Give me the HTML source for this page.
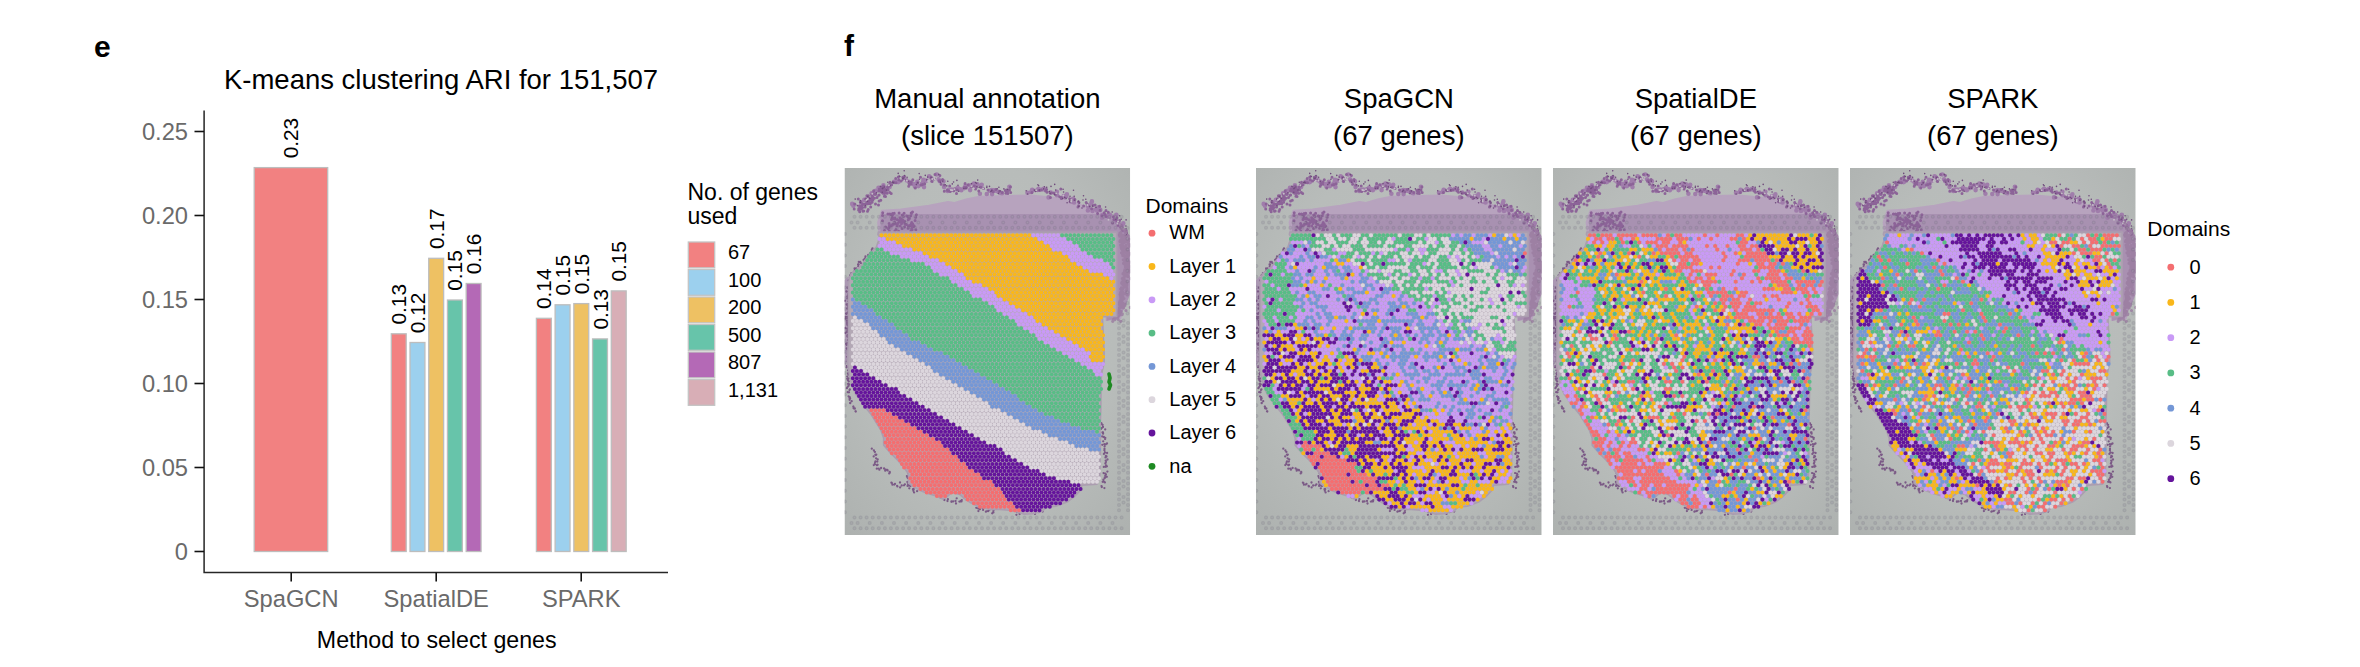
<!DOCTYPE html><html><head><meta charset="utf-8"><title>figure</title><style>html,body{margin:0;padding:0;background:#fff}body{width:2360px;height:667px;overflow:hidden}svg{display:block}</style></head><body><svg width="2360" height="667" viewBox="0 0 2360 667" font-family="Liberation Sans, Arial, Helvetica, sans-serif"><defs><radialGradient id="bgg" cx="0.5" cy="0.45" r="0.75"><stop offset="0" stop-color="#bcc0be"/><stop offset="0.6" stop-color="#b8bcba"/><stop offset="1" stop-color="#adb1af"/></radialGradient><clipPath id="pc"><rect width="285.7" height="367"/></clipPath><g id="tb" clip-path="url(#pc)"><rect width="285.7" height="367" fill="url(#bgg)"/><path d="M34.9 66L33.6 54.2L37.4 42.8L56.5 41.5L84.5 37.7L103.5 33.9L110 35L122.6 31.3L135.3 28.8L160.7 28.1L186.2 27.5L211.6 30L230.7 35.1L249.7 41.5L268.8 50.4L276 57L276 150L262 152L262 66Z" fill="#b7a3be" stroke="#b7a3be" stroke-width="2" stroke-linejoin="round"/><path d="M36 46H274V66H36Z" fill="#8d739c" opacity="0.36"/><path d="M270 58L279 60L285.7 68V126L281 138L275 149L262 153V147H270Z" fill="#a990b1"/><path d="M0 112L4 108V190L0 200Z" fill="#a990b1" opacity="0.8"/><g fill="none" stroke-linecap="round"><path d="M7.7 35.9h0M8.9 37.7h0M16.6 34.2h0M19.8 31.9h0M27.1 25.4h0M29.8 24.3h0M30.4 25.7h0M34 19.7h0M31.3 22.9h0M38.9 17.4h0M37.6 23.6h0M42.8 19.7h0M45.1 18.9h0M49.5 13.9h0M51.2 13.6h0M53.7 14.1h0M54.1 13.7h0M61.6 12.1h0M64.3 13.8h0M69 16.3h0M70.4 18.5h0M68.7 15.7h0M72.8 13.9h0M73.9 18.1h0M78.7 13.6h0M79.5 19.1h0M77.3 16.1h0M79 11.9h0M81.9 12.6h0M84.6 8.2h0M92.2 6.5h0M94.1 11.2h0M95.3 13.2h0M99 13.3h0M95.7 12.8h0M99.6 19.1h0M103.9 21.8h0M103.2 23h0M107.1 21.6h0M109 21.9h0M113.2 19.8h0M115.9 21.3h0M116.8 22.2h0M120.9 18.1h0M119.9 20.1h0M121.2 19.7h0M125.6 22.1h0M125.4 17.5h0M129.4 15.6h0M131 19.2h0M132.9 16.3h0M136.8 18.2h0M137.2 16.8h0M135.4 25.8h0M142.3 26h0M145.4 22.8h0M147.4 22.1h0M147.6 26.1h0M151.3 22.6h0M149.3 22.4h0M153.8 23.8h0M156.3 24.9h0M157.5 25.3h0M164.9 18.8h0M187.7 21.8h0M183 24.8h0M186.7 24h0M187.4 22.6h0M187.9 22.6h0M188.4 22.3h0M193.5 21.6h0M198.3 21.3h0M192.9 22h0M194.1 20.9h0M199.2 20.9h0M200.8 21.5h0M204.1 29.4h0M206.3 24.6h0M212.4 23.9h0M212.5 26.5h0M212.5 27.2h0M219.2 28.1h0M222.4 26.2h0M220.9 29.4h0M221.9 28.2h0M227.7 33.8h0M229.6 34.4h0M228.6 30.7h0M243.4 38h0M244 39.2h0M244.4 37.7h0M243.4 42.5h0M247.4 33.4h0M247 34.7h0M248 42.9h0M248.1 41.9h0M251.8 41.1h0M252.5 42.4h0M255.8 41.9h0M254.2 39.2h0M257.8 47.1h0M257.5 49.8h0M262.6 48h0M264.2 46.6h0M264.5 49.4h0M264 48.4h0M265.4 46.7h0M271.8 46.7h0M272.3 54h0M274.9 57.2h0M276.5 58h0M278.8 55.3h0M278.1 56.9h0M280.9 63.6h0" stroke="#a07dab" stroke-width="4.6"/><path d="M9.7 40.9h0M10.2 35.9h0M15.3 38h0M13.8 30.9h0M16.9 41.1h0M16.1 34.1h0M22.4 27.7h0M24.7 33.9h0M25.3 31.7h0M27.3 26.8h0M23.8 27.8h0M29.1 26.1h0M28.3 25.9h0M28.3 25.7h0M29.2 22.8h0M31.1 26.3h0M34.4 23.1h0M35.9 22.7h0M36.9 21.3h0M44.5 16.8h0M43.1 19.2h0M47.1 16.7h0M49.3 14.2h0M51.5 14.7h0M51.2 10.4h0M53.8 9h0M54.3 11.7h0M56.6 12.9h0M58.3 9.2h0M60 8.6h0M58.7 11.6h0M65 15.2h0M65.1 16.1h0M64.2 18.2h0M64.7 16.9h0M66.7 16.1h0M66.8 13.9h0M68.3 11.8h0M70.8 20h0M73.1 14.7h0M76 9.3h0M76.5 17.1h0M77.9 16.5h0M80.2 15.8h0M88.1 10.6h0M87.2 13.3h0M86.4 10.2h0M87.6 13.4h0M86.7 8.9h0M90.5 6.4h0M89.6 10.9h0M95.3 12.7h0M95.4 7.6h0M94.6 12.7h0M98.1 11.5h0M96.6 16.3h0M99.7 17h0M99.8 23.2h0M103.3 22.4h0M105.2 18.1h0M103.8 22.8h0M102.7 22.3h0M105.7 23.5h0M109.1 22.8h0M110.5 20.7h0M112.8 22h0M112 25.6h0M119.7 19.5h0M121.8 19.3h0M120.6 15.4h0M123.7 16.7h0M127 18.7h0M129.9 17.9h0M131 20.9h0M134.3 22.9h0M136.3 19.2h0M139 20.5h0M143.5 22h0M147.5 22.7h0M151.3 21.4h0M148.8 23.8h0M157.7 24.6h0M154.6 23.6h0M160.8 22.4h0M161.9 22h0M161.4 25.2h0M162.9 23.8h0M163.3 25.6h0M165.9 19h0M166.2 24.5h0M165 21.9h0M187.4 24.6h0M191.6 22.5h0M196.9 21.9h0M195.1 22.5h0M202 21.5h0M201.1 23h0M202.5 24.3h0M206.5 25h0M205.9 29.4h0M209.2 24.9h0M211 26.6h0M216.3 21.1h0M216.9 30.6h0M217 29.6h0M215.2 28.7h0M225.2 30.7h0M225.6 33.7h0M226.1 32.7h0M230.3 31.6h0M230.4 31.6h0M233.5 39.1h0M234.4 34.6h0M234.1 37.7h0M233.9 33.7h0M242.6 35.9h0M239.1 37.9h0M241.7 34.6h0M247.1 40.8h0M248.6 37.6h0M250.6 37.1h0M255.1 38.2h0M255.6 42.2h0M257.5 47.7h0M253.1 45.5h0M259.7 44.7h0M261.5 42.4h0M260.4 46.3h0M261.6 48.4h0M263.8 44.2h0M269.6 51.7h0M269.4 51.5h0M268.1 55h0M268.8 48.7h0M272.4 49.7h0M274.3 54.3h0M275.1 52.4h0M272.1 52.6h0M273.5 57.2h0M276.3 59.1h0M276.8 57.6h0M278.5 60.4h0M281.6 62.7h0M278.1 62.2h0M16 39.6h0M18.5 43.2h0M14.1 42.1h0M17 38.3h0M17.2 37.6h0M14.8 41.1h0M13.6 37.3h0M14.3 40.5h0M15.2 43.8h0M21.8 35.5h0M18.4 36.5h0M18 39.5h0M23 43.2h0M23.9 32.9h0M18.2 36.1h0M19.9 36.3h0M22.3 34.5h0M19.2 42.9h0M23.7 41.5h0M20.6 39.1h0M26.2 39h0M21.5 35.8h0M21.4 30.8h0M23.3 35.7h0M24.2 33h0M26.3 31.3h0M25.7 35.7h0M27.6 34.2h0M23.5 31.7h0M25 34.6h0M23 32.1h0M23.4 33.6h0M26.1 31.8h0M31 35.9h0M26.2 31.2h0M23.9 30.3h0M28.3 32h0M29.8 30.3h0M27.3 29h0M28.5 29.2h0M27.4 29.9h0M34 36.9h0M36.3 32.2h0M34.6 32.9h0M32.5 29.4h0M29.2 25.8h0M36.7 22.2h0M34.6 27.1h0M34.2 27.3h0M35.2 23.1h0M34.9 21h0M40.1 25.4h0M38.6 22.8h0M41 28.5h0M38.5 25.2h0M38.6 22.4h0M37.3 23.9h0M39.9 28.3h0M41.8 24.5h0M40.5 22.8h0M39 18h0M37.1 19.2h0M40 22.2h0M42.6 25.3h0M43.2 21.4h0M40.3 21h0M44.3 18.2h0M39 20.3h0M45.4 24.6h0M45.5 14.3h0M43.6 22.1h0M46.7 25.5h0M52.9 51.8h0M55.7 58h0M48.8 50.7h0M64.1 59.5h0M48.1 45.5h0M69.6 58.6h0M58.2 52.1h0M70.6 52.6h0M45.4 46h0M49.9 56h0M50.4 62.9h0M60.1 53.2h0M60.5 56h0M59 53.9h0M55.8 53.8h0M66.3 47.8h0M64.7 50h0M66.9 45.5h0M54.5 52.9h0M62.2 48h0M46.9 46.7h0M57.1 55.5h0M38 47.6h0M44.8 63.1h0M53.5 55.3h0M47.8 57.2h0M65.6 57.4h0M38 52.8h0M54.6 44.9h0M64.9 50.4h0M48 56.5h0M57.9 53.9h0M67.2 54.4h0M49.7 45.3h0M56.8 51.3h0M56.2 50.9h0M38.2 44.8h0M43.4 45.9h0M66.9 55.6h0M46.1 58.2h0M59.6 45.2h0M63.5 48.6h0M71.9 46.8h0M47.7 49h0M67.3 60.4h0M57.7 47h0M52.6 58h0M40 62.4h0M66.6 62.6h0M61.8 56.4h0M71.2 49.3h0M48.4 46.5h0M44.1 60h0M41.2 58.9h0M51.5 61.6h0M63.8 57.7h0M66.7 44.9h0M47 51.4h0M52.6 57.4h0M67.9 58.8h0M69.6 57.9h0M50.1 54.2h0M63.5 60.3h0M50.6 51.1h0M58.9 48.6h0M68 44h0M60.1 53.7h0M44.6 55.4h0M54.1 63.2h0M68.1 55.7h0M67.6 61.7h0M43.6 60.5h0M66.3 63.8h0M63.8 51.8h0M45 57.1h0M45.2 59.1h0M57.5 60.5h0M50.1 50.1h0M68.8 57.3h0M50.9 55.2h0M52.8 56.9h0M55.6 49.7h0M71.3 61.7h0M63.8 49.6h0M44.6 58.6h0M66 57.1h0M45.3 58.4h0M55.8 51.5h0M58 53h0M60.1 59h0" stroke="#8c6398" stroke-width="3"/><path d="M10.7 31.1h0M12.9 37.1h0M15.8 34.6h0M15.9 32.6h0M21 37.6h0M20.8 31.2h0M23 33.3h0M23.2 28.4h0M25.4 30.2h0M25 30h0M31.9 24.8h0M36 18.5h0M37.8 24.2h0M35.8 18.2h0M38.5 20h0M40 19h0M37.9 20.6h0M42 22.1h0M47.7 14.6h0M43.3 14.2h0M45.6 17.8h0M48.2 14h0M49.1 14.8h0M58.1 10.3h0M54.8 8h0M55.4 8.5h0M53.7 5.4h0M59.4 10.1h0M59.7 2.8h0M62.6 9.3h0M61.3 12.1h0M64.3 13.3h0M60 7.6h0M74.9 11.3h0M73.3 14.8h0M71.8 16.6h0M80.8 7.4h0M74.7 5.6h0M82.3 11.9h0M83.2 9.1h0M86.6 9.7h0M90.4 10.4h0M94.3 6.4h0M95.8 14.2h0M98.3 13.3h0M100.7 16.8h0M103.3 13.3h0M102.3 17.9h0M109.1 14h0M107.8 15.9h0M110.3 21.7h0M113.5 17.2h0M114.2 23.3h0M112.4 12.4h0M119.4 20.5h0M121.5 20.3h0M127 15.6h0M131 14.6h0M132.5 19h0M132.4 18.5h0M133.2 12.1h0M132.1 15.3h0M134.6 19.2h0M142.4 18.2h0M142.3 19.5h0M145 18.4h0M147.3 22.2h0M146.4 23.6h0M152.7 20.7h0M155.6 22.9h0M153.9 25.6h0M154.4 19.2h0M159.4 20.9h0M163.1 21.4h0M181.7 22.7h0M183.1 26h0M189.8 22.1h0M193.4 16.8h0M190.9 22.7h0M191 23.5h0M194.1 17.6h0M194.7 22.1h0M199.2 20.9h0M206.5 18.4h0M202.2 19.2h0M199.9 18.8h0M204.8 23.6h0M205.6 25.5h0M210.2 16.4h0M211.2 22h0M210 26.4h0M211.9 24.7h0M218.6 21.3h0M220.2 29.4h0M218.2 30.5h0M219.1 24h0M221.6 30.2h0M222.6 34.7h0M225.5 33.4h0M229 22.2h0M225.9 32.4h0M225.5 28.2h0M229.9 32.2h0M234.9 35h0M234.4 38.4h0M229.7 28.2h0M234.9 35h0M241.3 31.2h0M237.5 40h0M234 33.4h0M239 27.7h0M238.5 32h0M245 38.3h0M245.2 38.6h0M247.8 38.1h0M251.5 39.4h0M261.1 39h0M267.7 44h0M271.3 51.3h0M275.1 47.7h0M276.7 51.3h0M276 56.5h0M281.5 60.8h0M281.4 58h0M281.6 51.9h0M280.8 67.6h0M282.1 66.9h0M282.8 65h0" stroke="#6f4a7b" stroke-width="1.6"/><path d="M13.5 36.1h0M22 32h0M23.3 30.9h0M27.8 25.7h0M44.4 17.2h0M59.8 12.8h0M62.3 12.4h0M83.6 13.1h0M87.8 11.1h0M90.3 11.3h0M89.7 9.9h0M106.4 22.1h0M107.9 22.2h0M110 21.3h0M126.9 18.3h0M129.3 20.6h0M138.6 20.5h0M191.7 22.3h0M211.8 25.3h0M215.1 25.4h0M216.1 26.4h0M218.8 27.6h0M226.8 31.9h0M226.7 33.4h0M242.9 37h0M264 51.8h0M273.6 53.6h0M273 55.5h0M275.3 56.4h0M278.6 60.8h0" stroke="#c3bcc6" stroke-width="2"/><path d="M275.7 65.9h0M281.6 64.4h0M276.5 64.4h0M274.7 66.9h0M275.5 65.2h0M276.8 66.5h0M275.7 67.8h0M277 68.2h0M280.1 67.2h0M280.3 70h0M277.8 70.8h0M278.2 72.1h0M275.3 68.2h0M280.4 72.1h0M279.3 70.9h0M276.2 72h0M281.4 73.4h0M277.1 71h0M276.4 71.8h0M278 72.2h0M283.4 75h0M277.7 74.8h0M275.5 73.6h0M282 73.5h0M278.2 74.8h0M275.8 72.7h0M279.8 74.5h0M277.3 78.1h0M285 76.5h0M278 76.7h0M276.8 80.5h0M276.5 78.7h0M276.1 77h0M279.9 78.8h0M281.3 77.4h0M277.7 81.6h0M278.4 80.8h0M281.5 80.9h0M279 79.8h0M277.6 80.6h0M277.8 81.7h0M280.7 84h0M278.6 82.6h0M277 84.8h0M277.9 85.7h0M283.4 84.9h0M281.5 81.9h0M277.6 84.3h0M279.3 86.9h0M278.7 85.1h0M278.4 82h0M281.4 84h0M284 85.2h0M278.7 84.4h0M278.2 87.6h0M279.7 88.1h0M279.2 87.7h0M282.3 88.4h0M278.2 85.6h0M278.8 91.8h0M280.7 89.7h0M282.4 91.9h0M282.8 88.3h0M282.2 92.4h0M280.2 92h0M283.3 92.5h0M285.3 94.3h0M287.6 93.2h0M279 95.3h0M282.4 90.4h0M284.1 94.2h0M280.5 96.5h0M284.6 97h0M280 94.7h0M281.8 94.5h0M281.7 96.7h0M282.1 96.5h0M281.9 91.9h0M284.2 95.3h0M281.9 95.4h0M281.5 98.3h0M282.2 100.3h0M281.4 101.1h0M281.7 100.5h0M284.7 99.4h0M281.5 101h0M280.9 99h0M284 97.8h0M286.6 103.7h0M286.1 98.9h0M285.3 102.1h0M280.4 101.6h0M284.1 102.3h0M284.3 104.2h0M284.5 102.3h0M280 103h0M280.4 103h0M279.2 105h0M283.5 108.6h0M282.6 107.9h0M281.7 105.4h0M282.9 107h0M282.8 107.3h0M279.2 106.3h0M279.6 105.5h0M278.5 105.7h0M286.3 110.6h0M280.3 108h0M279.5 110.2h0M278.8 112.8h0M279.7 107.1h0M278.6 111.9h0M280.7 112.5h0M278.5 110h0M277.9 110.5h0M279 115.1h0M281.7 113.4h0M277.6 114.2h0M281.5 114h0M279.8 112.8h0M282.5 113.9h0M277.2 115.1h0M280.5 114.6h0M278.5 116.8h0M277.4 115.4h0M280.4 117.9h0M279.6 119.2h0M282.4 116.7h0M279.9 116h0M278.1 120.7h0M279 117.1h0M282.1 118.9h0M277.6 122.3h0M276.9 119.9h0M276.1 124.4h0M281.5 122.6h0M277 121h0M276.2 121.1h0M277.5 121.5h0M282.4 121h0M278.1 123.7h0M279 125.8h0M276.8 124.1h0M280.8 125.7h0M275.6 126.3h0M279.7 125.6h0M282.8 126.9h0M277.5 127.7h0M277.1 125.4h0M278.4 128.8h0M278.2 130.4h0M276.7 126.2h0M276.1 128.1h0M277.8 127.6h0M276.3 129.5h0M276.2 131.8h0M278 131.4h0M278 128.7h0M278.5 130h0M277.2 133.8h0M278.5 130.1h0M275 134.6h0M275.4 133.4h0M279.4 130.5h0M276.3 132.2h0M276.6 133.6h0M280.4 137.5h0M276.2 131.3h0M280.6 136.3h0M274.9 135.1h0M276.5 131.6h0M278.1 136.7h0M276.9 135.5h0M276.4 138.7h0M285.8 139.4h0M278.5 135.2h0M274.9 136.5h0M275.9 136.9h0M278.6 139h0M274.9 139.7h0M276.8 139.2h0M281.5 142.5h0M279.2 139.8h0M274.5 141.8h0M276.7 143.6h0M274.6 144.4h0M275.4 145.2h0M274.5 143.6h0M274.3 142.8h0M275.7 143.1h0M274.7 143h0M273.5 144.5h0M273 144h0M277.8 145.8h0M274.2 143.9h0M272.9 145.4h0M271.7 145.7h0M277.7 146.6h0M271.3 147.8h0M271.1 146h0M275.9 146.8h0M273.8 148.6h0M273.1 149.2h0M272.5 146.3h0M270.4 150.8h0M270 148.2h0M269.9 150.2h0M271.9 149.8h0M270.6 148.9h0M271.8 149h0M268.8 151.5h0M270.3 151.7h0M271.2 149.9h0M276.3 153.3h0M273.8 151.5h0M268.2 153.3h0M274.8 55h0M276 57.2h0M277.4 60.2h0M276.6 58.1h0M276.5 60.8h0M279.1 61.5h0M280.7 61.8h0M278.4 67.7h0M281.1 64.5h0M283.3 67.5h0M281 69.2h0M284.6 71.1h0M283 74.1h0M281.9 72.9h0M284 73.2h0M284.4 76.8h0M284.9 78.2h0M286.5 77.3h0M283 80.1h0M283.7 83.3h0M282.2 85.4h0M285.5 85.6h0M281.9 87.9h0M284.6 87.1h0M283 89.3h0" stroke="#9a7ca0" stroke-opacity="0.8" stroke-width="3.2"/><path d="M28 80.4h0M27.4 81.5h0M27.3 82.1h0M27.4 85.1h0M26 84.8h0M25.3 86.5h0M23.7 87h0M23.5 88.1h0M21 88.5h0M20.5 90.3h0M19.9 93.3h0M19.7 91.5h0M19.1 91.9h0M16.4 95.2h0M15.7 94h0M14.3 93.9h0M14.1 96.5h0M13.6 96.4h0M13.7 98.3h0M13.2 101.2h0M11.6 100.5h0M10.1 100.5h0M10.4 101.9h0M10 103.4h0M9.2 104.5h0M6.9 105.2h0M7.7 107.6h0M5.6 107.3h0M6.6 108.9h0M5.5 109.8h0M4.2 112.5h0M5 112.5h0M5.7 115.6h0M4.8 115.9h0M5.4 116.6h0M3.1 119.4h0M4.1 120.5h0M3.2 120.1h0M4 123.8h0M2 123.5h0M3.9 126.1h0M3.7 127.7h0M2.9 128.4h0M3 130.4h0M3.8 129.3h0M3.9 128.9h0M3.9 133.3h0M0.5 132.8h0M2.2 136.5h0M2.9 136.2h0M3.8 137h0M3.6 138h0M3.2 140.5h0M2.7 140.5h0M3.9 143.3h0M3 144.8h0M1.5 145.6h0M2 145.9h0M3 149h0M1.2 149h0M1.2 150.8h0M3.4 150.5h0M2.6 152.9h0M2.7 155h0M2.8 156.2h0M3 157h0M4 159.1h0M2.9 160.9h0M1 160h0M3 162.9h0M0.9 165h0M2.5 164.1h0M4 166.5h0M2.9 167.3h0M2.9 168.4h0M4 169.6h0M3.8 172.5h0M3.7 172h0M3.2 175.1h0M2.7 175.3h0M1.6 175.9h0M2.3 176.9h0M3 181.5h0M2.3 180.4h0M3.4 182.2h0M3.9 181.5h0M3.7 183.6h0M3.3 186h0M-1.5 184.8h0M3.4 190h0M2.7 188.8h0M3.4 191.9h0M3.8 190.4h0M3.1 193.3h0M4.2 193.5h0M2.5 197.9h0M3.6 198.4h0M2.1 199.3h0M4.5 200.4h0M3.4 202.3h0M4 204.9h0M4 205.9h0M3.5 205.7h0M3.9 206.5h0M2.7 208.6h0M4.2 210.4h0M2.7 210.8h0M3.4 212.3h0M4.3 213.4h0M3.6 215.9h0M4.8 216.4h0M4 217.9h0M2.9 219.3h0M5.4 221.4h0M2.4 220.2h0M5 222.1h0M3.2 224.2h0M4.5 224.3h0M5.2 229.2h0M4.1 228.3h0M5 230h0M5.6 230.4h0M5.1 231.8h0M7.2 233.2h0M5.7 234.8h0M5.7 235.2h0M8.8 238.7h0M8.9 238.7h0M9.1 240.3h0M10.3 240.4h0M10.3 240.7h0M11.3 243.5h0M11 243.3h0M27.3 280.7h0M29.4 282.5h0M30.4 283.9h0M30.9 286.6h0M31.8 286.6h0M29.2 288.4h0M31.4 287.1h0M31.6 290.3h0M33.2 291.5h0M32.8 293.6h0M31 293.4h0M30.6 294.3h0M30.3 296h0M29.3 297.1h0M32.2 297.1h0M32.8 297h0M32.3 300.7h0M34.2 300.6h0M33.1 296.8h0M36.6 300h0M34.9 301.7h0M39.6 300.5h0M40.7 302.7h0M41.2 301.7h0M43.1 302.4h0M42.8 301.8h0M44.7 305.4h0M45.2 303.8h0M45.3 304.7h0M46.9 314.7h0M47.9 316.7h0M47.4 315.1h0M50.5 315.9h0M49.8 316.6h0M52.9 318.4h0M52.6 317.9h0M55.5 314.5h0M57.2 317.5h0M55.6 319.4h0M59.5 317.3h0M63.1 317.9h0M60.4 316.3h0M65 317.4h0M63.8 304.9h0M63.7 305.4h0M62.4 308.1h0M62.9 309.2h0M63.2 310h0M66.3 311.6h0M65.5 310.3h0M63.8 314.3h0M62.9 313.9h0M64.8 317h0M63.4 316.1h0M65.9 318.1h0M64.8 320.3h0M68.5 321.2h0M69.2 321.3h0M69 321h0M68.8 322.7h0M69.6 324.4h0M72.6 323.2h0M96.1 328h0M96 329.4h0M96.8 329.7h0M99.5 329.9h0M100 329.6h0M99.9 332h0M103 333h0M103.4 331.2h0M106.9 333.8h0M108.6 333.4h0M107 333.3h0M112.2 330.3h0M111.5 335.5h0M111 333h0M115.9 333.3h0M114.9 333.6h0M115.7 333.3h0M117 333.4h0M117.3 332.1h0M119.7 329.4h0M121.9 331.6h0M121.2 330.2h0M131.8 339.8h0M133.9 343.1h0M133.8 340.5h0M135.4 341.2h0M137.3 339.3h0M138.6 341.9h0M138.4 340.2h0M141.4 343.7h0M141.9 343.4h0M143.8 343h0M144.9 341.7h0M146.1 340.2h0M147.7 345.3h0M149 342.5h0M148.4 344.4h0M148.9 344.4h0M171.9 346.8h0M172.6 344.2h0M175.1 346h0M175.2 342.9h0M175.3 342.5h0M178.1 343.1h0M179.3 342.4h0M180.1 344.7h0M180.4 345.3h0M183 342.8h0M183.7 343.6h0M184.3 342.8h0M186.9 341.1h0M190.8 344.3h0M190.5 345.9h0M191.1 343h0M191.3 343.6h0M194.4 341.7h0M196 342.2h0M193.8 344.1h0M195.7 343.2h0M195.9 343.1h0M198.2 343.5h0M198.1 341.1h0M256.8 255.2h0M256.9 255.8h0M258.1 256.9h0M258.5 259h0M256.4 261.1h0M257.2 260.1h0M260.7 261.4h0M258.5 264.3h0M258 264.5h0M258.6 265.7h0M257.6 268.4h0M259.2 269.1h0M259.3 268.8h0M260.8 269.9h0M260.6 271.1h0M258.7 273.3h0M262.5 275.5h0M259.9 276.2h0M261.3 276.3h0M257.7 276.8h0M260.1 278.4h0M259.9 282.3h0M260 281h0M260.5 284.4h0M262.6 285h0M260.3 284.8h0M259.4 285.9h0M262 288.5h0M261.4 287.8h0M261 289.4h0M263 291.5h0M261.2 292.6h0M261.4 294h0M260.9 295.4h0M261.7 297.4h0M262.4 298.3h0M261.2 298.8h0M259.3 298.9h0M261.2 298.3h0M262.9 303.6h0M261.4 306.6h0M259.1 305.1h0M260.9 305.6h0M262.3 308.8h0M260.8 307.6h0M260.3 310h0M260.3 309.5h0M258.2 313.8h0M259.3 313.6h0M258.9 311.7h0M260.4 314.4h0M257 318.1h0M259.9 320.1h0M257.3 319h0" stroke="#7b5a86" stroke-width="2.3"/></g><path d="M33.8 64.1L272.2 64.1L272.2 148.5L257.9 148.8L259.6 185L259.6 194.4L256.8 207.5L256.3 241.2L255.5 263.7L255.9 265.1L255.9 282.9L255.3 309.2L252.5 316.3L237.5 317.2L235.6 322.8L230 328.5L222.5 334.1L211.3 338.2L201.9 339.1L198.2 342.9L187.9 345.7L179.2 346.1L173.6 344.2L164.2 342.3L154.9 341.4L145.5 341.4L141.3 340.5L133.8 338.6L126.3 334.8L120.7 331.1L115.1 326.4L107.6 324.5L102 329.2L98.2 331.1L92.6 328.3L83.2 325.5L73.8 321.7L64.1 315.3L64.1 306.3L59.8 299.8L53.2 292.3L45.7 284.8L39.2 277.3L39.2 270.3L36.4 262.2L31.7 254.7L26.1 245.7L21.4 240.1L16.7 233.5L11.1 226L7.4 217.2L5.1 207.9L3.2 196.2L3.2 185L4 172.4L4 144.3L4 116.2L4.9 109.7L7 105.5L11.7 101.8L17.3 97.1L20.1 92.8L23.9 88.1L27.6 83.4L30.6 80.2L32.1 78.7L32.9 75.9L35.5 69.4L33.4 66.6Z" fill="#b3a8b5" stroke="#ab9db0" stroke-width="1.6" stroke-linejoin="round"/><path d="M10 48.8h0M16.1 48.8h0M22.1 48.8h0M28.2 48.8h0M34.3 48.8h0M40.4 48.8h0M46.4 48.8h0M52.5 48.8h0M58.6 48.8h0M64.6 48.8h0M70.7 48.8h0M76.8 48.8h0M82.8 48.8h0M88.9 48.8h0M95 48.8h0M101 48.8h0M107.1 48.8h0M113.2 48.8h0M119.3 48.8h0M125.3 48.8h0M131.4 48.8h0M137.5 48.8h0M143.5 48.8h0M149.6 48.8h0M155.7 48.8h0M161.7 48.8h0M167.8 48.8h0M173.9 48.8h0M180 48.8h0M186 48.8h0M192.1 48.8h0M198.2 48.8h0M204.2 48.8h0M210.3 48.8h0M216.4 48.8h0M222.4 48.8h0M228.5 48.8h0M234.6 48.8h0M240.7 48.8h0M246.7 48.8h0M252.8 48.8h0M258.9 48.8h0M264.9 48.8h0M271 48.8h0M277.1 48.8h0M7 54.4h0M13.1 54.4h0M25.2 54.4h0M37.4 54.4h0M49.5 54.4h0M61.6 54.4h0M73.8 54.4h0M85.9 54.4h0M98 54.4h0M110.2 54.4h0M122.3 54.4h0M134.5 54.4h0M146.6 54.4h0M158.7 54.4h0M170.9 54.4h0M183 54.4h0M195.2 54.4h0M207.3 54.4h0M219.4 54.4h0M231.6 54.4h0M243.7 54.4h0M255.9 54.4h0M268 54.4h0M10 59.8h0M16.1 59.8h0M22.1 59.8h0M28.2 59.8h0M34.3 59.8h0M40.4 59.8h0M46.4 59.8h0M52.5 59.8h0M58.6 59.8h0M64.6 59.8h0M70.7 59.8h0M76.8 59.8h0M82.8 59.8h0M88.9 59.8h0M95 59.8h0M101 59.8h0M107.1 59.8h0M113.2 59.8h0M119.3 59.8h0M125.3 59.8h0M131.4 59.8h0M137.5 59.8h0M143.5 59.8h0M149.6 59.8h0M155.7 59.8h0M161.7 59.8h0M167.8 59.8h0M173.9 59.8h0M180 59.8h0M186 59.8h0M192.1 59.8h0M198.2 59.8h0M204.2 59.8h0M210.3 59.8h0M216.4 59.8h0M222.4 59.8h0M228.5 59.8h0M234.6 59.8h0M240.7 59.8h0M246.7 59.8h0M252.8 59.8h0M258.9 59.8h0M264.9 59.8h0M271 59.8h0M277.1 59.8h0M10 349.5h0M16.1 349.5h0M22.1 349.5h0M28.2 349.5h0M34.3 349.5h0M40.4 349.5h0M46.4 349.5h0M52.5 349.5h0M58.6 349.5h0M64.6 349.5h0M70.7 349.5h0M76.8 349.5h0M82.8 349.5h0M88.9 349.5h0M95 349.5h0M101 349.5h0M107.1 349.5h0M113.2 349.5h0M119.3 349.5h0M125.3 349.5h0M131.4 349.5h0M137.5 349.5h0M143.5 349.5h0M149.6 349.5h0M155.7 349.5h0M161.7 349.5h0M167.8 349.5h0M173.9 349.5h0M180 349.5h0M186 349.5h0M192.1 349.5h0M198.2 349.5h0M204.2 349.5h0M210.3 349.5h0M216.4 349.5h0M222.4 349.5h0M228.5 349.5h0M234.6 349.5h0M240.7 349.5h0M246.7 349.5h0M252.8 349.5h0M258.9 349.5h0M264.9 349.5h0M271 349.5h0M277.1 349.5h0M7 355h0M13.1 355h0M25.2 355h0M37.4 355h0M49.5 355h0M61.6 355h0M73.8 355h0M85.9 355h0M98 355h0M110.2 355h0M122.3 355h0M134.5 355h0M146.6 355h0M158.7 355h0M170.9 355h0M183 355h0M195.2 355h0M207.3 355h0M219.4 355h0M231.6 355h0M243.7 355h0M255.9 355h0M268 355h0M10 360.3h0M16.1 360.3h0M22.1 360.3h0M28.2 360.3h0M34.3 360.3h0M40.4 360.3h0M46.4 360.3h0M52.5 360.3h0M58.6 360.3h0M64.6 360.3h0M70.7 360.3h0M76.8 360.3h0M82.8 360.3h0M88.9 360.3h0M95 360.3h0M101 360.3h0M107.1 360.3h0M113.2 360.3h0M119.3 360.3h0M125.3 360.3h0M131.4 360.3h0M137.5 360.3h0M143.5 360.3h0M149.6 360.3h0M155.7 360.3h0M161.7 360.3h0M167.8 360.3h0M173.9 360.3h0M180 360.3h0M186 360.3h0M192.1 360.3h0M198.2 360.3h0M204.2 360.3h0M210.3 360.3h0M216.4 360.3h0M222.4 360.3h0M228.5 360.3h0M234.6 360.3h0M240.7 360.3h0M246.7 360.3h0M252.8 360.3h0M258.9 360.3h0M264.9 360.3h0M271 360.3h0M277.1 360.3h0M0.4 66h0M0.4 76.7h0M0.4 87.4h0M0.4 98.1h0M0.4 108.8h0M0.4 119.5h0M0.4 130.2h0M0.4 140.9h0M0.4 151.6h0M0.4 162.3h0M0.4 173h0M0.4 183.7h0M0.4 194.4h0M0.4 205.1h0M0.4 215.8h0M0.4 226.5h0M0.4 237.2h0M0.4 247.9h0M0.4 258.6h0M0.4 269.3h0M0.4 280h0M0.4 290.7h0M0.4 301.4h0M0.4 312.1h0M0.4 322.8h0M0.4 333.5h0M0.4 344.2h0M274.5 155h0M274.5 160.3h0M274.5 165.7h0M274.5 171h0M274.5 176.4h0M274.5 181.7h0M274.5 187.1h0M274.5 192.4h0M274.5 197.8h0M274.5 203.1h0M274.5 208.5h0M274.5 213.8h0M274.5 219.2h0M274.5 224.5h0M274.5 229.9h0M274.5 235.2h0M274.5 240.6h0M274.5 245.9h0M274.5 251.3h0M274.5 256.6h0M274.5 262h0M274.5 267.3h0M274.5 272.7h0M274.5 278.1h0M274.5 283.4h0M274.5 288.8h0M274.5 294.1h0M274.5 299.5h0M274.5 304.8h0M274.5 310.2h0M274.5 315.5h0M274.5 320.9h0M274.5 326.2h0M274.5 331.6h0M274.5 336.9h0M274.5 342.3h0M279 152.5h0M279 157.8h0M279 168.5h0M279 173.9h0M279 184.6h0M279 189.9h0M279 200.6h0M279 206h0M279 216.7h0M279 222h0M279 232.7h0M279 238.1h0M279 248.8h0M279 254.1h0M279 264.8h0M279 270.2h0M279 280.9h0M279 286.2h0M279 297h0M279 302.3h0M279 313h0M279 318.4h0M279 329.1h0M279 334.4h0M283.5 155h0M283.5 160.3h0M283.5 165.7h0M283.5 171h0M283.5 176.4h0M283.5 181.7h0M283.5 187.1h0M283.5 192.4h0M283.5 197.8h0M283.5 203.1h0M283.5 208.5h0M283.5 213.8h0M283.5 219.2h0M283.5 224.5h0M283.5 229.9h0M283.5 235.2h0M283.5 240.6h0M283.5 245.9h0M283.5 251.3h0M283.5 256.6h0M283.5 262h0M283.5 267.3h0M283.5 272.7h0M283.5 278.1h0M283.5 283.4h0M283.5 288.8h0M283.5 294.1h0M283.5 299.5h0M283.5 304.8h0M283.5 310.2h0M283.5 315.5h0M283.5 320.9h0M283.5 326.2h0M283.5 331.6h0M283.5 336.9h0M283.5 342.3h0M283 60h0M283 70.7h0M283 81.4h0M283 92.1h0M283 102.8h0M283 113.5h0M283 124.2h0M283 134.9h0M283 145.6h0" fill="none" stroke="#6a6275" stroke-opacity="0.21" stroke-width="4" stroke-linecap="round"/><path d="M10 48.8h0M16.1 48.8h0M22.1 48.8h0M28.2 48.8h0M34.3 48.8h0M40.4 48.8h0M46.4 48.8h0M52.5 48.8h0M58.6 48.8h0M64.6 48.8h0M70.7 48.8h0M76.8 48.8h0M82.8 48.8h0M88.9 48.8h0M95 48.8h0M101 48.8h0M107.1 48.8h0M113.2 48.8h0M119.3 48.8h0M125.3 48.8h0M131.4 48.8h0M137.5 48.8h0M143.5 48.8h0M149.6 48.8h0M155.7 48.8h0M161.7 48.8h0M167.8 48.8h0M173.9 48.8h0M180 48.8h0M186 48.8h0M192.1 48.8h0M198.2 48.8h0M204.2 48.8h0M210.3 48.8h0M216.4 48.8h0M222.4 48.8h0M228.5 48.8h0M234.6 48.8h0M240.7 48.8h0M246.7 48.8h0M252.8 48.8h0M258.9 48.8h0M264.9 48.8h0M271 48.8h0M277.1 48.8h0M7 54.4h0M13.1 54.4h0M25.2 54.4h0M37.4 54.4h0M49.5 54.4h0M61.6 54.4h0M73.8 54.4h0M85.9 54.4h0M98 54.4h0M110.2 54.4h0M122.3 54.4h0M134.5 54.4h0M146.6 54.4h0M158.7 54.4h0M170.9 54.4h0M183 54.4h0M195.2 54.4h0M207.3 54.4h0M219.4 54.4h0M231.6 54.4h0M243.7 54.4h0M255.9 54.4h0M268 54.4h0M10 59.8h0M16.1 59.8h0M22.1 59.8h0M28.2 59.8h0M34.3 59.8h0M40.4 59.8h0M46.4 59.8h0M52.5 59.8h0M58.6 59.8h0M64.6 59.8h0M70.7 59.8h0M76.8 59.8h0M82.8 59.8h0M88.9 59.8h0M95 59.8h0M101 59.8h0M107.1 59.8h0M113.2 59.8h0M119.3 59.8h0M125.3 59.8h0M131.4 59.8h0M137.5 59.8h0M143.5 59.8h0M149.6 59.8h0M155.7 59.8h0M161.7 59.8h0M167.8 59.8h0M173.9 59.8h0M180 59.8h0M186 59.8h0M192.1 59.8h0M198.2 59.8h0M204.2 59.8h0M210.3 59.8h0M216.4 59.8h0M222.4 59.8h0M228.5 59.8h0M234.6 59.8h0M240.7 59.8h0M246.7 59.8h0M252.8 59.8h0M258.9 59.8h0M264.9 59.8h0M271 59.8h0M277.1 59.8h0M10 349.5h0M16.1 349.5h0M22.1 349.5h0M28.2 349.5h0M34.3 349.5h0M40.4 349.5h0M46.4 349.5h0M52.5 349.5h0M58.6 349.5h0M64.6 349.5h0M70.7 349.5h0M76.8 349.5h0M82.8 349.5h0M88.9 349.5h0M95 349.5h0M101 349.5h0M107.1 349.5h0M113.2 349.5h0M119.3 349.5h0M125.3 349.5h0M131.4 349.5h0M137.5 349.5h0M143.5 349.5h0M149.6 349.5h0M155.7 349.5h0M161.7 349.5h0M167.8 349.5h0M173.9 349.5h0M180 349.5h0M186 349.5h0M192.1 349.5h0M198.2 349.5h0M204.2 349.5h0M210.3 349.5h0M216.4 349.5h0M222.4 349.5h0M228.5 349.5h0M234.6 349.5h0M240.7 349.5h0M246.7 349.5h0M252.8 349.5h0M258.9 349.5h0M264.9 349.5h0M271 349.5h0M277.1 349.5h0M7 355h0M13.1 355h0M25.2 355h0M37.4 355h0M49.5 355h0M61.6 355h0M73.8 355h0M85.9 355h0M98 355h0M110.2 355h0M122.3 355h0M134.5 355h0M146.6 355h0M158.7 355h0M170.9 355h0M183 355h0M195.2 355h0M207.3 355h0M219.4 355h0M231.6 355h0M243.7 355h0M255.9 355h0M268 355h0M10 360.3h0M16.1 360.3h0M22.1 360.3h0M28.2 360.3h0M34.3 360.3h0M40.4 360.3h0M46.4 360.3h0M52.5 360.3h0M58.6 360.3h0M64.6 360.3h0M70.7 360.3h0M76.8 360.3h0M82.8 360.3h0M88.9 360.3h0M95 360.3h0M101 360.3h0M107.1 360.3h0M113.2 360.3h0M119.3 360.3h0M125.3 360.3h0M131.4 360.3h0M137.5 360.3h0M143.5 360.3h0M149.6 360.3h0M155.7 360.3h0M161.7 360.3h0M167.8 360.3h0M173.9 360.3h0M180 360.3h0M186 360.3h0M192.1 360.3h0M198.2 360.3h0M204.2 360.3h0M210.3 360.3h0M216.4 360.3h0M222.4 360.3h0M228.5 360.3h0M234.6 360.3h0M240.7 360.3h0M246.7 360.3h0M252.8 360.3h0M258.9 360.3h0M264.9 360.3h0M271 360.3h0M277.1 360.3h0M0.4 66h0M0.4 76.7h0M0.4 87.4h0M0.4 98.1h0M0.4 108.8h0M0.4 119.5h0M0.4 130.2h0M0.4 140.9h0M0.4 151.6h0M0.4 162.3h0M0.4 173h0M0.4 183.7h0M0.4 194.4h0M0.4 205.1h0M0.4 215.8h0M0.4 226.5h0M0.4 237.2h0M0.4 247.9h0M0.4 258.6h0M0.4 269.3h0M0.4 280h0M0.4 290.7h0M0.4 301.4h0M0.4 312.1h0M0.4 322.8h0M0.4 333.5h0M0.4 344.2h0M274.5 155h0M274.5 160.3h0M274.5 165.7h0M274.5 171h0M274.5 176.4h0M274.5 181.7h0M274.5 187.1h0M274.5 192.4h0M274.5 197.8h0M274.5 203.1h0M274.5 208.5h0M274.5 213.8h0M274.5 219.2h0M274.5 224.5h0M274.5 229.9h0M274.5 235.2h0M274.5 240.6h0M274.5 245.9h0M274.5 251.3h0M274.5 256.6h0M274.5 262h0M274.5 267.3h0M274.5 272.7h0M274.5 278.1h0M274.5 283.4h0M274.5 288.8h0M274.5 294.1h0M274.5 299.5h0M274.5 304.8h0M274.5 310.2h0M274.5 315.5h0M274.5 320.9h0M274.5 326.2h0M274.5 331.6h0M274.5 336.9h0M274.5 342.3h0M279 152.5h0M279 157.8h0M279 168.5h0M279 173.9h0M279 184.6h0M279 189.9h0M279 200.6h0M279 206h0M279 216.7h0M279 222h0M279 232.7h0M279 238.1h0M279 248.8h0M279 254.1h0M279 264.8h0M279 270.2h0M279 280.9h0M279 286.2h0M279 297h0M279 302.3h0M279 313h0M279 318.4h0M279 329.1h0M279 334.4h0M283.5 155h0M283.5 160.3h0M283.5 165.7h0M283.5 171h0M283.5 176.4h0M283.5 181.7h0M283.5 187.1h0M283.5 192.4h0M283.5 197.8h0M283.5 203.1h0M283.5 208.5h0M283.5 213.8h0M283.5 219.2h0M283.5 224.5h0M283.5 229.9h0M283.5 235.2h0M283.5 240.6h0M283.5 245.9h0M283.5 251.3h0M283.5 256.6h0M283.5 262h0M283.5 267.3h0M283.5 272.7h0M283.5 278.1h0M283.5 283.4h0M283.5 288.8h0M283.5 294.1h0M283.5 299.5h0M283.5 304.8h0M283.5 310.2h0M283.5 315.5h0M283.5 320.9h0M283.5 326.2h0M283.5 331.6h0M283.5 336.9h0M283.5 342.3h0M283 60h0M283 70.7h0M283 81.4h0M283 92.1h0M283 102.8h0M283 113.5h0M283 124.2h0M283 134.9h0M283 145.6h0" fill="none" stroke="#c9c9cc" stroke-opacity="0.2" stroke-width="1.5" stroke-linecap="round"/></g></defs><rect width="2360" height="667" fill="#fff"/><text x="94" y="56.5" font-size="30" text-anchor="start" fill="#000" font-weight="bold" >e</text><text x="441" y="89.3" font-size="27.5" text-anchor="middle" fill="#000" font-weight="normal" >K-means clustering ARI for 151,507</text><path d="M204.1 110.5V572.4H668" fill="none" stroke="#262626" stroke-width="1.5"/><path d="M194.5 551.5H204" stroke="#111" stroke-width="1.6"/><text x="188" y="560.3" font-size="23.7" text-anchor="end" fill="#6a6a6a" font-weight="normal" >0</text><path d="M194.5 467.5H204" stroke="#111" stroke-width="1.6"/><text x="188" y="476.3" font-size="23.7" text-anchor="end" fill="#6a6a6a" font-weight="normal" >0.05</text><path d="M194.5 383.5H204" stroke="#111" stroke-width="1.6"/><text x="188" y="392.3" font-size="23.7" text-anchor="end" fill="#6a6a6a" font-weight="normal" >0.10</text><path d="M194.5 299.5H204" stroke="#111" stroke-width="1.6"/><text x="188" y="308.3" font-size="23.7" text-anchor="end" fill="#6a6a6a" font-weight="normal" >0.15</text><path d="M194.5 215.5H204" stroke="#111" stroke-width="1.6"/><text x="188" y="224.3" font-size="23.7" text-anchor="end" fill="#6a6a6a" font-weight="normal" >0.20</text><path d="M194.5 131.5H204" stroke="#111" stroke-width="1.6"/><text x="188" y="140.3" font-size="23.7" text-anchor="end" fill="#6a6a6a" font-weight="normal" >0.25</text><path d="M291.2 572.4V581.6" stroke="#111" stroke-width="1.6"/><text x="291.2" y="607" font-size="23.7" text-anchor="middle" fill="#6a6a6a" font-weight="normal" >SpaGCN</text><path d="M436.2 572.4V581.6" stroke="#111" stroke-width="1.6"/><text x="436.2" y="607" font-size="23.7" text-anchor="middle" fill="#6a6a6a" font-weight="normal" >SpatialDE</text><path d="M581.2 572.4V581.6" stroke="#111" stroke-width="1.6"/><text x="581.2" y="607" font-size="23.7" text-anchor="middle" fill="#6a6a6a" font-weight="normal" >SPARK</text><text x="436.7" y="648" font-size="23.2" text-anchor="middle" fill="#000" font-weight="normal" >Method to select genes</text><rect x="254.2" y="167.6" width="73.5" height="383.9" fill="#F28181" stroke="#bdbdbd" stroke-width="1.3"/><text transform="translate(298.45,158.3) rotate(-90)" font-size="20.8" fill="#000">0.23</text><rect x="391.3" y="333.8" width="14.9" height="217.7" fill="#F28181" stroke="#bdbdbd" stroke-width="1.3"/><text transform="translate(406.25,324.5) rotate(-90)" font-size="20.8" fill="#000">0.13</text><rect x="410.02" y="342.5" width="14.9" height="209" fill="#9CD0EE" stroke="#bdbdbd" stroke-width="1.3"/><text transform="translate(424.97,333.2) rotate(-90)" font-size="20.8" fill="#000">0.12</text><rect x="428.74" y="258.3" width="14.9" height="293.2" fill="#EEC163" stroke="#bdbdbd" stroke-width="1.3"/><text transform="translate(443.69,249) rotate(-90)" font-size="20.8" fill="#000">0.17</text><rect x="447.46" y="300" width="14.9" height="251.5" fill="#67C4AA" stroke="#bdbdbd" stroke-width="1.3"/><text transform="translate(462.41,290.7) rotate(-90)" font-size="20.8" fill="#000">0.15</text><rect x="466.18" y="283.5" width="14.9" height="268" fill="#B469B6" stroke="#bdbdbd" stroke-width="1.3"/><text transform="translate(481.13,274.2) rotate(-90)" font-size="20.8" fill="#000">0.16</text><rect x="536.4" y="318.3" width="14.9" height="233.2" fill="#F28181" stroke="#bdbdbd" stroke-width="1.3"/><text transform="translate(551.35,309) rotate(-90)" font-size="20.8" fill="#000">0.14</text><rect x="555.12" y="304.8" width="14.9" height="246.7" fill="#9CD0EE" stroke="#bdbdbd" stroke-width="1.3"/><text transform="translate(570.07,295.5) rotate(-90)" font-size="20.8" fill="#000">0.15</text><rect x="573.84" y="303.6" width="14.9" height="247.9" fill="#EEC163" stroke="#bdbdbd" stroke-width="1.3"/><text transform="translate(588.79,294.3) rotate(-90)" font-size="20.8" fill="#000">0.15</text><rect x="592.56" y="338.9" width="14.9" height="212.6" fill="#67C4AA" stroke="#bdbdbd" stroke-width="1.3"/><text transform="translate(607.51,329.6) rotate(-90)" font-size="20.8" fill="#000">0.13</text><rect x="611.28" y="290.9" width="14.9" height="260.6" fill="#D8AEB6" stroke="#bdbdbd" stroke-width="1.3"/><text transform="translate(626.23,281.6) rotate(-90)" font-size="20.8" fill="#000">0.15</text><text x="687.5" y="200.2" font-size="23" text-anchor="start" fill="#000" font-weight="normal" >No. of genes</text><text x="687.5" y="224.2" font-size="23" text-anchor="start" fill="#000" font-weight="normal" >used</text><rect x="688.3" y="242" width="26.4" height="25.8" fill="#F28181" stroke="#c4c4c4" stroke-width="1.3"/><text x="728" y="259.4" font-size="20" text-anchor="start" fill="#000" font-weight="normal" >67</text><rect x="688.3" y="269.5" width="26.4" height="25.8" fill="#9CD0EE" stroke="#c4c4c4" stroke-width="1.3"/><text x="728" y="286.9" font-size="20" text-anchor="start" fill="#000" font-weight="normal" >100</text><rect x="688.3" y="297" width="26.4" height="25.8" fill="#EEC163" stroke="#c4c4c4" stroke-width="1.3"/><text x="728" y="314.4" font-size="20" text-anchor="start" fill="#000" font-weight="normal" >200</text><rect x="688.3" y="324.5" width="26.4" height="25.8" fill="#67C4AA" stroke="#c4c4c4" stroke-width="1.3"/><text x="728" y="341.9" font-size="20" text-anchor="start" fill="#000" font-weight="normal" >500</text><rect x="688.3" y="352" width="26.4" height="25.8" fill="#B469B6" stroke="#c4c4c4" stroke-width="1.3"/><text x="728" y="369.4" font-size="20" text-anchor="start" fill="#000" font-weight="normal" >807</text><rect x="688.3" y="379.5" width="26.4" height="25.8" fill="#D8AEB6" stroke="#c4c4c4" stroke-width="1.3"/><text x="728" y="396.9" font-size="20" text-anchor="start" fill="#000" font-weight="normal" >1,131</text><g transform="translate(844.5,168)"><use href="#tb"/><g fill="none" stroke-linecap="round"><path d="M26.8 242.3h0m4.1 0h0m4.1 0h0m4.1 0h0m-10.3 3.6h0m4.1 0h0m4.1 0h0m4.1 0h0m4.1 0h0m-14.3 3.6h0m4.1 0h0m4.1 0h0m4.1 0h0m4.1 0h0m4.1 0h0m-18.5 3.5h0m4.1 0h0m4.1 0h0m4.1 0h0m4.1 0h0m4.1 0h0m4.1 0h0m-22.5 3.6h0m4.1 0h0m4.1 0h0m4.1 0h0m4.1 0h0m4.1 0h0m4.1 0h0m4.1 0h0m-26.7 3.6h0m4.1 0h0m4.1 0h0m4.1 0h0m4.1 0h0m4.1 0h0m4.2 0h0m4.1 0h0m4.1 0h0m-30.8 3.6h0m4.1 0h0m4.1 0h0m4.1 0h0m4.1 0h0m4.1 0h0m4.1 0h0m4.1 0h0m4.1 0h0m4.1 0h0m-34.9 3.5h0m4.1 0h0m4.1 0h0m4.1 0h0m4.1 0h0m4.2 0h0m4.1 0h0m4.1 0h0m4.1 0h0m4.1 0h0m4.1 0h0m-39 3.6h0m4.1 0h0m4.1 0h0m4.1 0h0m4.1 0h0m4.1 0h0m4.1 0h0m4.1 0h0m4.1 0h0m4.1 0h0m4.1 0h0m4.1 0h0m-47.2 3.6h0m4.1 0h0m4.1 0h0m4.1 0h0m4.1 0h0m4.2 0h0m4.1 0h0m4.1 0h0m4.1 0h0m4.1 0h0m4.1 0h0m4.1 0h0m4.1 0h0m4.1 0h0m-51.3 3.5h0m4.1 0h0m4.1 0h0m4.1 0h0m4.1 0h0m4.1 0h0m4.1 0h0m4.1 0h0m4.1 0h0m4.1 0h0m4.1 0h0m4.1 0h0m4.1 0h0m4.1 0h0m-51.3 3.6h0m4.1 0h0m4.1 0h0m4.1 0h0m4.2 0h0m4.1 0h0m4.1 0h0m4.1 0h0m4.1 0h0m4.1 0h0m4.1 0h0m4.1 0h0m4.1 0h0m4.1 0h0m4.1 0h0m-55.4 3.6h0m4.1 0h0m4.1 0h0m4.1 0h0m4.1 0h0m4.1 0h0m4.1 0h0m4.1 0h0m4.1 0h0m4.1 0h0m4.1 0h0m4.1 0h0m4.1 0h0m4.1 0h0m4.1 0h0m-51.3 3.6h0m4.1 0h0m4.2 0h0m4.1 0h0m4.1 0h0m4.1 0h0m4.1 0h0m4.1 0h0m4.1 0h0m4.1 0h0m4.1 0h0m4.1 0h0m4.1 0h0m4.1 0h0m4.1 0h0m-55.4 3.5h0m4.1 0h0m4.1 0h0m4.1 0h0m4.1 0h0m4.1 0h0m4.1 0h0m4.1 0h0m4.1 0h0m4.1 0h0m4.1 0h0m4.1 0h0m4.1 0h0m4.1 0h0m4.2 0h0m-55.5 3.6h0m4.2 0h0m4.1 0h0m4.1 0h0m4.1 0h0m4.1 0h0m4.1 0h0m4.1 0h0m4.1 0h0m4.1 0h0m4.1 0h0m4.1 0h0m4.1 0h0m4.1 0h0m4.1 0h0m4.1 0h0m-59.5 3.6h0m4.1 0h0m4.1 0h0m4.1 0h0m4.1 0h0m4.1 0h0m4.1 0h0m4.1 0h0m4.1 0h0m4.1 0h0m4.1 0h0m4.1 0h0m4.1 0h0m4.2 0h0m4.1 0h0m4.1 0h0m-55.4 3.6h0m4.1 0h0m4.1 0h0m4.1 0h0m4.1 0h0m4.1 0h0m4.1 0h0m4.1 0h0m4.1 0h0m4.1 0h0m4.1 0h0m4.1 0h0m4.1 0h0m4.1 0h0m4.1 0h0m4.1 0h0m-59.5 3.5h0m4.1 0h0m4.1 0h0m4.1 0h0m4.1 0h0m4.1 0h0m4.1 0h0m4.1 0h0m4.1 0h0m4.1 0h0m4.1 0h0m4.2 0h0m4.1 0h0m4.1 0h0m4.1 0h0m4.1 0h0m4.1 0h0m-67.7 3.6h0m4.1 0h0m4.1 0h0m4.1 0h0m4.1 0h0m4.1 0h0m4.1 0h0m4.1 0h0m4.1 0h0m4.1 0h0m4.1 0h0m4.1 0h0m4.1 0h0m4.1 0h0m4.1 0h0m4.1 0h0m4.1 0h0m4.1 0h0m-67.7 3.6h0m4.1 0h0m4.1 0h0m4.1 0h0m4.1 0h0m4.1 0h0m4.1 0h0m4.1 0h0m4.1 0h0m4.1 0h0m4.1 0h0m4.2 0h0m4.1 0h0m4.1 0h0m4.1 0h0m4.1 0h0m4.1 0h0m4.1 0h0m4.1 0h0m4.1 0h0m-75.9 3.5h0m4.1 0h0m4.1 0h0m4.1 0h0m4.1 0h0m4.1 0h0m4.1 0h0m4.1 0h0m4.1 0h0m4.1 0h0m4.1 0h0m4.1 0h0m4.1 0h0m4.1 0h0m4.1 0h0m4.1 0h0m4.1 0h0m4.1 0h0m4.1 0h0m4.1 0h0m-71.8 3.6h0m4.1 0h0m4.1 0h0m4.1 0h0m4.1 0h0m4.1 0h0m4.1 0h0m4.1 0h0m4.1 0h0m4.2 0h0m4.1 0h0m4.1 0h0m4.1 0h0m4.1 0h0m4.1 0h0m4.1 0h0m4.1 0h0m4.1 0h0m4.1 0h0m4.1 0h0m-71.8 3.6h0m4.1 0h0m4.1 0h0m4.1 0h0m4.1 0h0m4.1 0h0m4.1 0h0m4.1 0h0m4.1 0h0m4.1 0h0m4.1 0h0m4.1 0h0m4.1 0h0m4.1 0h0m4.1 0h0m4.1 0h0m4.1 0h0m4.1 0h0m4.1 0h0m-63.6 3.6h0m4.1 0h0m4.1 0h0m20.6 0h0m4.1 0h0m4.1 0h0m4.1 0h0m4.1 0h0m4.1 0h0m4.1 0h0m4.1 0h0m4.1 0h0m4.1 0h0m-34.9 3.5h0m4.1 0h0m4.1 0h0m4.1 0h0m4.1 0h0m4.1 0h0m4.1 0h0m4.1 0h0m4.1 0h0m4.1 0h0m-30.7 3.6h0m4.1 0h0m4.1 0h0m4.1 0h0m4.1 0h0m4.1 0h0m4.1 0h0m4.1 0h0m4.1 0h0m4.1 0h0m-30.8 3.6h0m4.1 0h0m4.1 0h0m4.1 0h0m4.1 0h0m4.1 0h0m4.1 0h0m4.2 0h0m4.1 0h0m-2.1 3.5h0m4.1 0h0m4.1 0h0" stroke="#F46E70" stroke-width="4"/><path d="M37 67.3h0m4.1 0h0m4.1 0h0m4.1 0h0m4.1 0h0m4.1 0h0m4.2 0h0m4.1 0h0m4.1 0h0m4.1 0h0m4.1 0h0m4.1 0h0m4.1 0h0m4.1 0h0m4.1 0h0m4.1 0h0m4.1 0h0m4.1 0h0m4.1 0h0m4.1 0h0m4.1 0h0m4.1 0h0m4.1 0h0m4.1 0h0m4.1 0h0m4.1 0h0m4.1 0h0m4.1 0h0m4.1 0h0m4.1 0h0m4.1 0h0m4.2 0h0m4.1 0h0m4.1 0h0m4.1 0h0m4.1 0h0m4.1 0h0m-141.6 3.6h0m4.1 0h0m4.1 0h0m4.1 0h0m4.1 0h0m4.1 0h0m4.1 0h0m4.1 0h0m4.1 0h0m4.1 0h0m4.1 0h0m4.1 0h0m4.1 0h0m4.1 0h0m4.1 0h0m4.1 0h0m4.1 0h0m4.2 0h0m4.1 0h0m4.1 0h0m4.1 0h0m4.1 0h0m4.1 0h0m4.1 0h0m4.1 0h0m4.1 0h0m4.1 0h0m4.1 0h0m4.1 0h0m4.1 0h0m4.1 0h0m4.1 0h0m4.1 0h0m4.1 0h0m4.1 0h0m4.1 0h0m4.1 0h0m-137.5 3.5h0m4.1 0h0m4.2 0h0m4.1 0h0m4.1 0h0m4.1 0h0m4.1 0h0m4.1 0h0m4.1 0h0m4.1 0h0m4.1 0h0m4.1 0h0m4.1 0h0m4.1 0h0m4.1 0h0m4.1 0h0m4.1 0h0m4.1 0h0m4.1 0h0m4.1 0h0m4.1 0h0m4.1 0h0m4.1 0h0m4.1 0h0m4.1 0h0m4.1 0h0m4.1 0h0m4.2 0h0m4.1 0h0m4.1 0h0m4.1 0h0m4.1 0h0m4.1 0h0m4.1 0h0m4.1 0h0m4.1 0h0m-137.5 3.6h0m4.1 0h0m4.1 0h0m4.1 0h0m4.1 0h0m4.1 0h0m4.1 0h0m4.1 0h0m4.1 0h0m4.1 0h0m4.1 0h0m4.1 0h0m4.1 0h0m4.2 0h0m4.1 0h0m4.1 0h0m4.1 0h0m4.1 0h0m4.1 0h0m4.1 0h0m4.1 0h0m4.1 0h0m4.1 0h0m4.1 0h0m4.1 0h0m4.1 0h0m4.1 0h0m4.1 0h0m4.1 0h0m4.1 0h0m4.1 0h0m4.1 0h0m4.1 0h0m4.1 0h0m4.1 0h0m4.1 0h0m-133.3 3.6h0m4.1 0h0m4.1 0h0m4.1 0h0m4.1 0h0m4.1 0h0m4.1 0h0m4.1 0h0m4.1 0h0m4.1 0h0m4.1 0h0m4.1 0h0m4.1 0h0m4.1 0h0m4.1 0h0m4.1 0h0m4.1 0h0m4.1 0h0m4.1 0h0m4.1 0h0m4.1 0h0m4.1 0h0m4.1 0h0m4.2 0h0m4.1 0h0m4.1 0h0m4.1 0h0m4.1 0h0m4.1 0h0m4.1 0h0m4.1 0h0m4.1 0h0m4.1 0h0m4.1 0h0m-125.2 3.6h0m4.1 0h0m4.1 0h0m4.1 0h0m4.1 0h0m4.1 0h0m4.1 0h0m4.1 0h0m4.2 0h0m4.1 0h0m4.1 0h0m4.1 0h0m4.1 0h0m4.1 0h0m4.1 0h0m4.1 0h0m4.1 0h0m4.1 0h0m4.1 0h0m4.1 0h0m4.1 0h0m4.1 0h0m4.1 0h0m4.1 0h0m4.1 0h0m4.1 0h0m4.1 0h0m4.1 0h0m4.1 0h0m4.1 0h0m4.1 0h0m4.1 0h0m4.1 0h0m4.2 0h0m-129.3 3.5h0m4.1 0h0m4.1 0h0m4.1 0h0m4.1 0h0m4.1 0h0m4.1 0h0m4.1 0h0m4.1 0h0m4.1 0h0m4.1 0h0m4.1 0h0m4.1 0h0m4.1 0h0m4.1 0h0m4.1 0h0m4.1 0h0m4.1 0h0m4.1 0h0m4.2 0h0m4.1 0h0m4.1 0h0m4.1 0h0m4.1 0h0m4.1 0h0m4.1 0h0m4.1 0h0m4.1 0h0m4.1 0h0m4.1 0h0m4.1 0h0m4.1 0h0m4.1 0h0m4.1 0h0m-125.2 3.6h0m4.1 0h0m4.1 0h0m4.1 0h0m4.2 0h0m4.1 0h0m4.1 0h0m4.1 0h0m4.1 0h0m4.1 0h0m4.1 0h0m4.1 0h0m4.1 0h0m4.1 0h0m4.1 0h0m4.1 0h0m4.1 0h0m4.1 0h0m4.1 0h0m4.1 0h0m4.1 0h0m4.1 0h0m4.1 0h0m4.1 0h0m4.1 0h0m4.1 0h0m4.1 0h0m4.1 0h0m4.1 0h0m4.2 0h0m4.1 0h0m4.1 0h0m-121.1 3.6h0m4.1 0h0m4.1 0h0m4.1 0h0m4.1 0h0m4.1 0h0m4.1 0h0m4.1 0h0m4.1 0h0m4.1 0h0m4.1 0h0m4.1 0h0m4.1 0h0m4.1 0h0m4.1 0h0m4.2 0h0m4.1 0h0m4.1 0h0m4.1 0h0m4.1 0h0m4.1 0h0m4.1 0h0m4.1 0h0m4.1 0h0m4.1 0h0m4.1 0h0m4.1 0h0m4.1 0h0m4.1 0h0m4.1 0h0m4.1 0h0m4.1 0h0m-121.1 3.5h0m4.2 0h0m4.1 0h0m4.1 0h0m4.1 0h0m4.1 0h0m4.1 0h0m4.1 0h0m4.1 0h0m4.1 0h0m4.1 0h0m4.1 0h0m4.1 0h0m4.1 0h0m4.1 0h0m4.1 0h0m4.1 0h0m4.1 0h0m4.1 0h0m4.1 0h0m4.1 0h0m4.1 0h0m4.1 0h0m4.1 0h0m4.1 0h0m4.1 0h0m4.2 0h0m4.1 0h0m4.1 0h0m4.1 0h0m4.1 0h0m4.1 0h0m-121.1 3.6h0m4.1 0h0m4.1 0h0m4.1 0h0m4.1 0h0m4.1 0h0m4.1 0h0m4.1 0h0m4.1 0h0m4.1 0h0m4.1 0h0m4.1 0h0m4.2 0h0m4.1 0h0m4.1 0h0m4.1 0h0m4.1 0h0m4.1 0h0m4.1 0h0m4.1 0h0m4.1 0h0m4.1 0h0m4.1 0h0m4.1 0h0m4.1 0h0m4.1 0h0m4.1 0h0m4.1 0h0m4.1 0h0m4.1 0h0m4.1 0h0m4.1 0h0m-121 3.6h0m4.1 0h0m4.1 0h0m4.1 0h0m4.1 0h0m4.1 0h0m4.1 0h0m4.1 0h0m4.1 0h0m4.1 0h0m4.1 0h0m4.1 0h0m4.1 0h0m4.1 0h0m4.1 0h0m4.1 0h0m4.1 0h0m4.1 0h0m4.1 0h0m4.1 0h0m4.1 0h0m4.1 0h0m4.1 0h0m4.2 0h0m4.1 0h0m4.1 0h0m4.1 0h0m4.1 0h0m4.1 0h0m4.1 0h0m4.1 0h0m4.1 0h0m4.1 0h0m4.1 0h0m-133.4 3.6h0m4.1 0h0m4.1 0h0m4.1 0h0m4.1 0h0m4.1 0h0m4.1 0h0m4.1 0h0m4.1 0h0m4.1 0h0m4.2 0h0m4.1 0h0m4.1 0h0m4.1 0h0m4.1 0h0m4.1 0h0m4.1 0h0m4.1 0h0m4.1 0h0m4.1 0h0m4.1 0h0m4.1 0h0m4.1 0h0m4.1 0h0m4.1 0h0m4.1 0h0m4.1 0h0m4.1 0h0m4.1 0h0m4.1 0h0m4.1 0h0m4.1 0h0m4.1 0h0m4.1 0h0m4.1 0h0m-133.3 3.5h0m4.1 0h0m4.1 0h0m4.1 0h0m4.1 0h0m4.1 0h0m4.1 0h0m4.1 0h0m4.1 0h0m4.1 0h0m4.1 0h0m4.1 0h0m4.1 0h0m4.1 0h0m4.1 0h0m4.1 0h0m4.1 0h0m4.1 0h0m4.1 0h0m4.1 0h0m4.1 0h0m4.2 0h0m4.1 0h0m4.1 0h0m4.1 0h0m4.1 0h0m4.1 0h0m4.1 0h0m4.1 0h0m4.1 0h0m4.1 0h0m4.1 0h0m4.1 0h0m4.1 0h0m4.1 0h0m-129.3 3.6h0m4.1 0h0m4.1 0h0m4.1 0h0m4.1 0h0m4.1 0h0m4.2 0h0m4.1 0h0m4.1 0h0m4.1 0h0m4.1 0h0m4.1 0h0m4.1 0h0m4.1 0h0m4.1 0h0m4.1 0h0m4.1 0h0m4.1 0h0m4.1 0h0m4.1 0h0m4.1 0h0m4.1 0h0m4.1 0h0m4.1 0h0m4.1 0h0m4.1 0h0m4.1 0h0m4.1 0h0m4.1 0h0m4.1 0h0m4.1 0h0m4.2 0h0m-121.1 3.6h0m4.1 0h0m4.1 0h0m4.1 0h0m4.1 0h0m4.1 0h0m4.1 0h0m4.1 0h0m4.1 0h0m4.1 0h0m4.1 0h0m4.1 0h0m4.1 0h0m4.1 0h0m4.1 0h0m4.1 0h0m4.1 0h0m4.2 0h0m4.1 0h0m4.1 0h0m4.1 0h0m4.1 0h0m4.1 0h0m4.1 0h0m4.1 0h0m4.1 0h0m4.1 0h0m4.1 0h0m4.1 0h0m4.1 0h0m4.1 0h0m-117 3.6h0m4.1 0h0m4.1 0h0m4.2 0h0m4.1 0h0m4.1 0h0m4.1 0h0m4.1 0h0m4.1 0h0m4.1 0h0m4.1 0h0m4.1 0h0m4.1 0h0m4.1 0h0m4.1 0h0m4.1 0h0m4.1 0h0m4.1 0h0m4.1 0h0m4.1 0h0m4.1 0h0m4.1 0h0m4.1 0h0m4.1 0h0m4.1 0h0m4.1 0h0m4.1 0h0m4.1 0h0m4.2 0h0m-112.9 3.5h0m4.1 0h0m4.1 0h0m4.1 0h0m4.1 0h0m4.1 0h0m4.1 0h0m4.1 0h0m4.1 0h0m4.1 0h0m4.1 0h0m4.1 0h0m4.1 0h0m4.1 0h0m4.1 0h0m4.2 0h0m4.1 0h0m4.1 0h0m4.1 0h0m4.1 0h0m4.1 0h0m4.1 0h0m4.1 0h0m4.1 0h0m4.1 0h0m4.1 0h0m4.1 0h0m4.1 0h0m4.1 0h0m-108.8 3.6h0m4.2 0h0m4.1 0h0m4.1 0h0m4.1 0h0m4.1 0h0m4.1 0h0m4.1 0h0m4.1 0h0m4.1 0h0m4.1 0h0m4.1 0h0m4.1 0h0m4.1 0h0m4.1 0h0m4.1 0h0m4.1 0h0m4.1 0h0m4.1 0h0m4.1 0h0m4.1 0h0m4.1 0h0m4.1 0h0m4.1 0h0m4.1 0h0m4.1 0h0m4.2 0h0m-100.6 3.6h0m4.1 0h0m4.1 0h0m4.1 0h0m4.1 0h0m4.1 0h0m4.1 0h0m4.1 0h0m4.1 0h0m4.1 0h0m4.1 0h0m4.1 0h0m4.2 0h0m4.1 0h0m4.1 0h0m4.1 0h0m4.1 0h0m4.1 0h0m4.1 0h0m4.1 0h0m4.1 0h0m4.1 0h0m4.1 0h0m4.1 0h0m4.1 0h0m4.1 0h0m-96.4 3.5h0m4.1 0h0m4.1 0h0m4.1 0h0m4.1 0h0m4.1 0h0m4.1 0h0m4.1 0h0m4.1 0h0m4.1 0h0m4.1 0h0m4.1 0h0m4.1 0h0m4.1 0h0m4.1 0h0m4.1 0h0m4.1 0h0m4.1 0h0m4.1 0h0m4.1 0h0m4.1 0h0m4.1 0h0m4.1 0h0m4.2 0h0m-88.3 3.6h0m4.1 0h0m4.1 0h0m4.1 0h0m4.1 0h0m4.1 0h0m4.1 0h0m4.1 0h0m4.1 0h0m4.2 0h0m4.1 0h0m4.1 0h0m4.1 0h0m4.1 0h0m4.1 0h0m4.1 0h0m4.1 0h0m4.1 0h0m4.1 0h0m4.1 0h0m4.1 0h0m4.1 0h0m4.1 0h0m-84.1 3.6h0m4.1 0h0m4.1 0h0m4.1 0h0m4.1 0h0m4.1 0h0m4.1 0h0m4.1 0h0m4.1 0h0m4.1 0h0m4.1 0h0m4.1 0h0m4.1 0h0m4.1 0h0m4.1 0h0m4.1 0h0m4.1 0h0m4.1 0h0m4.1 0h0m4.1 0h0m4.2 0h0m-76 3.6h0m4.1 0h0m4.1 0h0m4.1 0h0m4.1 0h0m4.1 0h0m4.2 0h0m4.1 0h0m4.1 0h0m4.1 0h0m4.1 0h0m4.1 0h0m4.1 0h0m4.1 0h0m4.1 0h0m4.1 0h0m4.1 0h0m-63.6 3.5h0m4.1 0h0m4.1 0h0m4.1 0h0m4.1 0h0m4.1 0h0m4.1 0h0m4.1 0h0m4.1 0h0m4.1 0h0m4.1 0h0m4.1 0h0m4.1 0h0m4.1 0h0m4.1 0h0m4.1 0h0m-55.4 3.6h0m4.1 0h0m4.1 0h0m4.1 0h0m4.2 0h0m4.1 0h0m4.1 0h0m4.1 0h0m4.1 0h0m4.1 0h0m4.1 0h0m4.1 0h0m4.1 0h0m4.1 0h0m4.1 0h0m-51.3 3.6h0m4.1 0h0m4.1 0h0m4.1 0h0m4.1 0h0m4.1 0h0m4.1 0h0m4.1 0h0m4.1 0h0m4.1 0h0m4.1 0h0m4.1 0h0m4.1 0h0m-43.1 3.5h0m4.2 0h0m4.1 0h0m4.1 0h0m4.1 0h0m4.1 0h0m4.1 0h0m4.1 0h0m4.1 0h0m4.1 0h0m4.1 0h0m4.1 0h0m-39 3.6h0m4.1 0h0m4.1 0h0m4.1 0h0m4.1 0h0m4.1 0h0m4.1 0h0m4.1 0h0m4.1 0h0m4.1 0h0m4.1 0h0m-34.8 3.6h0m4.1 0h0m4.1 0h0m4.1 0h0m4.1 0h0m4.1 0h0m4.1 0h0m4.1 0h0m4.1 0h0m-26.7 3.6h0m4.1 0h0m4.1 0h0m4.1 0h0m4.1 0h0m4.1 0h0m4.1 0h0m4.1 0h0m-22.5 3.5h0m4.1 0h0m4.1 0h0m4.1 0h0m4.1 0h0m4.1 0h0m-14.4 3.6h0m4.1 0h0m4.1 0h0m4.1 0h0m4.1 0h0m-10.2 3.6h0m4.1 0h0m4.1 0h0m-10.3 3.5h0m4.1 0h0m4.1 0h0m4.1 0h0m-10.2 3.6h0m4.1 0h0m4.1 0h0" stroke="#F9B71A" stroke-width="4"/><path d="M188.9 67.3h0m4.1 0h0m4.1 0h0m4.1 0h0m4.1 0h0m4.1 0h0m4.1 0h0m-178.5 3.6h0m4.1 0h0m155.9 0h0m4.1 0h0m4.1 0h0m4.1 0h0m4.1 0h0m4.2 0h0m4.1 0h0m-182.7 3.5h0m4.1 0h0m4.1 0h0m4.1 0h0m151.9 0h0m4.1 0h0m4.1 0h0m4.1 0h0m4.1 0h0m4.1 0h0m4.1 0h0m-190.8 3.6h0m4.1 0h0m4.1 0h0m4.1 0h0m4.1 0h0m4.1 0h0m151.8 0h0m4.1 0h0m4.2 0h0m4.1 0h0m4.1 0h0m4.1 0h0m4.1 0h0m-190.9 3.6h0m4.1 0h0m4.1 0h0m4.1 0h0m4.1 0h0m4.2 0h0m4.1 0h0m143.6 0h0m4.1 0h0m4.1 0h0m4.1 0h0m4.1 0h0m4.1 0h0m4.1 0h0m-186.7 3.6h0m4.1 0h0m4.1 0h0m4.1 0h0m4.1 0h0m4.1 0h0m4.1 0h0m4.1 0h0m143.7 0h0m4.1 0h0m4.1 0h0m4.1 0h0m4.1 0h0m4.1 0h0m-182.7 3.5h0m4.2 0h0m4.1 0h0m4.1 0h0m4.1 0h0m4.1 0h0m4.1 0h0m143.6 0h0m4.1 0h0m4.1 0h0m4.1 0h0m4.1 0h0m4.1 0h0m-178.5 3.6h0m4.1 0h0m4.1 0h0m4.1 0h0m4.1 0h0m4.1 0h0m4.1 0h0m135.5 0h0m4.1 0h0m4.1 0h0m4.1 0h0m4.1 0h0m4.1 0h0m4.1 0h0m4.1 0h0m-174.4 3.6h0m4.1 0h0m4.1 0h0m4.1 0h0m4.1 0h0m135.4 0h0m4.1 0h0m4.1 0h0m4.1 0h0m4.1 0h0m4.1 0h0m4.1 0h0m4.1 0h0m-174.4 3.5h0m4.1 0h0m4.1 0h0m4.1 0h0m4.1 0h0m135.5 0h0m4.1 0h0m4.1 0h0m4.1 0h0m4.1 0h0m4.1 0h0m4.1 0h0m-174.4 3.6h0m4.1 0h0m4.1 0h0m4.1 0h0m4.1 0h0m4.1 0h0m135.4 0h0m4.1 0h0m4.1 0h0m4.1 0h0m4.1 0h0m4.2 0h0m-170.4 3.6h0m4.1 0h0m4.1 0h0m4.1 0h0m4.2 0h0m4.1 0h0m143.6 0h0m4.1 0h0m4.1 0h0m-162.1 3.6h0m4.1 0h0m4.1 0h0m4.1 0h0m147.8 0h0m-158.1 3.5h0m4.2 0h0m4.1 0h0m4.1 0h0m4.1 0h0m-10.3 3.6h0m4.1 0h0m4.1 0h0m4.1 0h0m4.1 0h0m4.1 0h0m-14.3 3.6h0m4.1 0h0m4.1 0h0m4.1 0h0m4.1 0h0m4.1 0h0m-14.4 3.6h0m4.1 0h0m4.1 0h0m4.1 0h0m4.1 0h0m4.1 0h0m-18.4 3.5h0m4.1 0h0m4.1 0h0m4.1 0h0m4.1 0h0m4.1 0h0m-10.3 3.6h0m4.1 0h0m4.1 0h0m4.1 0h0m4.1 0h0m-10.2 3.6h0m4.1 0h0m4.1 0h0m4.1 0h0m4.1 0h0m-10.3 3.5h0m4.1 0h0m4.1 0h0m4.2 0h0m4.1 0h0m-14.4 3.6h0m4.1 0h0m4.1 0h0m4.1 0h0m4.1 0h0m4.1 0h0m-14.4 3.6h0m4.2 0h0m4.1 0h0m4.1 0h0m4.1 0h0m4.1 0h0m-14.4 3.6h0m4.1 0h0m4.1 0h0m4.1 0h0m4.1 0h0m4.1 0h0m-14.3 3.5h0m4.1 0h0m4.1 0h0m4.1 0h0m4.1 0h0m-14.4 3.6h0m4.1 0h0m4.1 0h0m4.1 0h0m4.1 0h0m4.1 0h0m-14.3 3.6h0m4.1 0h0m4.1 0h0m4.1 0h0m4.1 0h0m4.1 0h0m-14.4 3.5h0m4.1 0h0m4.1 0h0m4.1 0h0m4.1 0h0m4.1 0h0m-14.3 3.6h0m4.1 0h0m4.1 0h0m4.1 0h0m4.1 0h0m4.1 0h0m-18.5 3.6h0m4.1 0h0m4.1 0h0m4.1 0h0m4.1 0h0m4.2 0h0m4.1 0h0m-18.5 3.6h0m4.1 0h0m4.1 0h0m4.1 0h0m4.1 0h0m4.1 0h0m4.1 0h0m-18.5 3.5h0m4.1 0h0m4.2 0h0m4.1 0h0m4.1 0h0m4.1 0h0m4.1 0h0m-18.5 3.6h0m4.1 0h0m4.1 0h0m4.1 0h0m4.1 0h0m4.1 0h0m4.1 0h0m-18.4 3.6h0m4.1 0h0m4.1 0h0m4.1 0h0m4.1 0h0m4.1 0h0m4.1 0h0m-18.5 3.5h0m4.1 0h0m4.1 0h0m4.1 0h0m4.1 0h0m-10.2 3.6h0m4.1 0h0m4.1 0h0m4.1 0h0m-6.2 3.6h0m4.1 0h0m4.1 0h0m4.1 0h0m4.1 0h0m4.1 0h0m-14.3 3.6h0m4.1 0h0m4.1 0h0m4.1 0h0m-6.2 3.5h0m4.1 0h0m-2 3.6h0m4.1 0h0" stroke="#C99AF6" stroke-width="4"/><path d="M217.6 67.3h0m4.1 0h0m4.1 0h0m4.1 0h0m4.1 0h0m4.1 0h0m4.1 0h0m4.1 0h0m4.1 0h0m4.1 0h0m4.1 0h0m4.1 0h0m4.2 0h0m-43.1 3.6h0m4.1 0h0m4.1 0h0m4.1 0h0m4.1 0h0m4.1 0h0m4.1 0h0m4.1 0h0m4.1 0h0m4.1 0h0m4.1 0h0m4.1 0h0m-39 3.5h0m4.1 0h0m4.1 0h0m4.1 0h0m4.1 0h0m4.1 0h0m4.1 0h0m4.1 0h0m4.1 0h0m4.2 0h0m-30.8 3.6h0m4.1 0h0m4.1 0h0m4.1 0h0m4.1 0h0m4.1 0h0m4.1 0h0m4.1 0h0m4.1 0h0m-236 3.6h0m4.1 0h0m201.1 0h0m4.1 0h0m4.1 0h0m4.1 0h0m4.1 0h0m4.1 0h0m4.1 0h0m4.2 0h0m-240.1 3.6h0m4.1 0h0m4.1 0h0m4.1 0h0m4.1 0h0m201.1 0h0m4.1 0h0m4.1 0h0m4.1 0h0m4.1 0h0m4.1 0h0m4.1 0h0m-244.2 3.5h0m4.1 0h0m4.1 0h0m4.1 0h0m4.1 0h0m4.1 0h0m4.1 0h0m4.1 0h0m197 0h0m4.1 0h0m4.1 0h0m4.1 0h0m4.2 0h0m-244.2 3.6h0m4.1 0h0m4.1 0h0m4.1 0h0m4.1 0h0m4.1 0h0m4.1 0h0m4.1 0h0m4.1 0h0m4.1 0h0m4.1 0h0m197 0h0m4.1 0h0m4.1 0h0m-248.3 3.6h0m4.1 0h0m4.1 0h0m4.1 0h0m4.1 0h0m4.1 0h0m4.1 0h0m4.1 0h0m4.1 0h0m4.1 0h0m4.2 0h0m4.1 0h0m4.1 0h0m4.1 0h0m4.1 0h0m188.8 0h0m-248.3 3.5h0m4.1 0h0m4.1 0h0m4.1 0h0m4.1 0h0m4.1 0h0m4.1 0h0m4.1 0h0m4.1 0h0m4.1 0h0m4.1 0h0m4.1 0h0m4.1 0h0m4.1 0h0m4.1 0h0m4.1 0h0m4.1 0h0m184.7 0h0m-256.5 3.6h0m4.1 0h0m4.1 0h0m4.1 0h0m4.1 0h0m4.1 0h0m4.1 0h0m4.1 0h0m4.1 0h0m4.1 0h0m4.1 0h0m4.1 0h0m4.2 0h0m4.1 0h0m4.1 0h0m4.1 0h0m4.1 0h0m4.1 0h0m4.1 0h0m-75.9 3.6h0m4.1 0h0m4.1 0h0m4.1 0h0m4.1 0h0m4.1 0h0m4.1 0h0m4.1 0h0m4.1 0h0m4.1 0h0m4.1 0h0m4.1 0h0m4.1 0h0m4.1 0h0m4.1 0h0m4.1 0h0m4.1 0h0m4.1 0h0m4.1 0h0m4.1 0h0m4.1 0h0m-84.1 3.6h0m4.1 0h0m4.1 0h0m4.1 0h0m4.1 0h0m4.1 0h0m4.1 0h0m4.1 0h0m4.1 0h0m4.1 0h0m4.1 0h0m4.1 0h0m4.1 0h0m4.2 0h0m4.1 0h0m4.1 0h0m4.1 0h0m4.1 0h0m4.1 0h0m4.1 0h0m4.1 0h0m4.1 0h0m4.1 0h0m4.1 0h0m-92.3 3.5h0m4.1 0h0m4.1 0h0m4.1 0h0m4.1 0h0m4.1 0h0m4.1 0h0m4.1 0h0m4.1 0h0m4.1 0h0m4.1 0h0m4.1 0h0m4.1 0h0m4.1 0h0m4.1 0h0m4.1 0h0m4.1 0h0m4.1 0h0m4.1 0h0m4.1 0h0m4.1 0h0m4.1 0h0m4.1 0h0m4.1 0h0m-96.4 3.6h0m4.1 0h0m4.1 0h0m4.1 0h0m4.1 0h0m4.1 0h0m4.1 0h0m4.1 0h0m4.1 0h0m4.1 0h0m4.1 0h0m4.1 0h0m4.1 0h0m4.2 0h0m4.1 0h0m4.1 0h0m4.1 0h0m4.1 0h0m4.1 0h0m4.1 0h0m4.1 0h0m4.1 0h0m4.1 0h0m4.1 0h0m4.1 0h0m4.1 0h0m-100.5 3.6h0m4.1 0h0m4.1 0h0m4.1 0h0m4.1 0h0m4.1 0h0m4.1 0h0m4.1 0h0m4.1 0h0m4.1 0h0m4.1 0h0m4.1 0h0m4.1 0h0m4.1 0h0m4.1 0h0m4.1 0h0m4.1 0h0m4.1 0h0m4.1 0h0m4.1 0h0m4.1 0h0m4.1 0h0m4.1 0h0m4.1 0h0m4.1 0h0m4.2 0h0m4.1 0h0m-108.8 3.6h0m4.1 0h0m4.1 0h0m4.1 0h0m4.1 0h0m4.1 0h0m4.1 0h0m4.1 0h0m4.1 0h0m4.1 0h0m4.1 0h0m4.1 0h0m4.1 0h0m4.2 0h0m4.1 0h0m4.1 0h0m4.1 0h0m4.1 0h0m4.1 0h0m4.1 0h0m4.1 0h0m4.1 0h0m4.1 0h0m4.1 0h0m4.1 0h0m4.1 0h0m4.1 0h0m4.1 0h0m4.1 0h0m-112.8 3.5h0m4.1 0h0m4.1 0h0m4.1 0h0m4.1 0h0m4.1 0h0m4.1 0h0m4.1 0h0m4.1 0h0m4.1 0h0m4.1 0h0m4.1 0h0m4.1 0h0m4.1 0h0m4.1 0h0m4.1 0h0m4.1 0h0m4.1 0h0m4.1 0h0m4.1 0h0m4.1 0h0m4.1 0h0m4.1 0h0m4.1 0h0m4.1 0h0m4.2 0h0m4.1 0h0m4.1 0h0m4.1 0h0m-112.9 3.6h0m4.1 0h0m4.1 0h0m4.1 0h0m4.1 0h0m4.1 0h0m4.1 0h0m4.1 0h0m4.1 0h0m4.1 0h0m4.1 0h0m4.1 0h0m4.2 0h0m4.1 0h0m4.1 0h0m4.1 0h0m4.1 0h0m4.1 0h0m4.1 0h0m4.1 0h0m4.1 0h0m4.1 0h0m4.1 0h0m4.1 0h0m4.1 0h0m4.1 0h0m4.1 0h0m4.1 0h0m4.1 0h0m4.1 0h0m4.1 0h0m-116.9 3.6h0m4.1 0h0m4.1 0h0m4.1 0h0m4.1 0h0m4.1 0h0m4.1 0h0m4.1 0h0m4.1 0h0m4.1 0h0m4.1 0h0m4.1 0h0m4.1 0h0m4.1 0h0m4.1 0h0m4.1 0h0m4.1 0h0m4.1 0h0m4.1 0h0m4.1 0h0m4.1 0h0m4.1 0h0m4.1 0h0m4.2 0h0m4.1 0h0m4.1 0h0m4.1 0h0m4.1 0h0m4.1 0h0m4.1 0h0m4.1 0h0m-117 3.5h0m4.1 0h0m4.1 0h0m4.1 0h0m4.1 0h0m4.1 0h0m4.1 0h0m4.1 0h0m4.1 0h0m4.2 0h0m4.1 0h0m4.1 0h0m4.1 0h0m4.1 0h0m4.1 0h0m4.1 0h0m4.1 0h0m4.1 0h0m4.1 0h0m4.1 0h0m4.1 0h0m4.1 0h0m4.1 0h0m4.1 0h0m4.1 0h0m4.1 0h0m4.1 0h0m4.1 0h0m4.1 0h0m4.1 0h0m4.1 0h0m-116.9 3.6h0m4.1 0h0m4.1 0h0m4.1 0h0m4.1 0h0m4.1 0h0m4.1 0h0m4.1 0h0m4.1 0h0m4.1 0h0m4.1 0h0m4.1 0h0m4.1 0h0m4.1 0h0m4.1 0h0m4.1 0h0m4.1 0h0m4.1 0h0m4.1 0h0m4.1 0h0m4.2 0h0m4.1 0h0m4.1 0h0m4.1 0h0m4.1 0h0m4.1 0h0m4.1 0h0m4.1 0h0m4.1 0h0m4.1 0h0m-117 3.6h0m4.1 0h0m4.1 0h0m4.1 0h0m4.1 0h0m4.1 0h0m4.1 0h0m4.2 0h0m4.1 0h0m4.1 0h0m4.1 0h0m4.1 0h0m4.1 0h0m4.1 0h0m4.1 0h0m4.1 0h0m4.1 0h0m4.1 0h0m4.1 0h0m4.1 0h0m4.1 0h0m4.1 0h0m4.1 0h0m4.1 0h0m4.1 0h0m4.1 0h0m4.1 0h0m4.1 0h0m4.1 0h0m4.1 0h0m4.1 0h0m-116.9 3.6h0m4.1 0h0m4.1 0h0m4.1 0h0m4.1 0h0m4.1 0h0m4.1 0h0m4.1 0h0m4.1 0h0m4.1 0h0m4.1 0h0m4.1 0h0m4.1 0h0m4.1 0h0m4.1 0h0m4.1 0h0m4.1 0h0m4.1 0h0m4.2 0h0m4.1 0h0m4.1 0h0m4.1 0h0m4.1 0h0m4.1 0h0m4.1 0h0m4.1 0h0m4.1 0h0m4.1 0h0m4.1 0h0m4.1 0h0m4.1 0h0m-117 3.5h0m4.1 0h0m4.1 0h0m4.1 0h0m4.2 0h0m4.1 0h0m4.1 0h0m4.1 0h0m4.1 0h0m4.1 0h0m4.1 0h0m4.1 0h0m4.1 0h0m4.1 0h0m4.1 0h0m4.1 0h0m4.1 0h0m4.1 0h0m4.1 0h0m4.1 0h0m4.1 0h0m4.1 0h0m4.1 0h0m4.1 0h0m4.1 0h0m4.1 0h0m4.1 0h0m4.1 0h0m4.1 0h0m4.2 0h0m4.1 0h0m-117 3.6h0m4.1 0h0m4.1 0h0m4.1 0h0m4.1 0h0m4.1 0h0m4.1 0h0m4.1 0h0m4.1 0h0m4.1 0h0m4.1 0h0m4.1 0h0m4.1 0h0m4.1 0h0m4.1 0h0m4.2 0h0m4.1 0h0m4.1 0h0m4.1 0h0m4.1 0h0m4.1 0h0m4.1 0h0m4.1 0h0m4.1 0h0m4.1 0h0m4.1 0h0m4.1 0h0m4.1 0h0m4.1 0h0m4.1 0h0m-117 3.6h0m4.1 0h0m4.2 0h0m4.1 0h0m4.1 0h0m4.1 0h0m4.1 0h0m4.1 0h0m4.1 0h0m4.1 0h0m4.1 0h0m4.1 0h0m4.1 0h0m4.1 0h0m4.1 0h0m4.1 0h0m4.1 0h0m4.1 0h0m4.1 0h0m4.1 0h0m4.1 0h0m4.1 0h0m4.1 0h0m4.1 0h0m4.1 0h0m4.1 0h0m4.1 0h0m4.2 0h0m4.1 0h0m4.1 0h0m4.1 0h0m-117 3.5h0m4.1 0h0m4.1 0h0m4.1 0h0m4.1 0h0m4.1 0h0m4.1 0h0m4.1 0h0m4.1 0h0m4.1 0h0m4.1 0h0m4.1 0h0m4.1 0h0m4.2 0h0m4.1 0h0m4.1 0h0m4.1 0h0m4.1 0h0m4.1 0h0m4.1 0h0m4.1 0h0m4.1 0h0m4.1 0h0m4.1 0h0m4.1 0h0m4.1 0h0m4.1 0h0m4.1 0h0m4.1 0h0m4.1 0h0m4.1 0h0m-116.9 3.6h0m4.1 0h0m4.1 0h0m4.1 0h0m4.1 0h0m4.1 0h0m4.1 0h0m4.1 0h0m4.1 0h0m4.1 0h0m4.1 0h0m4.1 0h0m4.1 0h0m4.1 0h0m4.1 0h0m4.1 0h0m4.1 0h0m4.1 0h0m4.1 0h0m4.1 0h0m4.1 0h0m4.1 0h0m4.1 0h0m4.1 0h0m4.2 0h0m4.1 0h0m4.1 0h0m4.1 0h0m4.1 0h0m4.1 0h0m4.1 0h0m-121.1 3.6h0m4.1 0h0m4.1 0h0m4.1 0h0m4.1 0h0m4.1 0h0m4.1 0h0m4.1 0h0m4.1 0h0m4.1 0h0m4.1 0h0m4.2 0h0m4.1 0h0m4.1 0h0m4.1 0h0m4.1 0h0m4.1 0h0m4.1 0h0m4.1 0h0m4.1 0h0m4.1 0h0m4.1 0h0m4.1 0h0m4.1 0h0m4.1 0h0m4.1 0h0m4.1 0h0m4.1 0h0m4.1 0h0m4.1 0h0m4.1 0h0m-112.8 3.6h0m4.1 0h0m4.1 0h0m4.1 0h0m4.1 0h0m4.1 0h0m4.1 0h0m4.1 0h0m4.1 0h0m4.1 0h0m4.1 0h0m4.1 0h0m4.1 0h0m4.1 0h0m4.1 0h0m4.1 0h0m4.1 0h0m4.1 0h0m4.1 0h0m4.1 0h0m4.1 0h0m4.2 0h0m4.1 0h0m4.1 0h0m4.1 0h0m4.1 0h0m4.1 0h0m4.1 0h0m4.1 0h0m4.1 0h0m-112.9 3.5h0m4.1 0h0m4.1 0h0m4.1 0h0m4.1 0h0m4.1 0h0m4.1 0h0m4.2 0h0m4.1 0h0m4.1 0h0m4.1 0h0m4.1 0h0m4.1 0h0m4.1 0h0m4.1 0h0m4.1 0h0m4.1 0h0m4.1 0h0m4.1 0h0m4.1 0h0m4.1 0h0m4.1 0h0m4.1 0h0m4.1 0h0m4.1 0h0m4.1 0h0m4.1 0h0m4.1 0h0m4.1 0h0m4.1 0h0m-112.8 3.6h0m4.1 0h0m4.1 0h0m4.1 0h0m4.1 0h0m4.1 0h0m4.1 0h0m4.1 0h0m4.1 0h0m4.1 0h0m4.1 0h0m4.1 0h0m4.1 0h0m4.1 0h0m4.1 0h0m4.1 0h0m4.1 0h0m4.1 0h0m4.2 0h0m4.1 0h0m4.1 0h0m4.1 0h0m4.1 0h0m4.1 0h0m4.1 0h0m4.1 0h0m4.1 0h0m4.1 0h0m4.1 0h0m4.1 0h0m-108.8 3.6h0m4.1 0h0m4.1 0h0m4.2 0h0m4.1 0h0m4.1 0h0m4.1 0h0m4.1 0h0m4.1 0h0m4.1 0h0m4.1 0h0m4.1 0h0m4.1 0h0m4.1 0h0m4.1 0h0m4.1 0h0m4.1 0h0m4.1 0h0m4.1 0h0m4.1 0h0m4.1 0h0m4.1 0h0m4.1 0h0m4.1 0h0m4.1 0h0m4.1 0h0m4.1 0h0m4.1 0h0m4.2 0h0m-108.8 3.5h0m4.1 0h0m4.1 0h0m4.1 0h0m4.1 0h0m4.1 0h0m4.1 0h0m4.1 0h0m4.1 0h0m4.1 0h0m4.1 0h0m4.1 0h0m4.1 0h0m4.1 0h0m4.2 0h0m4.1 0h0m4.1 0h0m4.1 0h0m4.1 0h0m4.1 0h0m4.1 0h0m4.1 0h0m4.1 0h0m4.1 0h0m4.1 0h0m4.1 0h0m4.1 0h0m4.1 0h0m4.1 0h0m-108.7 3.6h0m4.1 0h0m4.1 0h0m4.1 0h0m4.1 0h0m4.1 0h0m4.1 0h0m4.1 0h0m4.1 0h0m4.1 0h0m4.1 0h0m4.1 0h0m4.1 0h0m4.1 0h0m4.1 0h0m4.1 0h0m4.1 0h0m4.1 0h0m4.1 0h0m4.1 0h0m4.1 0h0m4.1 0h0m4.1 0h0m4.1 0h0m4.1 0h0m4.2 0h0m4.1 0h0m4.1 0h0m4.1 0h0m-108.8 3.6h0m4.1 0h0m4.1 0h0m4.1 0h0m4.1 0h0m4.1 0h0m4.1 0h0m4.1 0h0m4.1 0h0m4.1 0h0m4.1 0h0m4.2 0h0m4.1 0h0m4.1 0h0m4.1 0h0m4.1 0h0m4.1 0h0m4.1 0h0m4.1 0h0m4.1 0h0m4.1 0h0m4.1 0h0m4.1 0h0m4.1 0h0m4.1 0h0m4.1 0h0m4.1 0h0m4.1 0h0m4.1 0h0m-108.7 3.6h0m4.1 0h0m4.1 0h0m4.1 0h0m4.1 0h0m4.1 0h0m4.1 0h0m4.1 0h0m4.1 0h0m4.1 0h0m4.1 0h0m4.1 0h0m4.1 0h0m4.1 0h0m4.1 0h0m4.1 0h0m4.1 0h0m4.1 0h0m4.1 0h0m4.1 0h0m4.1 0h0m4.1 0h0m4.2 0h0m4.1 0h0m4.1 0h0m4.1 0h0m4.1 0h0m4.1 0h0m4.1 0h0m-108.8 3.5h0m4.1 0h0m4.1 0h0m4.1 0h0m4.1 0h0m4.1 0h0m4.1 0h0m4.1 0h0m4.2 0h0m4.1 0h0m4.1 0h0m4.1 0h0m4.1 0h0m4.1 0h0m4.1 0h0m4.1 0h0m4.1 0h0m4.1 0h0m4.1 0h0m4.1 0h0m4.1 0h0m4.1 0h0m4.1 0h0m4.1 0h0m4.1 0h0m4.1 0h0m4.1 0h0m4.1 0h0m4.1 0h0m-108.7 3.6h0m4.1 0h0m4.1 0h0m4.1 0h0m4.1 0h0m4.1 0h0m4.1 0h0m4.1 0h0m4.1 0h0m4.1 0h0m4.1 0h0m4.1 0h0m4.1 0h0m4.1 0h0m4.1 0h0m4.1 0h0m4.1 0h0m4.1 0h0m4.1 0h0m4.2 0h0m4.1 0h0m4.1 0h0m4.1 0h0m4.1 0h0m4.1 0h0m4.1 0h0m4.1 0h0m4.1 0h0m-104.7 3.6h0m4.1 0h0m4.1 0h0m4.1 0h0m4.1 0h0m4.2 0h0m4.1 0h0m4.1 0h0m4.1 0h0m4.1 0h0m4.1 0h0m4.1 0h0m4.1 0h0m4.1 0h0m4.1 0h0m4.1 0h0m4.1 0h0m4.1 0h0m4.1 0h0m4.1 0h0m4.1 0h0m4.1 0h0m4.1 0h0m4.1 0h0m4.1 0h0m4.1 0h0m4.1 0h0m4.1 0h0m-104.6 3.6h0m4.1 0h0m4.1 0h0m4.1 0h0m4.1 0h0m4.1 0h0m4.1 0h0m4.1 0h0m4.1 0h0m4.1 0h0m4.1 0h0m4.1 0h0m4.1 0h0m4.1 0h0m4.1 0h0m4.1 0h0m4.2 0h0m4.1 0h0m4.1 0h0m4.1 0h0m4.1 0h0m4.1 0h0m4.1 0h0m4.1 0h0m4.1 0h0m4.1 0h0m4.1 0h0m-100.6 3.5h0m4.1 0h0m4.2 0h0m4.1 0h0m4.1 0h0m4.1 0h0m4.1 0h0m4.1 0h0m4.1 0h0m4.1 0h0m4.1 0h0m4.1 0h0m4.1 0h0m4.1 0h0m4.1 0h0m4.1 0h0m4.1 0h0m4.1 0h0m4.1 0h0m4.1 0h0m4.1 0h0m4.1 0h0m4.1 0h0m4.1 0h0m4.1 0h0m-92.3 3.6h0m4.1 0h0m4.1 0h0m4.1 0h0m4.1 0h0m4.1 0h0m4.1 0h0m4.1 0h0m4.1 0h0m4.1 0h0m4.1 0h0m4.1 0h0m4.1 0h0m4.2 0h0m4.1 0h0m4.1 0h0m4.1 0h0m4.1 0h0m4.1 0h0m4.1 0h0m4.1 0h0m4.1 0h0m4.1 0h0m4.1 0h0m-88.2 3.6h0m4.1 0h0m4.1 0h0m4.1 0h0m4.1 0h0m4.1 0h0m4.1 0h0m4.1 0h0m4.1 0h0m4.1 0h0m4.1 0h0m4.1 0h0m4.1 0h0m4.1 0h0m4.1 0h0m4.1 0h0m4.1 0h0m4.1 0h0m4.1 0h0m4.1 0h0m4.1 0h0m4.1 0h0m-80 3.5h0m4.1 0h0m4.1 0h0m4.1 0h0m4.1 0h0m4.1 0h0m4.1 0h0m4.1 0h0m4.1 0h0m4.1 0h0m4.2 0h0m4.1 0h0m4.1 0h0m4.1 0h0m4.1 0h0m4.1 0h0m4.1 0h0m4.1 0h0m4.1 0h0m4.1 0h0m-75.9 3.6h0m4.1 0h0m4.1 0h0m4.1 0h0m4.1 0h0m4.1 0h0m4.1 0h0m4.1 0h0m4.1 0h0m4.1 0h0m4.1 0h0m4.1 0h0m4.1 0h0m4.1 0h0m4.1 0h0m4.1 0h0m4.1 0h0m4.1 0h0m4.1 0h0m4.1 0h0m-71.8 3.6h0m4.1 0h0m4.1 0h0m4.1 0h0m4.1 0h0m4.1 0h0m4.1 0h0m4.1 0h0m4.2 0h0m4.1 0h0m4.1 0h0m4.1 0h0m4.1 0h0m4.1 0h0m4.1 0h0m4.1 0h0m4.1 0h0m4.1 0h0m-63.6 3.6h0m4.1 0h0m4.1 0h0m4.1 0h0m4.1 0h0m4.1 0h0m4.1 0h0m4.1 0h0m4.1 0h0m4.1 0h0m4.1 0h0m4.1 0h0m4.1 0h0m4.1 0h0m4.1 0h0m4.1 0h0m4.1 0h0m-59.5 3.5h0m4.1 0h0m4.1 0h0m4.1 0h0m4.1 0h0m4.2 0h0m4.1 0h0m4.1 0h0m4.1 0h0m4.1 0h0m4.1 0h0m4.1 0h0m4.1 0h0m4.1 0h0m4.1 0h0m-51.3 3.6h0m4.1 0h0m4.1 0h0m4.1 0h0m4.1 0h0m4.1 0h0m4.1 0h0m4.1 0h0m4.1 0h0m4.1 0h0m4.1 0h0m4.1 0h0m4.1 0h0m4.1 0h0m-43.1 3.6h0m4.2 0h0m4.1 0h0m4.1 0h0m4.1 0h0m4.1 0h0m4.1 0h0m4.1 0h0m4.1 0h0m4.1 0h0m4.1 0h0m-34.9 3.5h0m4.1 0h0m4.1 0h0m4.1 0h0m4.1 0h0m4.1 0h0m4.1 0h0m4.1 0h0m4.1 0h0m4.1 0h0m-26.6 3.6h0m4.1 0h0m4.1 0h0m4.1 0h0m4.1 0h0m4.1 0h0m4.1 0h0m-14.4 3.6h0m4.1 0h0m4.1 0h0m4.1 0h0m4.1 0h0m-2 3.6h0" stroke="#58BD86" stroke-width="4"/><path d="M8.3 131.6h0m2.1 3.6h0m4.1 0h0m-6.2 3.5h0m4.1 0h0m4.1 0h0m4.1 0h0m-10.2 3.6h0m4.1 0h0m4.1 0h0m4.1 0h0m4.1 0h0m-18.5 3.6h0m4.1 0h0m4.1 0h0m4.1 0h0m4.1 0h0m4.1 0h0m-14.3 3.6h0m4.1 0h0m4.1 0h0m4.1 0h0m4.1 0h0m4.1 0h0m-14.4 3.5h0m4.1 0h0m4.1 0h0m4.1 0h0m4.1 0h0m4.1 0h0m-14.3 3.6h0m4.1 0h0m4.1 0h0m4.1 0h0m4.1 0h0m4.1 0h0m-18.5 3.6h0m4.1 0h0m4.1 0h0m4.1 0h0m4.1 0h0m4.1 0h0m-14.3 3.5h0m4.1 0h0m4.1 0h0m4.1 0h0m4.1 0h0m4.1 0h0m-18.5 3.6h0m4.1 0h0m4.1 0h0m4.1 0h0m4.1 0h0m4.1 0h0m4.2 0h0m-18.5 3.6h0m4.1 0h0m4.1 0h0m4.1 0h0m4.1 0h0m4.1 0h0m-18.5 3.6h0m4.1 0h0m4.1 0h0m4.1 0h0m4.2 0h0m4.1 0h0m4.1 0h0m4.1 0h0m-22.6 3.5h0m4.1 0h0m4.1 0h0m4.1 0h0m4.1 0h0m4.1 0h0m4.1 0h0m4.1 0h0m-22.6 3.6h0m4.2 0h0m4.1 0h0m4.1 0h0m4.1 0h0m4.1 0h0m4.1 0h0m4.1 0h0m-22.6 3.6h0m4.1 0h0m4.1 0h0m4.1 0h0m4.1 0h0m4.1 0h0m4.1 0h0m4.1 0h0m4.1 0h0m-26.6 3.5h0m4.1 0h0m4.1 0h0m4.1 0h0m4.1 0h0m4.1 0h0m4.1 0h0m4.1 0h0m4.1 0h0m-26.7 3.6h0m4.1 0h0m4.1 0h0m4.1 0h0m4.1 0h0m4.1 0h0m4.1 0h0m4.1 0h0m4.1 0h0m-26.6 3.6h0m4.1 0h0m4.1 0h0m4.1 0h0m4.1 0h0m4.1 0h0m4.1 0h0m4.1 0h0m4.1 0h0m-26.7 3.6h0m4.1 0h0m4.1 0h0m4.1 0h0m4.1 0h0m4.1 0h0m4.2 0h0m4.1 0h0m4.1 0h0m-30.8 3.5h0m4.1 0h0m4.1 0h0m4.1 0h0m4.1 0h0m4.1 0h0m4.1 0h0m4.1 0h0m4.1 0h0m4.1 0h0m-30.8 3.6h0m4.1 0h0m4.1 0h0m4.1 0h0m4.2 0h0m4.1 0h0m4.1 0h0m4.1 0h0m4.1 0h0m4.1 0h0m-30.8 3.6h0m4.1 0h0m4.1 0h0m4.1 0h0m4.1 0h0m4.1 0h0m4.1 0h0m4.1 0h0m4.1 0h0m4.1 0h0m-30.8 3.6h0m4.2 0h0m4.1 0h0m4.1 0h0m4.1 0h0m4.1 0h0m4.1 0h0m4.1 0h0m4.1 0h0m4.1 0h0m-30.8 3.5h0m4.1 0h0m4.1 0h0m4.1 0h0m4.1 0h0m4.1 0h0m4.1 0h0m4.1 0h0m4.1 0h0m4.1 0h0m-30.7 3.6h0m4.1 0h0m4.1 0h0m4.1 0h0m4.1 0h0m4.1 0h0m4.1 0h0m4.1 0h0m4.1 0h0m4.1 0h0m-30.8 3.6h0m4.1 0h0m4.1 0h0m4.1 0h0m4.1 0h0m4.1 0h0m4.1 0h0m4.1 0h0m4.1 0h0m4.2 0h0m-30.8 3.5h0m4.1 0h0m4.1 0h0m4.1 0h0m4.1 0h0m4.1 0h0m4.1 0h0m4.1 0h0m4.1 0h0m4.1 0h0m-30.8 3.6h0m4.1 0h0m4.1 0h0m4.1 0h0m4.1 0h0m4.1 0h0m4.2 0h0m4.1 0h0m4.1 0h0m-26.7 3.6h0m4.1 0h0m4.1 0h0m4.1 0h0m4.1 0h0m4.1 0h0m4.1 0h0m4.1 0h0m4.1 0h0m-30.8 3.6h0m4.1 0h0m4.1 0h0m4.1 0h0m4.2 0h0m4.1 0h0m4.1 0h0m4.1 0h0m4.1 0h0m4.1 0h0m-26.7 3.5h0m4.1 0h0m4.1 0h0m4.1 0h0m4.1 0h0m4.1 0h0m4.1 0h0m4.1 0h0m4.1 0h0m-26.6 3.6h0m4.1 0h0m4.1 0h0m4.1 0h0m4.1 0h0m4.1 0h0m4.1 0h0m4.1 0h0m4.1 0h0m-26.7 3.6h0m4.1 0h0m4.1 0h0m4.1 0h0m4.1 0h0m4.1 0h0m4.1 0h0m4.1 0h0m4.1 0h0m4.1 0h0m-30.7 3.5h0m4.1 0h0m4.1 0h0m4.1 0h0m4.1 0h0m4.1 0h0m4.1 0h0m4.1 0h0m4.1 0h0m4.1 0h0m-30.8 3.6h0m4.1 0h0m4.1 0h0m4.1 0h0m4.1 0h0m4.1 0h0m4.1 0h0m4.1 0h0m4.2 0h0m4.1 0h0m4.1 0h0m-34.9 3.6h0m4.1 0h0m4.1 0h0m4.1 0h0m4.1 0h0m4.1 0h0m4.1 0h0m4.1 0h0m4.1 0h0m4.1 0h0m4.1 0h0m4.1 0h0m-34.9 3.6h0m4.1 0h0m4.1 0h0m4.1 0h0m4.2 0h0m4.1 0h0m4.1 0h0m4.1 0h0m4.1 0h0m4.1 0h0m4.1 0h0m4.1 0h0m4.1 0h0m-43.1 3.5h0m4.1 0h0m4.1 0h0m4.1 0h0m4.1 0h0m4.1 0h0m4.1 0h0m4.1 0h0m4.1 0h0m4.1 0h0m4.1 0h0m4.1 0h0m4.1 0h0m-38.9 3.6h0m4.1 0h0m4.1 0h0m4.1 0h0m4.1 0h0m4.1 0h0m4.1 0h0m4.1 0h0m4.1 0h0m4.1 0h0m-26.7 3.6h0m4.1 0h0m4.1 0h0m4.1 0h0m4.1 0h0m4.1 0h0m4.1 0h0m4.1 0h0m-22.5 3.5h0m4.1 0h0m4.1 0h0m4.1 0h0m4.1 0h0m4.1 0h0m-6.2 3.6h0m4.1 0h0m4.1 0h0" stroke="#7497D6" stroke-width="4"/><path d="M10.4 149.5h0m-2.1 3.5h0m4.1 0h0m4.1 0h0m-6.1 3.6h0m4.1 0h0m4.1 0h0m4.1 0h0m-14.4 3.6h0m4.1 0h0m4.1 0h0m4.1 0h0m4.1 0h0m-14.3 3.5h0m4.1 0h0m4.1 0h0m4.1 0h0m4.1 0h0m4.1 0h0m-22.6 3.6h0m4.1 0h0m4.1 0h0m4.1 0h0m4.1 0h0m4.1 0h0m4.1 0h0m-22.5 3.6h0m4.1 0h0m4.1 0h0m4.1 0h0m4.1 0h0m4.1 0h0m4.1 0h0m4.1 0h0m-30.8 3.6h0m4.1 0h0m4.1 0h0m4.1 0h0m4.1 0h0m4.1 0h0m4.1 0h0m4.1 0h0m4.1 0h0m-30.7 3.5h0m4.1 0h0m4.1 0h0m4.1 0h0m4.1 0h0m4.1 0h0m4.1 0h0m4.1 0h0m4.1 0h0m4.1 0h0m-39 3.6h0m4.1 0h0m4.1 0h0m4.1 0h0m4.1 0h0m4.1 0h0m4.1 0h0m4.1 0h0m4.1 0h0m4.1 0h0m4.1 0h0m4.1 0h0m-43 3.6h0m4.1 0h0m4.1 0h0m4.1 0h0m4.1 0h0m4.1 0h0m4.1 0h0m4.1 0h0m4.1 0h0m4.1 0h0m4.1 0h0m4.1 0h0m4.1 0h0m-51.3 3.5h0m4.1 0h0m4.1 0h0m4.1 0h0m4.1 0h0m4.1 0h0m4.1 0h0m4.1 0h0m4.1 0h0m4.1 0h0m4.1 0h0m4.1 0h0m4.1 0h0m4.2 0h0m4.1 0h0m-55.4 3.6h0m4.1 0h0m4.1 0h0m4.1 0h0m4.1 0h0m4.1 0h0m4.1 0h0m4.1 0h0m4.1 0h0m4.1 0h0m4.1 0h0m4.1 0h0m4.1 0h0m4.1 0h0m4.1 0h0m4.1 0h0m-63.6 3.6h0m4.1 0h0m4.1 0h0m4.1 0h0m4.1 0h0m4.1 0h0m4.1 0h0m4.1 0h0m4.1 0h0m4.1 0h0m4.1 0h0m4.1 0h0m4.1 0h0m4.2 0h0m4.1 0h0m4.1 0h0m4.1 0h0m4.1 0h0m-63.6 3.6h0m4.1 0h0m4.1 0h0m4.1 0h0m4.1 0h0m4.1 0h0m4.1 0h0m4.1 0h0m4.1 0h0m4.1 0h0m4.1 0h0m4.1 0h0m4.1 0h0m4.1 0h0m4.1 0h0m4.1 0h0m4.1 0h0m4.1 0h0m-63.6 3.5h0m4.1 0h0m4.1 0h0m4.1 0h0m4.1 0h0m4.1 0h0m4.1 0h0m4.1 0h0m4.1 0h0m4.1 0h0m4.2 0h0m4.1 0h0m4.1 0h0m4.1 0h0m4.1 0h0m4.1 0h0m4.1 0h0m-59.5 3.6h0m4.1 0h0m4.1 0h0m4.1 0h0m4.1 0h0m4.1 0h0m4.1 0h0m4.1 0h0m4.1 0h0m4.1 0h0m4.1 0h0m4.1 0h0m4.1 0h0m4.1 0h0m4.1 0h0m4.1 0h0m4.1 0h0m-59.5 3.6h0m4.1 0h0m4.1 0h0m4.1 0h0m4.1 0h0m4.1 0h0m4.1 0h0m4.2 0h0m4.1 0h0m4.1 0h0m4.1 0h0m4.1 0h0m4.1 0h0m4.1 0h0m4.1 0h0m4.1 0h0m4.1 0h0m-59.5 3.6h0m4.1 0h0m4.1 0h0m4.1 0h0m4.1 0h0m4.1 0h0m4.1 0h0m4.1 0h0m4.1 0h0m4.1 0h0m4.1 0h0m4.1 0h0m4.1 0h0m4.1 0h0m4.1 0h0m4.1 0h0m4.1 0h0m-59.5 3.5h0m4.1 0h0m4.1 0h0m4.1 0h0m4.2 0h0m4.1 0h0m4.1 0h0m4.1 0h0m4.1 0h0m4.1 0h0m4.1 0h0m4.1 0h0m4.1 0h0m4.1 0h0m4.1 0h0m4.1 0h0m4.1 0h0m-55.4 3.6h0m4.1 0h0m4.1 0h0m4.1 0h0m4.1 0h0m4.1 0h0m4.1 0h0m4.1 0h0m4.1 0h0m4.1 0h0m4.1 0h0m4.1 0h0m4.1 0h0m4.1 0h0m4.2 0h0m4.1 0h0m-59.6 3.6h0m4.2 0h0m4.1 0h0m4.1 0h0m4.1 0h0m4.1 0h0m4.1 0h0m4.1 0h0m4.1 0h0m4.1 0h0m4.1 0h0m4.1 0h0m4.1 0h0m4.1 0h0m4.1 0h0m4.1 0h0m4.1 0h0m-59.5 3.5h0m4.1 0h0m4.1 0h0m4.1 0h0m4.1 0h0m4.1 0h0m4.1 0h0m4.1 0h0m4.1 0h0m4.1 0h0m4.1 0h0m4.1 0h0m4.2 0h0m4.1 0h0m4.1 0h0m4.1 0h0m4.1 0h0m-59.5 3.6h0m4.1 0h0m4.1 0h0m4.1 0h0m4.1 0h0m4.1 0h0m4.1 0h0m4.1 0h0m4.1 0h0m4.1 0h0m4.1 0h0m4.1 0h0m4.1 0h0m4.1 0h0m4.1 0h0m4.1 0h0m4.1 0h0m-59.5 3.6h0m4.1 0h0m4.1 0h0m4.1 0h0m4.1 0h0m4.1 0h0m4.1 0h0m4.1 0h0m4.1 0h0m4.2 0h0m4.1 0h0m4.1 0h0m4.1 0h0m4.1 0h0m4.1 0h0m4.1 0h0m4.1 0h0m-59.5 3.6h0m4.1 0h0m4.1 0h0m4.1 0h0m4.1 0h0m4.1 0h0m4.1 0h0m4.1 0h0m4.1 0h0m4.1 0h0m4.1 0h0m4.1 0h0m4.1 0h0m4.1 0h0m4.1 0h0m4.1 0h0m-55.4 3.5h0m4.1 0h0m4.1 0h0m4.1 0h0m4.1 0h0m4.1 0h0m4.2 0h0m4.1 0h0m4.1 0h0m4.1 0h0m4.1 0h0m4.1 0h0m4.1 0h0m4.1 0h0m4.1 0h0m4.1 0h0m4.1 0h0m-59.5 3.6h0m4.1 0h0m4.1 0h0m4.1 0h0m4.1 0h0m4.1 0h0m4.1 0h0m4.1 0h0m4.1 0h0m4.1 0h0m4.1 0h0m4.1 0h0m4.1 0h0m4.1 0h0m4.1 0h0m4.1 0h0m4.1 0h0m-59.5 3.6h0m4.1 0h0m4.1 0h0m4.2 0h0m4.1 0h0m4.1 0h0m4.1 0h0m4.1 0h0m4.1 0h0m4.1 0h0m4.1 0h0m4.1 0h0m4.1 0h0m4.1 0h0m4.1 0h0m4.1 0h0m4.1 0h0m-59.5 3.5h0m4.1 0h0m4.1 0h0m4.1 0h0m4.1 0h0m4.1 0h0m4.1 0h0m4.1 0h0m4.1 0h0m4.1 0h0m4.1 0h0m4.1 0h0m4.1 0h0m4.1 0h0m4.2 0h0m4.1 0h0m4.1 0h0m-59.5 3.6h0m4.1 0h0m4.1 0h0m4.1 0h0m4.1 0h0m4.1 0h0m4.1 0h0m4.1 0h0m4.1 0h0m4.1 0h0m4.1 0h0m4.1 0h0m4.1 0h0m4.1 0h0m4.1 0h0m4.1 0h0m4.1 0h0m-59.5 3.6h0m4.1 0h0m4.1 0h0m4.1 0h0m4.1 0h0m4.1 0h0m4.1 0h0m4.1 0h0m4.1 0h0m4.1 0h0m4.1 0h0m4.2 0h0m4.1 0h0m4.1 0h0m4.1 0h0m4.1 0h0m4.1 0h0m-59.5 3.6h0m4.1 0h0m4.1 0h0m4.1 0h0m4.1 0h0m4.1 0h0m4.1 0h0m4.1 0h0m4.1 0h0m4.1 0h0m4.1 0h0m4.1 0h0m4.1 0h0m4.1 0h0m4.1 0h0m4.1 0h0m4.1 0h0m4.1 0h0m-63.6 3.5h0m4.1 0h0m4.1 0h0m4.1 0h0m4.1 0h0m4.1 0h0m4.1 0h0m4.1 0h0m4.2 0h0m4.1 0h0m4.1 0h0m4.1 0h0m4.1 0h0m4.1 0h0m4.1 0h0m4.1 0h0m4.1 0h0m4.1 0h0m-63.6 3.6h0m4.1 0h0m4.1 0h0m4.1 0h0m4.1 0h0m4.1 0h0m4.1 0h0m4.1 0h0m4.1 0h0m4.1 0h0m4.1 0h0m4.1 0h0m4.1 0h0m4.1 0h0m4.1 0h0m4.1 0h0m4.1 0h0m4.1 0h0m4.1 0h0m-67.7 3.6h0m4.1 0h0m4.1 0h0m4.1 0h0m4.1 0h0m4.2 0h0m4.1 0h0m4.1 0h0m4.1 0h0m4.1 0h0m4.1 0h0m4.1 0h0m4.1 0h0m4.1 0h0m4.1 0h0m4.1 0h0m4.1 0h0m4.1 0h0m4.1 0h0m4.1 0h0m-67.7 3.5h0m4.1 0h0m4.1 0h0m4.1 0h0m4.1 0h0m4.1 0h0m4.1 0h0m4.1 0h0m4.1 0h0m4.1 0h0m4.1 0h0m4.1 0h0m4.1 0h0m4.1 0h0m4.1 0h0m4.2 0h0m4.1 0h0m4.1 0h0m4.1 0h0m-67.8 3.6h0m4.2 0h0m4.1 0h0m4.1 0h0m4.1 0h0m4.1 0h0m4.1 0h0m4.1 0h0m4.1 0h0m4.1 0h0m4.1 0h0m4.1 0h0m4.1 0h0m4.1 0h0m4.1 0h0m4.1 0h0m4.1 0h0m4.1 0h0m4.1 0h0m4.1 0h0m4.1 0h0m-80 3.6h0m4.1 0h0m4.1 0h0m4.1 0h0m4.1 0h0m4.1 0h0m4.1 0h0m4.1 0h0m4.1 0h0m4.1 0h0m4.1 0h0m4.1 0h0m4.1 0h0m4.2 0h0m4.1 0h0m4.1 0h0m4.1 0h0m4.1 0h0m4.1 0h0m4.1 0h0m4.1 0h0m4.1 0h0m4.1 0h0m-84.1 3.6h0m4.1 0h0m4.1 0h0m4.1 0h0m4.1 0h0m4.1 0h0m4.1 0h0m4.1 0h0m4.1 0h0m4.1 0h0m4.1 0h0m4.1 0h0m4.1 0h0m4.1 0h0m4.1 0h0m4.1 0h0m4.1 0h0m4.1 0h0m4.1 0h0m4.1 0h0m4.1 0h0m4.1 0h0m-80 3.5h0m4.1 0h0m4.1 0h0m4.1 0h0m4.1 0h0m4.1 0h0m4.1 0h0m4.1 0h0m4.1 0h0m4.1 0h0m4.2 0h0m4.1 0h0m4.1 0h0m4.1 0h0m4.1 0h0m4.1 0h0m4.1 0h0m4.1 0h0m4.1 0h0m4.1 0h0m-71.8 3.6h0m4.1 0h0m4.1 0h0m4.1 0h0m4.1 0h0m4.1 0h0m4.1 0h0m4.1 0h0m4.1 0h0m4.1 0h0m4.1 0h0m4.1 0h0m4.1 0h0m4.1 0h0m4.1 0h0m4.1 0h0m4.1 0h0m4.1 0h0m4.1 0h0m-67.7 3.6h0m4.1 0h0m4.1 0h0m4.1 0h0m4.1 0h0m4.1 0h0m4.1 0h0m4.2 0h0m4.1 0h0m4.1 0h0m4.1 0h0m4.1 0h0m4.1 0h0m4.1 0h0m4.1 0h0m4.1 0h0m4.1 0h0m-55.4 3.6h0m4.1 0h0m4.1 0h0m4.1 0h0m4.1 0h0m4.1 0h0m4.1 0h0m4.1 0h0m4.1 0h0m4.1 0h0m4.1 0h0m4.1 0h0m4.1 0h0m4.1 0h0m4.1 0h0m-51.3 3.5h0m4.1 0h0m4.1 0h0m4.2 0h0m4.1 0h0m4.1 0h0m4.1 0h0m4.1 0h0m4.1 0h0m4.1 0h0m4.1 0h0m4.1 0h0m4.1 0h0m-39 3.6h0m4.1 0h0m4.1 0h0m4.1 0h0m4.1 0h0m4.1 0h0m4.1 0h0m4.1 0h0m4.1 0h0m4.1 0h0m4.1 0h0m-26.6 3.6h0m4.1 0h0m4.1 0h0m4.1 0h0m4.1 0h0m4.1 0h0m4.1 0h0" stroke="#DCD6DD" stroke-width="4"/><path d="M10.4 199.5h0m-2.1 3.5h0m4.1 0h0m4.1 0h0m-6.1 3.6h0m4.1 0h0m4.1 0h0m4.1 0h0m-14.4 3.6h0m4.1 0h0m4.1 0h0m4.1 0h0m4.1 0h0m4.1 0h0m-18.4 3.6h0m4.1 0h0m4.1 0h0m4.1 0h0m4.1 0h0m4.1 0h0m4.1 0h0m-26.7 3.5h0m4.1 0h0m4.1 0h0m4.1 0h0m4.1 0h0m4.1 0h0m4.1 0h0m4.1 0h0m4.1 0h0m-30.7 3.6h0m4.1 0h0m4.1 0h0m4.1 0h0m4.1 0h0m4.1 0h0m4.1 0h0m4.1 0h0m4.1 0h0m4.1 0h0m4.1 0h0m-39 3.6h0m4.1 0h0m4.1 0h0m4.1 0h0m4.1 0h0m4.1 0h0m4.1 0h0m4.1 0h0m4.1 0h0m4.1 0h0m4.1 0h0m-38.9 3.5h0m4.1 0h0m4.1 0h0m4.1 0h0m4.1 0h0m4.1 0h0m4.1 0h0m4.1 0h0m4.1 0h0m4.1 0h0m4.1 0h0m4.1 0h0m-43.1 3.6h0m4.1 0h0m4.1 0h0m4.1 0h0m4.1 0h0m4.1 0h0m4.1 0h0m4.1 0h0m4.1 0h0m4.1 0h0m4.1 0h0m4.2 0h0m4.1 0h0m-47.2 3.6h0m4.1 0h0m4.1 0h0m4.1 0h0m4.1 0h0m4.1 0h0m4.1 0h0m4.1 0h0m4.1 0h0m4.1 0h0m4.1 0h0m4.1 0h0m4.1 0h0m4.1 0h0m-51.3 3.6h0m4.1 0h0m4.1 0h0m4.1 0h0m4.1 0h0m4.1 0h0m4.1 0h0m4.1 0h0m4.1 0h0m4.1 0h0m4.2 0h0m4.1 0h0m4.1 0h0m4.1 0h0m4.1 0h0m-34.9 3.5h0m4.1 0h0m4.1 0h0m4.1 0h0m4.1 0h0m4.1 0h0m4.1 0h0m4.1 0h0m4.1 0h0m4.1 0h0m4.1 0h0m-34.9 3.6h0m4.1 0h0m4.1 0h0m4.2 0h0m4.1 0h0m4.1 0h0m4.1 0h0m4.1 0h0m4.1 0h0m4.1 0h0m4.1 0h0m-34.9 3.6h0m4.1 0h0m4.1 0h0m4.1 0h0m4.1 0h0m4.1 0h0m4.1 0h0m4.1 0h0m4.1 0h0m4.1 0h0m4.1 0h0m-34.8 3.5h0m4.1 0h0m4.1 0h0m4.1 0h0m4.1 0h0m4.1 0h0m4.1 0h0m4.1 0h0m4.1 0h0m4.1 0h0m4.1 0h0m-34.9 3.6h0m4.1 0h0m4.1 0h0m4.1 0h0m4.1 0h0m4.1 0h0m4.1 0h0m4.1 0h0m4.1 0h0m4.1 0h0m4.1 0h0m-34.8 3.6h0m4.1 0h0m4.1 0h0m4.1 0h0m4.1 0h0m4.1 0h0m4.1 0h0m4.1 0h0m4.1 0h0m4.1 0h0m4.1 0h0m-34.9 3.6h0m4.1 0h0m4.1 0h0m4.1 0h0m4.1 0h0m4.1 0h0m4.1 0h0m4.1 0h0m4.2 0h0m4.1 0h0m4.1 0h0m-34.9 3.5h0m4.1 0h0m4.1 0h0m4.1 0h0m4.1 0h0m4.1 0h0m4.1 0h0m4.1 0h0m4.1 0h0m4.1 0h0m4.1 0h0m-34.9 3.6h0m4.1 0h0m4.1 0h0m4.1 0h0m4.1 0h0m4.2 0h0m4.1 0h0m4.1 0h0m4.1 0h0m4.1 0h0m4.1 0h0m-34.9 3.6h0m4.1 0h0m4.1 0h0m4.1 0h0m4.1 0h0m4.1 0h0m4.1 0h0m4.1 0h0m4.1 0h0m4.1 0h0m4.1 0h0m-39 3.5h0m4.1 0h0m4.1 0h0m4.2 0h0m4.1 0h0m4.1 0h0m4.1 0h0m4.1 0h0m4.1 0h0m4.1 0h0m4.1 0h0m4.1 0h0m4.1 0h0m-43.1 3.6h0m4.1 0h0m4.1 0h0m4.1 0h0m4.1 0h0m4.1 0h0m4.1 0h0m4.1 0h0m4.1 0h0m4.1 0h0m4.1 0h0m4.1 0h0m4.1 0h0m-47.2 3.6h0m4.2 0h0m4.1 0h0m4.1 0h0m4.1 0h0m4.1 0h0m4.1 0h0m4.1 0h0m4.1 0h0m4.1 0h0m4.1 0h0m4.1 0h0m4.1 0h0m-43.1 3.6h0m4.1 0h0m4.1 0h0m4.1 0h0m4.1 0h0m4.1 0h0m4.1 0h0m4.1 0h0m4.1 0h0m4.1 0h0m4.1 0h0m4.1 0h0m4.2 0h0m-47.2 3.5h0m4.1 0h0m4.1 0h0m4.1 0h0m4.1 0h0m4.1 0h0m4.1 0h0m4.1 0h0m4.1 0h0m4.1 0h0m4.1 0h0m4.1 0h0m4.1 0h0m4.1 0h0m-47.2 3.6h0m4.1 0h0m4.1 0h0m4.1 0h0m4.1 0h0m4.1 0h0m4.1 0h0m4.1 0h0m4.1 0h0m4.1 0h0m4.2 0h0m4.1 0h0m4.1 0h0m4.1 0h0m-51.3 3.6h0m4.1 0h0m4.1 0h0m4.1 0h0m4.1 0h0m4.1 0h0m4.1 0h0m4.1 0h0m4.1 0h0m4.1 0h0m4.1 0h0m4.1 0h0m4.1 0h0m4.1 0h0m4.1 0h0m-51.3 3.6h0m4.1 0h0m4.1 0h0m4.1 0h0m4.1 0h0m4.1 0h0m4.1 0h0m4.1 0h0m4.2 0h0m4.1 0h0m4.1 0h0m4.1 0h0m4.1 0h0m4.1 0h0m4.1 0h0m4.1 0h0m-55.4 3.5h0m4.1 0h0m4.1 0h0m4.1 0h0m4.1 0h0m4.1 0h0m4.1 0h0m4.1 0h0m4.1 0h0m4.1 0h0m4.1 0h0m4.1 0h0m4.1 0h0m4.1 0h0m4.1 0h0m4.1 0h0m-59.5 3.6h0m4.1 0h0m4.1 0h0m4.1 0h0m4.1 0h0m4.1 0h0m4.2 0h0m4.1 0h0m4.1 0h0m4.1 0h0m4.1 0h0m4.1 0h0m4.1 0h0m4.1 0h0m4.1 0h0m4.1 0h0m4.1 0h0m4.1 0h0m-59.5 3.6h0m4.1 0h0m4.1 0h0m4.1 0h0m4.1 0h0m4.1 0h0m4.1 0h0m4.1 0h0m4.1 0h0m4.1 0h0m4.1 0h0m4.1 0h0m4.1 0h0m4.1 0h0m4.1 0h0m4.1 0h0m4.2 0h0m4.1 0h0m4.1 0h0m-71.9 3.5h0m4.1 0h0m4.1 0h0m4.2 0h0m4.1 0h0m4.1 0h0m4.1 0h0m4.1 0h0m4.1 0h0m4.1 0h0m4.1 0h0m4.1 0h0m4.1 0h0m4.1 0h0m4.1 0h0m4.1 0h0m4.1 0h0m4.1 0h0m4.1 0h0m4.1 0h0m4.1 0h0m-75.9 3.6h0m4.1 0h0m4.1 0h0m4.1 0h0m4.1 0h0m4.1 0h0m4.1 0h0m4.1 0h0m4.1 0h0m4.1 0h0m4.1 0h0m4.1 0h0m4.1 0h0m4.1 0h0m4.2 0h0m4.1 0h0m4.1 0h0m4.1 0h0m4.1 0h0m4.1 0h0m-76 3.6h0m4.2 0h0m4.1 0h0m4.1 0h0m4.1 0h0m4.1 0h0m4.1 0h0m4.1 0h0m4.1 0h0m4.1 0h0m4.1 0h0m4.1 0h0m4.1 0h0m4.1 0h0m4.1 0h0m4.1 0h0m4.1 0h0m4.1 0h0m-67.7 3.6h0m4.1 0h0m4.1 0h0m4.1 0h0m4.1 0h0m4.1 0h0m4.1 0h0m4.1 0h0m4.1 0h0m4.1 0h0m4.1 0h0m4.1 0h0m4.1 0h0m4.2 0h0m4.1 0h0m4.1 0h0m4.1 0h0m-63.6 3.5h0m4.1 0h0m4.1 0h0m4.1 0h0m4.1 0h0m4.1 0h0m4.1 0h0m4.1 0h0m4.1 0h0m4.1 0h0m4.1 0h0m4.1 0h0m4.1 0h0m4.1 0h0m4.1 0h0m-51.3 3.6h0m4.1 0h0m4.1 0h0m4.1 0h0m4.1 0h0m4.1 0h0m4.1 0h0m4.1 0h0m4.1 0h0m4.1 0h0m4.1 0h0m4.2 0h0m-43.1 3.6h0m4.1 0h0m4.1 0h0m4.1 0h0m4.1 0h0m4.1 0h0m4.1 0h0m4.1 0h0m4.1 0h0m-26.7 3.5h0m4.1 0h0m4.1 0h0m4.1 0h0m4.1 0h0" stroke="#65149C" stroke-width="4"/></g><path d="M264.5 206l1 4l-1 4l1.5 3l-1.5 4" fill="none" stroke="#1E8A22" stroke-width="3.6" stroke-linecap="round" stroke-linejoin="round"/></g><g transform="translate(1256,168)"><use href="#tb"/><g fill="none" stroke-linecap="round"><path d="M268.9 85.2h0m-219.6 189.3h0m-2 3.5h0m4.1 0h0m4.1 0h0m4.1 0h0m4.1 0h0m-14.4 3.6h0m4.1 0h0m8.3 0h0m-2.1 3.6h0m4.1 0h0m4.1 0h0m4.1 0h0m-18.5 3.6h0m4.1 0h0m4.2 0h0m8.2 0h0m4.1 0h0m4.1 0h0m-22.6 3.5h0m4.1 0h0m4.1 0h0m4.1 0h0m4.1 0h0m4.1 0h0m4.1 0h0m4.1 0h0m4.1 0h0m-30.8 3.6h0m8.3 0h0m4.1 0h0m4.1 0h0m4.1 0h0m4.1 0h0m4.1 0h0m4.1 0h0m4.1 0h0m4.1 0h0m-34.9 3.6h0m4.1 0h0m4.1 0h0m4.1 0h0m4.1 0h0m4.1 0h0m4.1 0h0m4.1 0h0m4.1 0h0m-30.7 3.6h0m4.1 0h0m4.1 0h0m4.1 0h0m4.1 0h0m4.1 0h0m4.1 0h0m4.1 0h0m4.1 0h0m-30.8 3.5h0m4.1 0h0m4.1 0h0m4.1 0h0m4.1 0h0m4.1 0h0m8.2 0h0m4.1 0h0m4.1 0h0m4.1 0h0m-38.9 3.6h0m4.1 0h0m4.1 0h0m4.1 0h0m4.1 0h0m4.1 0h0m4.1 0h0m4.1 0h0m4.1 0h0m4.1 0h0m4.1 0h0m4.1 0h0m4.1 0h0m-47.2 3.6h0m4.1 0h0m4.1 0h0m4.1 0h0m4.1 0h0m4.1 0h0m8.2 0h0m8.2 0h0m4.2 0h0m4.1 0h0m-43.1 3.5h0m4.1 0h0m4.1 0h0m4.1 0h0m4.1 0h0m4.1 0h0m4.1 0h0m4.1 0h0m4.1 0h0m8.2 0h0m4.1 0h0m8.2 0h0m4.1 0h0m-55.4 3.6h0m4.1 0h0m4.1 0h0m4.1 0h0m4.1 0h0m4.1 0h0m4.1 0h0m4.1 0h0m4.1 0h0m4.2 0h0m4.1 0h0m4.1 0h0m4.1 0h0m-39 3.6h0m4.1 0h0m4.1 0h0m4.1 0h0m4.1 0h0m8.2 0h0" stroke="#F46E70" stroke-width="4.1"/><path d="M238.1 67.3h0m20.5 0h0m-43 3.6h0m32.8 0h0m12.3 0h0m-180.6 21.4h0m12.3 0h0m-10.2 3.6h0m4.1 0h0m-47.2 3.5h0m28.7 0h0m36.9 0h0m-8.2 7.2h0m-39 3.6h0m12.4 0h0m20.5 0h0m-34.9 3.5h0m-6.2 3.6h0m16.5 0h0m18.4 3.6h0m26.7 3.6h0m-59.5 3.5h0m86.2 0h0m10.2 10.7h0m-41 7.2h0m12.3 0h0m-39 3.6h0m86.2 0h0m-75.9 3.5h0m32.8 0h0m-84.1 3.6h0m2 3.6h0m4.1 0h0m20.6 0h0m12.3 0h0m16.4 0h0m57.4 0h0m-141.5 3.5h0m12.3 0h0m90.3 0h0m-92.4 3.6h0m4.1 0h0m16.4 0h0m4.1 0h0m24.7 0h0m69.7 0h0m53.4 0h0m-178.5 3.6h0m12.3 0h0m4.1 0h0m12.3 0h0m8.2 0h0m8.2 0h0m4.1 0h0m-55.4 3.6h0m32.8 0h0m4.1 0h0m4.1 0h0m16.5 0h0m69.7 0h0m12.3 0h0m37 0h0m-166.2 3.5h0m8.2 0h0m4.1 0h0m4.1 0h0m28.7 0h0m8.2 0h0m98.5 0h0m-145.7 3.6h0m8.2 0h0m4.1 0h0m12.3 0h0m49.3 0h0m102.6 0h0m28.7 0h0m-186.7 3.6h0m4.1 0h0m8.2 0h0m4.1 0h0m16.4 0h0m37 0h0m4.1 0h0m8.2 0h0m-117 3.5h0m16.4 0h0m32.8 0h0m12.4 0h0m20.5 0h0m41 0h0m28.7 0h0m24.7 0h0m12.3 0h0m-186.7 3.6h0m20.5 0h0m4.1 0h0m24.6 0h0m8.2 0h0m4.1 0h0m12.3 0h0m8.2 0h0m4.1 0h0m8.2 0h0m98.5 0h0m-178.5 3.6h0m16.4 0h0m12.3 0h0m8.3 0h0m4.1 0h0m8.2 0h0m8.2 0h0m8.2 0h0m4.1 0h0m24.6 0h0m90.3 0h0m32.8 0h0m-199 3.6h0m4.1 0h0m8.2 0h0m4.1 0h0m24.6 0h0m12.3 0h0m20.6 0h0m4.1 0h0m61.5 0h0m45.2 0h0m-190.9 3.5h0m4.1 0h0m4.1 0h0m16.5 0h0m12.3 0h0m12.3 0h0m20.5 0h0m4.1 0h0m16.4 0h0m-108.7 3.6h0m8.2 0h0m8.2 0h0m8.2 0h0m4.1 0h0m12.3 0h0m8.2 0h0m4.1 0h0m69.8 0h0m-125.2 3.6h0m12.3 0h0m12.3 0h0m12.3 0h0m20.6 0h0m49.2 0h0m-104.6 3.6h0m24.6 0h0m12.3 0h0m8.2 0h0m4.1 0h0m4.1 0h0m20.5 0h0m8.2 0h0m12.4 0h0m16.4 0h0m4.1 0h0m12.3 0h0m98.5 0h0m-215.5 3.5h0m8.2 0h0m24.7 0h0m20.5 0h0m4.1 0h0m20.5 0h0m36.9 0h0m12.3 0h0m65.7 0h0m-162.1 3.6h0m4.1 0h0m4.1 0h0m4.1 0h0m8.2 0h0m24.6 0h0m4.1 0h0m4.2 0h0m12.3 0h0m8.2 0h0m32.8 0h0m53.4 0h0m-174.5 3.6h0m28.8 0h0m16.4 0h0m4.1 0h0m4.1 0h0m8.2 0h0m36.9 0h0m45.2 0h0m-162.1 3.5h0m4.1 0h0m16.4 0h0m16.4 0h0m12.3 0h0m4.1 0h0m4.1 0h0m12.3 0h0m8.2 0h0m4.1 0h0m12.4 0h0m8.2 0h0m4.1 0h0m41 0h0m-141.6 3.6h0m4.1 0h0m4.1 0h0m4.1 0h0m8.2 0h0m8.3 0h0m8.2 0h0m8.2 0h0m16.4 0h0m8.2 0h0m12.3 0h0m4.1 0h0m32.8 0h0m57.5 0h0m16.4 0h0m-190.8 3.6h0m4.1 0h0m12.3 0h0m4.1 0h0m8.2 0h0m20.5 0h0m16.4 0h0m4.1 0h0m4.1 0h0m4.2 0h0m4.1 0h0m4.1 0h0m4.1 0h0m8.2 0h0m4.1 0h0m12.3 0h0m8.2 0h0m-121.1 3.6h0m8.2 0h0m20.6 0h0m24.6 0h0m20.5 0h0m16.4 0h0m8.2 0h0m4.1 0h0m12.3 0h0m-108.7 3.5h0m24.6 0h0m8.2 0h0m8.2 0h0m32.9 0h0m12.3 0h0m4.1 0h0m4.1 0h0m4.1 0h0m16.4 0h0m4.1 0h0m16.4 0h0m8.2 0h0m-145.7 3.6h0m12.3 0h0m24.7 0h0m4.1 0h0m16.4 0h0m4.1 0h0m8.2 0h0m8.2 0h0m12.3 0h0m16.4 0h0m4.1 0h0m4.1 0h0m24.7 0h0m-137.5 3.6h0m36.9 0h0m8.2 0h0m4.1 0h0m8.2 0h0m4.1 0h0m12.4 0h0m4.1 0h0m4.1 0h0m12.3 0h0m4.1 0h0m4.1 0h0m4.1 0h0m4.1 0h0m8.2 0h0m8.2 0h0m65.7 0h0m-195 3.5h0m8.2 0h0m12.4 0h0m4.1 0h0m8.2 0h0m4.1 0h0m4.1 0h0m20.5 0h0m4.1 0h0m20.5 0h0m8.2 0h0m8.2 0h0m16.4 0h0m4.2 0h0m4.1 0h0m8.2 0h0m4.1 0h0m53.3 0h0m-182.6 3.6h0m28.7 0h0m4.1 0h0m8.2 0h0m8.2 0h0m12.4 0h0m12.3 0h0m16.4 0h0m12.3 0h0m8.2 0h0m4.1 0h0m4.1 0h0m12.3 0h0m4.1 0h0m12.3 0h0m4.1 0h0m49.3 0h0m-178.5 3.6h0m20.5 0h0m8.2 0h0m20.5 0h0m8.2 0h0m16.4 0h0m4.1 0h0m4.1 0h0m4.1 0h0m4.2 0h0m8.2 0h0m4.1 0h0m4.1 0h0m24.6 0h0m4.1 0h0m4.1 0h0m12.3 0h0m20.5 0h0m8.2 0h0m-194.9 3.6h0m16.4 0h0m53.4 0h0m4.1 0h0m8.2 0h0m24.6 0h0m12.3 0h0m4.1 0h0m4.1 0h0m4.1 0h0m4.1 0h0m37 0h0m8.2 0h0m8.2 0h0m-178.5 3.5h0m4.1 0h0m4.1 0h0m12.3 0h0m16.4 0h0m8.2 0h0m16.4 0h0m4.1 0h0m20.5 0h0m4.1 0h0m8.3 0h0m4.1 0h0m4.1 0h0m4.1 0h0m4.1 0h0m12.3 0h0m4.1 0h0m20.5 0h0m4.1 0h0m4.1 0h0m16.4 0h0m-182.6 3.6h0m12.3 0h0m8.2 0h0m8.2 0h0m8.2 0h0m41.1 0h0m8.2 0h0m4.1 0h0m4.1 0h0m4.1 0h0m4.1 0h0m12.3 0h0m4.1 0h0m4.1 0h0m4.1 0h0m8.2 0h0m4.1 0h0m4.1 0h0m8.3 0h0m8.2 0h0m12.3 0h0m12.3 0h0m4.1 0h0m-195 3.6h0m12.4 0h0m12.3 0h0m28.7 0h0m4.1 0h0m12.3 0h0m4.1 0h0m8.2 0h0m12.3 0h0m4.1 0h0m8.3 0h0m8.2 0h0m4.1 0h0m4.1 0h0m20.5 0h0m4.1 0h0m4.1 0h0m4.1 0h0m4.1 0h0m4.1 0h0m4.1 0h0m4.1 0h0m20.5 0h0m4.1 0h0m-182.6 3.5h0m8.2 0h0m12.3 0h0m4.1 0h0m4.1 0h0m41.1 0h0m4.1 0h0m12.3 0h0m4.1 0h0m12.3 0h0m8.2 0h0m8.2 0h0m4.1 0h0m12.3 0h0m8.3 0h0m4.1 0h0m12.3 0h0m4.1 0h0m4.1 0h0m8.2 0h0m-182.6 3.6h0m28.7 0h0m4.1 0h0m24.6 0h0m20.5 0h0m4.1 0h0m12.3 0h0m4.2 0h0m8.2 0h0m12.3 0h0m8.2 0h0m16.4 0h0m4.1 0h0m16.4 0h0m4.1 0h0m16.4 0h0m4.1 0h0m-207.2 3.6h0m36.9 0h0m12.3 0h0m45.2 0h0m12.3 0h0m4.1 0h0m12.3 0h0m4.1 0h0m4.1 0h0m4.1 0h0m4.1 0h0m4.1 0h0m4.1 0h0m8.2 0h0m4.1 0h0m4.1 0h0m4.2 0h0m4.1 0h0m12.3 0h0m4.1 0h0m4.1 0h0m4.1 0h0m4.1 0h0m4.1 0h0m-162.1 3.6h0m20.5 0h0m16.4 0h0m4.1 0h0m20.5 0h0m12.4 0h0m8.2 0h0m4.1 0h0m4.1 0h0m8.2 0h0m8.2 0h0m8.2 0h0m4.1 0h0m4.1 0h0m4.1 0h0m4.1 0h0m12.3 0h0m4.1 0h0m12.3 0h0m-145.7 3.5h0m8.3 0h0m4.1 0h0m12.3 0h0m12.3 0h0m4.1 0h0m12.3 0h0m8.2 0h0m12.3 0h0m8.2 0h0m8.2 0h0m4.1 0h0m4.1 0h0m16.5 0h0m4.1 0h0m4.1 0h0m4.1 0h0m4.1 0h0m12.3 0h0m4.1 0h0m-145.7 3.6h0m12.3 0h0m8.2 0h0m4.1 0h0m8.2 0h0m8.2 0h0m4.1 0h0m4.1 0h0m8.3 0h0m4.1 0h0m4.1 0h0m12.3 0h0m4.1 0h0m8.2 0h0m4.1 0h0m8.2 0h0m4.1 0h0m8.2 0h0m4.1 0h0m24.6 0h0m4.1 0h0m-137.4 3.6h0m4.1 0h0m4.1 0h0m8.2 0h0m20.5 0h0m16.4 0h0m4.1 0h0m4.1 0h0m4.1 0h0m12.3 0h0m8.2 0h0m8.2 0h0m8.3 0h0m4.1 0h0m8.2 0h0m4.1 0h0m4.1 0h0m4.1 0h0m4.1 0h0m-137.5 3.6h0m8.2 0h0m4.1 0h0m4.1 0h0m4.1 0h0m4.1 0h0m16.4 0h0m4.1 0h0m4.1 0h0m4.2 0h0m8.2 0h0m8.2 0h0m4.1 0h0m4.1 0h0m4.1 0h0m8.2 0h0m16.4 0h0m4.1 0h0m8.2 0h0m4.1 0h0m8.2 0h0m8.2 0h0m-137.4 3.5h0m8.2 0h0m4.1 0h0m8.2 0h0m12.3 0h0m8.2 0h0m8.2 0h0m4.1 0h0m4.1 0h0m16.4 0h0m4.1 0h0m12.3 0h0m4.1 0h0m4.1 0h0m12.4 0h0m8.2 0h0m12.3 0h0m4.1 0h0m-104.7 3.6h0m8.2 0h0m12.4 0h0m12.3 0h0m16.4 0h0m4.1 0h0m4.1 0h0m8.2 0h0m28.7 0h0m4.1 0h0m12.3 0h0m-186.7 3.6h0m65.7 0h0m4.1 0h0m8.2 0h0m8.2 0h0m4.1 0h0m8.2 0h0m8.2 0h0m20.5 0h0m4.1 0h0m4.1 0h0m12.4 0h0m4.1 0h0m16.4 0h0m16.4 0h0m-182.6 3.5h0m65.6 0h0m8.2 0h0m8.2 0h0m4.1 0h0m16.5 0h0m4.1 0h0m4.1 0h0m4.1 0h0m4.1 0h0m4.1 0h0m12.3 0h0m8.2 0h0m4.1 0h0m8.2 0h0m4.1 0h0m4.1 0h0m-80 3.6h0m4.1 0h0m12.3 0h0m16.4 0h0m8.2 0h0m4.1 0h0m4.1 0h0m8.2 0h0m4.2 0h0m4.1 0h0m4.1 0h0m4.1 0h0m4.1 0h0m4.1 0h0m-117 3.6h0m4.1 0h0m4.1 0h0m4.1 0h0m12.3 0h0m4.1 0h0m12.3 0h0m20.6 0h0m12.3 0h0m4.1 0h0m8.2 0h0m4.1 0h0m4.1 0h0m4.1 0h0m12.3 0h0m-129.3 3.6h0m24.7 0h0m4.1 0h0m16.4 0h0m8.2 0h0m16.4 0h0m4.1 0h0m4.1 0h0m4.1 0h0m16.4 0h0m8.2 0h0m20.6 0h0m-96.5 3.5h0m4.1 0h0m16.4 0h0m16.5 0h0m8.2 0h0m4.1 0h0m4.1 0h0m8.2 0h0m4.1 0h0m4.1 0h0m4.1 0h0m16.4 0h0m-84.1 3.6h0m4.1 0h0m8.2 0h0m12.3 0h0m16.4 0h0m4.1 0h0m20.5 0h0m4.1 0h0m4.1 0h0m-67.7 3.6h0m12.3 0h0m4.1 0h0m4.2 0h0m4.1 0h0m4.1 0h0m8.2 0h0m4.1 0h0m12.3 0h0m4.1 0h0m4.1 0h0m-30.8 3.5h0m4.1 0h0m4.1 0h0m4.1 0h0m4.1 0h0" stroke="#F9B71A" stroke-width="4.1"/><path d="M197.1 67.3h0m8.2 0h0m12.3 0h0m16.4 0h0m20.5 0h0m8.2 0h0m-125.1 3.6h0m32.8 0h0m57.5 0h0m-190.9 3.5h0m4.1 0h0m4.1 0h0m135.5 0h0m36.9 0h0m4.1 0h0m4.1 0h0m-174.4 3.6h0m176.5 0h0m4.1 0h0m12.3 0h0m20.5 0h0m-223.7 3.6h0m4.1 0h0m32.9 0h0m61.5 0h0m12.3 0h0m12.4 0h0m4.1 0h0m41 0h0m20.5 0h0m4.1 0h0m-207.2 3.6h0m12.3 0h0m4.1 0h0m4.1 0h0m8.2 0h0m8.2 0h0m20.5 0h0m4.1 0h0m28.8 0h0m8.2 0h0m41 0h0m69.8 0h0m-207.3 3.5h0m4.1 0h0m4.1 0h0m4.1 0h0m8.2 0h0m24.7 0h0m8.2 0h0m20.5 0h0m90.3 0h0m8.2 0h0m20.5 0h0m20.5 0h0m8.2 0h0m8.2 0h0m-235.9 3.6h0m12.3 0h0m16.4 0h0m8.2 0h0m4.1 0h0m4.1 0h0m4.1 0h0m61.6 0h0m4.1 0h0m16.4 0h0m49.2 0h0m-170.3 3.6h0m12.3 0h0m4.1 0h0m4.1 0h0m4.1 0h0m4.2 0h0m4.1 0h0m12.3 0h0m12.3 0h0m4.1 0h0m73.9 0h0m86.1 0h0m-235.9 3.5h0m12.3 0h0m12.3 0h0m4.1 0h0m4.1 0h0m4.1 0h0m8.2 0h0m20.5 0h0m12.3 0h0m4.1 0h0m119.1 0h0m20.5 0h0m28.7 0h0m-236 3.6h0m4.1 0h0m8.2 0h0m4.1 0h0m12.4 0h0m4.1 0h0m8.2 0h0m12.3 0h0m12.3 0h0m4.1 0h0m8.2 0h0m12.3 0h0m57.5 0h0m4.1 0h0m16.4 0h0m45.1 0h0m20.6 0h0m-240.1 3.6h0m20.5 0h0m12.3 0h0m4.1 0h0m4.1 0h0m8.2 0h0m24.6 0h0m8.2 0h0m24.7 0h0m20.5 0h0m49.2 0h0m-162.1 3.6h0m8.2 0h0m4.1 0h0m8.3 0h0m4.1 0h0m8.2 0h0m4.1 0h0m4.1 0h0m12.3 0h0m4.1 0h0m4.1 0h0m12.3 0h0m49.3 0h0m12.3 0h0m69.7 0h0m-235.9 3.5h0m36.9 0h0m16.4 0h0m8.2 0h0m4.1 0h0m4.1 0h0m4.1 0h0m4.1 0h0m4.1 0h0m8.2 0h0m12.4 0h0m4.1 0h0m77.9 0h0m-178.5 3.6h0m36.9 0h0m4.1 0h0m4.2 0h0m8.2 0h0m8.2 0h0m4.1 0h0m8.2 0h0m4.1 0h0m4.1 0h0m4.1 0h0m16.4 0h0m4.1 0h0m4.1 0h0m8.2 0h0m61.6 0h0m61.5 0h0m8.3 0h0m-244.2 3.6h0m12.3 0h0m4.1 0h0m4.1 0h0m4.1 0h0m8.2 0h0m4.1 0h0m4.1 0h0m12.3 0h0m12.3 0h0m12.3 0h0m4.1 0h0m8.3 0h0m8.2 0h0m49.2 0h0m-133.4 3.6h0m8.2 0h0m4.1 0h0m12.4 0h0m4.1 0h0m4.1 0h0m4.1 0h0m4.1 0h0m12.3 0h0m4.1 0h0m20.5 0h0m4.1 0h0m4.1 0h0m12.3 0h0m4.1 0h0m4.1 0h0m49.3 0h0m-149.8 3.5h0m12.3 0h0m12.3 0h0m8.2 0h0m4.1 0h0m4.1 0h0m16.4 0h0m4.1 0h0m4.1 0h0m4.2 0h0m4.1 0h0m12.3 0h0m4.1 0h0m8.2 0h0m8.2 0h0m28.7 0h0m65.7 0h0m-231.9 3.6h0m12.3 0h0m24.6 0h0m8.2 0h0m8.3 0h0m4.1 0h0m4.1 0h0m4.1 0h0m8.2 0h0m16.4 0h0m4.1 0h0m4.1 0h0m12.3 0h0m4.1 0h0m4.1 0h0m4.1 0h0m4.1 0h0m8.2 0h0m4.1 0h0m4.1 0h0m37 0h0m41 0h0m-194.9 3.6h0m4.1 0h0m8.2 0h0m12.3 0h0m4.1 0h0m4.1 0h0m4.1 0h0m4.1 0h0m4.1 0h0m12.3 0h0m20.6 0h0m8.2 0h0m4.1 0h0m12.3 0h0m12.3 0h0m8.2 0h0m4.1 0h0m12.3 0h0m4.1 0h0m53.4 0h0m-227.8 3.5h0m41 0h0m4.1 0h0m4.1 0h0m16.5 0h0m4.1 0h0m4.1 0h0m4.1 0h0m12.3 0h0m16.4 0h0m4.1 0h0m4.1 0h0m4.1 0h0m4.1 0h0m24.6 0h0m4.1 0h0m8.3 0h0m8.2 0h0m86.1 0h0m-240 3.6h0m20.5 0h0m8.2 0h0m8.2 0h0m4.1 0h0m8.2 0h0m4.1 0h0m4.1 0h0m4.1 0h0m4.1 0h0m8.2 0h0m4.1 0h0m4.1 0h0m8.3 0h0m12.3 0h0m4.1 0h0m16.4 0h0m4.1 0h0m12.3 0h0m4.1 0h0m4.1 0h0m4.1 0h0m-133.4 3.6h0m4.1 0h0m4.1 0h0m4.1 0h0m4.1 0h0m8.3 0h0m12.3 0h0m4.1 0h0m4.1 0h0m4.1 0h0m4.1 0h0m8.2 0h0m12.3 0h0m8.2 0h0m4.1 0h0m12.3 0h0m4.1 0h0m4.1 0h0m16.5 0h0m4.1 0h0m90.2 0h0m-240 3.6h0m16.4 0h0m8.2 0h0m4.1 0h0m12.3 0h0m8.2 0h0m24.6 0h0m8.2 0h0m8.2 0h0m4.2 0h0m12.3 0h0m4.1 0h0m4.1 0h0m8.2 0h0m4.1 0h0m4.1 0h0m4.1 0h0m20.5 0h0m4.1 0h0m-170.3 3.5h0m12.3 0h0m20.5 0h0m4.1 0h0m8.2 0h0m8.3 0h0m4.1 0h0m4.1 0h0m8.2 0h0m4.1 0h0m4.1 0h0m8.2 0h0m65.6 0h0m8.3 0h0m4.1 0h0m4.1 0h0m8.2 0h0m20.5 0h0m-194.9 3.6h0m45.1 0h0m12.3 0h0m8.2 0h0m4.1 0h0m4.1 0h0m4.1 0h0m4.1 0h0m4.1 0h0m4.1 0h0m8.2 0h0m12.4 0h0m4.1 0h0m8.2 0h0m4.1 0h0m4.1 0h0m4.1 0h0m12.3 0h0m12.3 0h0m4.1 0h0m12.3 0h0m8.2 0h0m28.8 0h0m24.6 0h0m-236 3.6h0m20.5 0h0m4.1 0h0m32.9 0h0m4.1 0h0m8.2 0h0m4.1 0h0m36.9 0h0m24.6 0h0m8.2 0h0m28.8 0h0m4.1 0h0m28.7 0h0m4.1 0h0m-203.1 3.5h0m8.2 0h0m4.1 0h0m12.3 0h0m8.2 0h0m4.1 0h0m8.2 0h0m4.1 0h0m4.1 0h0m8.2 0h0m4.1 0h0m8.2 0h0m8.2 0h0m4.1 0h0m16.5 0h0m8.2 0h0m4.1 0h0m12.3 0h0m12.3 0h0m4.1 0h0m8.2 0h0m8.2 0h0m8.2 0h0m8.2 0h0m12.3 0h0m-149.8 3.6h0m24.7 0h0m16.4 0h0m4.1 0h0m12.3 0h0m4.1 0h0m8.2 0h0m4.1 0h0m16.4 0h0m8.2 0h0m8.3 0h0m16.4 0h0m16.4 0h0m8.2 0h0m36.9 0h0m-231.8 3.6h0m36.9 0h0m28.7 0h0m24.6 0h0m12.4 0h0m4.1 0h0m4.1 0h0m12.3 0h0m16.4 0h0m12.3 0h0m12.3 0h0m4.1 0h0m8.2 0h0m8.2 0h0m20.6 0h0m24.6 0h0m4.1 0h0m-211.4 3.6h0m20.5 0h0m16.5 0h0m12.3 0h0m4.1 0h0m4.1 0h0m8.2 0h0m4.1 0h0m8.2 0h0m8.2 0h0m4.1 0h0m16.4 0h0m4.1 0h0m8.2 0h0m4.1 0h0m4.1 0h0m8.3 0h0m8.2 0h0m16.4 0h0m4.1 0h0m4.1 0h0m8.2 0h0m8.2 0h0m12.3 0h0m16.4 0h0m-231.8 3.5h0m24.6 0h0m28.7 0h0m8.2 0h0m4.1 0h0m4.1 0h0m12.3 0h0m4.1 0h0m12.4 0h0m4.1 0h0m4.1 0h0m12.3 0h0m16.4 0h0m4.1 0h0m4.1 0h0m4.1 0h0m4.1 0h0m8.2 0h0m16.4 0h0m4.1 0h0m4.1 0h0m4.1 0h0m4.1 0h0m4.1 0h0m8.3 0h0m4.1 0h0m-182.7 3.6h0m16.4 0h0m4.2 0h0m4.1 0h0m4.1 0h0m4.1 0h0m4.1 0h0m8.2 0h0m4.1 0h0m4.1 0h0m12.3 0h0m4.1 0h0m16.4 0h0m12.3 0h0m4.1 0h0m8.2 0h0m8.2 0h0m8.3 0h0m4.1 0h0m4.1 0h0m4.1 0h0m36.9 0h0m20.5 0h0m-227.7 3.6h0m4.1 0h0m16.4 0h0m20.5 0h0m16.4 0h0m4.1 0h0m8.2 0h0m24.6 0h0m4.1 0h0m12.4 0h0m12.3 0h0m8.2 0h0m24.6 0h0m8.2 0h0m16.4 0h0m12.3 0h0m4.1 0h0m4.1 0h0m8.3 0h0m4.1 0h0m4.1 0h0m8.2 0h0m-215.5 3.5h0m20.5 0h0m24.7 0h0m8.2 0h0m4.1 0h0m16.4 0h0m8.2 0h0m16.4 0h0m4.1 0h0m32.8 0h0m8.3 0h0m41 0h0m4.1 0h0m4.1 0h0m4.1 0h0m4.1 0h0m12.3 0h0m12.3 0h0m12.3 0h0m-231.8 3.6h0m12.3 0h0m24.6 0h0m12.3 0h0m12.3 0h0m28.8 0h0m8.2 0h0m4.1 0h0m4.1 0h0m8.2 0h0m12.3 0h0m4.1 0h0m4.1 0h0m4.1 0h0m8.2 0h0m4.1 0h0m8.2 0h0m4.1 0h0m8.2 0h0m8.2 0h0m4.1 0h0m4.2 0h0m4.1 0h0m8.2 0h0m16.4 0h0m12.3 0h0m-248.3 3.6h0m20.5 0h0m4.1 0h0m16.4 0h0m8.2 0h0m28.8 0h0m41 0h0m8.2 0h0m4.1 0h0m12.3 0h0m12.4 0h0m4.1 0h0m4.1 0h0m4.1 0h0m4.1 0h0m4.1 0h0m8.2 0h0m8.2 0h0m4.1 0h0m12.3 0h0m4.1 0h0m8.2 0h0m24.6 0h0m-182.6 3.6h0m4.1 0h0m12.3 0h0m16.4 0h0m4.1 0h0m24.7 0h0m4.1 0h0m4.1 0h0m8.2 0h0m12.3 0h0m8.2 0h0m4.1 0h0m16.4 0h0m4.1 0h0m16.4 0h0m4.2 0h0m28.7 0h0m8.2 0h0m-199.1 3.5h0m12.4 0h0m16.4 0h0m8.2 0h0m4.1 0h0m8.2 0h0m28.7 0h0m4.1 0h0m4.1 0h0m4.1 0h0m8.2 0h0m4.1 0h0m8.3 0h0m12.3 0h0m8.2 0h0m4.1 0h0m4.1 0h0m4.1 0h0m8.2 0h0m20.5 0h0m4.1 0h0m4.1 0h0m8.2 0h0m4.1 0h0m8.2 0h0m-231.8 3.6h0m16.4 0h0m53.3 0h0m8.2 0h0m20.6 0h0m4.1 0h0m8.2 0h0m12.3 0h0m20.5 0h0m4.1 0h0m16.4 0h0m24.6 0h0m20.6 0h0m4.1 0h0m4.1 0h0m4.1 0h0m8.2 0h0m-158 3.6h0m4.1 0h0m4.1 0h0m12.3 0h0m24.6 0h0m4.1 0h0m4.1 0h0m4.1 0h0m8.2 0h0m4.2 0h0m12.3 0h0m4.1 0h0m4.1 0h0m8.2 0h0m4.1 0h0m4.1 0h0m4.1 0h0m4.1 0h0m4.1 0h0m12.3 0h0m12.3 0h0m4.1 0h0m8.2 0h0m4.1 0h0m-149.8 3.6h0m16.5 0h0m16.4 0h0m4.1 0h0m12.3 0h0m4.1 0h0m8.2 0h0m8.2 0h0m4.1 0h0m12.3 0h0m8.2 0h0m4.1 0h0m12.4 0h0m4.1 0h0m28.7 0h0m8.2 0h0m-236 3.5h0m28.7 0h0m53.4 0h0m16.4 0h0m8.2 0h0m20.5 0h0m12.3 0h0m4.2 0h0m4.1 0h0m4.1 0h0m16.4 0h0m24.6 0h0m20.5 0h0m4.1 0h0m4.1 0h0m12.3 0h0m-235.9 3.6h0m28.7 0h0m49.2 0h0m41.1 0h0m4.1 0h0m4.1 0h0m4.1 0h0m8.2 0h0m12.3 0h0m4.1 0h0m4.1 0h0m8.2 0h0m4.1 0h0m8.2 0h0m8.2 0h0m4.1 0h0m28.8 0h0m4.1 0h0m4.1 0h0m4.1 0h0m-231.9 3.6h0m4.1 0h0m12.3 0h0m86.2 0h0m16.4 0h0m8.2 0h0m4.1 0h0m16.5 0h0m4.1 0h0m8.2 0h0m16.4 0h0m12.3 0h0m4.1 0h0m4.1 0h0m8.2 0h0m4.1 0h0m4.1 0h0m8.2 0h0m4.1 0h0m8.2 0h0m-203.1 3.5h0m73.9 0h0m16.4 0h0m16.4 0h0m4.1 0h0m8.2 0h0m8.2 0h0m4.1 0h0m24.6 0h0m4.1 0h0m8.3 0h0m4.1 0h0m4.1 0h0m12.3 0h0m4.1 0h0m4.1 0h0m4.1 0h0m-227.8 3.6h0m32.8 0h0m41.1 0h0m24.6 0h0m4.1 0h0m32.8 0h0m16.5 0h0m4.1 0h0m4.1 0h0m4.1 0h0m4.1 0h0m8.2 0h0m12.3 0h0m4.1 0h0m4.1 0h0m12.3 0h0m20.5 0h0m-162.1 3.6h0m53.4 0h0m8.2 0h0m8.2 0h0m4.1 0h0m4.1 0h0m4.1 0h0m4.1 0h0m8.2 0h0m4.1 0h0m4.1 0h0m4.1 0h0m37 0h0m8.2 0h0m-166.2 3.6h0m65.6 0h0m12.3 0h0m12.4 0h0m4.1 0h0m4.1 0h0m8.2 0h0m8.2 0h0m8.2 0h0m4.1 0h0m4.1 0h0m4.1 0h0m8.2 0h0m4.1 0h0m4.1 0h0m4.1 0h0m4.1 0h0m4.1 0h0m12.3 0h0m-215.4 3.5h0m69.7 0h0m16.5 0h0m20.5 0h0m36.9 0h0m8.2 0h0m8.2 0h0m8.2 0h0m12.4 0h0m8.2 0h0m4.1 0h0m8.2 0h0m8.2 0h0m4.1 0h0m-203.2 3.6h0m119.1 0h0m4.1 0h0m4.1 0h0m8.2 0h0m4.1 0h0m8.2 0h0m4.1 0h0m8.2 0h0m12.3 0h0m4.1 0h0m12.3 0h0m4.1 0h0m4.1 0h0m4.1 0h0m-153.9 3.6h0m69.8 0h0m8.2 0h0m4.1 0h0m4.1 0h0m4.1 0h0m4.1 0h0m8.2 0h0m4.1 0h0m4.1 0h0m12.4 0h0m12.3 0h0m16.4 0h0m4.1 0h0m-112.9 3.5h0m45.2 0h0m4.1 0h0m12.3 0h0m4.1 0h0m8.2 0h0m4.1 0h0m4.1 0h0m4.1 0h0m4.1 0h0m12.3 0h0m12.3 0h0m-186.7 3.6h0m20.5 0h0m32.9 0h0m36.9 0h0m16.4 0h0m61.6 0h0m12.3 0h0m-80 3.6h0m32.8 0h0m16.4 0h0m4.1 0h0m12.3 0h0m4.1 0h0m4.1 0h0m8.2 0h0m-125.1 3.6h0m28.7 0h0m20.5 0h0m32.8 0h0m8.3 0h0m4.1 0h0m4.1 0h0m12.3 0h0m8.2 0h0m8.2 0h0m-149.8 3.5h0m86.2 0h0m20.5 0h0m8.2 0h0m16.4 0h0m4.1 0h0m16.4 0h0m-211.3 3.6h0m78 0h0m12.3 0h0m41 0h0m36.9 0h0m28.8 0h0m4.1 0h0m-170.3 3.6h0m86.1 0h0m28.8 0h0m4.1 0h0m4.1 0h0m36.9 0h0m-190.8 3.5h0m110.8 0h0m45.1 0h0m4.1 0h0m8.2 0h0m12.4 0h0m-96.5 3.6h0m4.1 0h0m4.1 0h0m16.4 0h0m4.1 0h0m24.7 0h0m20.5 0h0m-39 3.6h0m4.1 0h0m32.8 0h0m24.7 0h0m4.1 0h0m-141.6 3.6h0m49.2 0h0m20.5 0h0m45.2 0h0m28.7 0h0m24.6 0h0m-133.3 3.5h0m12.3 0h0m20.5 0h0m16.4 0h0m4.1 0h0m32.8 0h0m-26.6 3.6h0m12.3 0h0m24.6 0h0m20.5 0h0m-80 3.6h0m4.1 0h0m4.1 0h0m-26.7 3.6h0m28.8 0h0m36.9 0h0m4.1 0h0m4.1 0h0m12.3 0h0m20.5 0h0m8.2 0h0m-96.4 3.5h0m24.6 0h0m57.5 0h0m12.3 0h0m-71.8 3.6h0m24.6 0h0m24.6 0h0m16.4 0h0m4.1 0h0m-108.7 3.6h0m20.5 0h0m8.2 0h0m8.2 0h0m12.3 0h0m16.4 0h0m4.1 0h0m12.4 0h0m4.1 0h0m4.1 0h0m12.3 0h0m4.1 0h0m-86.2 7.1h0m16.4 0h0m-6.1 3.6h0m4.1 0h0m45.1 0h0m-129.3 3.6h0m4.1 0h0m61.6 0h0m4.1 0h0m4.1 0h0m20.5 0h0m16.4 0h0m12.4 0h0m4.1 0h0m4.1 0h0m-51.3 3.5h0m16.4 0h0m-55.4 3.6h0m32.8 0h0m49.3 0h0m-63.7 3.6h0m37 0h0m4.1 0h0m-26.7 3.5h0m4.1 0h0m24.6 0h0" stroke="#C99AF6" stroke-width="4.1"/><path d="M37 67.3h0m4.1 0h0m4.1 0h0m4.1 0h0m4.1 0h0m12.4 0h0m12.3 0h0m8.2 0h0m4.1 0h0m4.1 0h0m12.3 0h0m4.1 0h0m8.2 0h0m4.1 0h0m4.1 0h0m4.1 0h0m4.1 0h0m4.1 0h0m8.2 0h0m4.1 0h0m4.1 0h0m12.4 0h0m8.2 0h0m4.1 0h0m4.1 0h0m4.1 0h0m4.1 0h0m-158 3.6h0m4.1 0h0m4.1 0h0m4.1 0h0m4.1 0h0m4.1 0h0m4.1 0h0m4.1 0h0m4.1 0h0m12.3 0h0m12.3 0h0m12.3 0h0m8.3 0h0m4.1 0h0m4.1 0h0m4.1 0h0m4.1 0h0m12.3 0h0m4.1 0h0m4.1 0h0m12.3 0h0m4.1 0h0m16.4 0h0m-125.2 3.5h0m12.4 0h0m12.3 0h0m4.1 0h0m4.1 0h0m12.3 0h0m12.3 0h0m4.1 0h0m8.2 0h0m12.3 0h0m4.1 0h0m4.1 0h0m4.1 0h0m4.1 0h0m4.1 0h0m8.3 0h0m16.4 0h0m12.3 0h0m4.1 0h0m-158 3.6h0m12.3 0h0m4.1 0h0m4.1 0h0m12.3 0h0m8.2 0h0m12.3 0h0m4.1 0h0m4.1 0h0m8.3 0h0m4.1 0h0m4.1 0h0m4.1 0h0m8.2 0h0m4.1 0h0m12.3 0h0m4.1 0h0m20.5 0h0m8.2 0h0m4.1 0h0m8.2 0h0m4.1 0h0m8.2 0h0m-137.4 3.6h0m4.1 0h0m24.6 0h0m4.1 0h0m4.1 0h0m36.9 0h0m4.1 0h0m8.2 0h0m16.5 0h0m4.1 0h0m4.1 0h0m16.4 0h0m8.2 0h0m8.2 0h0m-141.6 3.6h0m4.1 0h0m4.1 0h0m12.3 0h0m4.1 0h0m8.2 0h0m4.1 0h0m4.2 0h0m8.2 0h0m12.3 0h0m4.1 0h0m4.1 0h0m12.3 0h0m20.5 0h0m4.1 0h0m16.4 0h0m12.3 0h0m8.3 0h0m-129.3 3.5h0m4.1 0h0m4.1 0h0m16.4 0h0m8.2 0h0m8.2 0h0m4.1 0h0m4.1 0h0m8.2 0h0m16.4 0h0m8.3 0h0m4.1 0h0m12.3 0h0m4.1 0h0m24.6 0h0m12.3 0h0m-199 3.6h0m49.2 0h0m24.6 0h0m4.1 0h0m4.1 0h0m8.3 0h0m4.1 0h0m4.1 0h0m4.1 0h0m16.4 0h0m12.3 0h0m4.1 0h0m4.1 0h0m4.1 0h0m12.3 0h0m4.1 0h0m4.1 0h0m16.4 0h0m8.3 0h0m4.1 0h0m4.1 0h0m-203.2 3.6h0m4.1 0h0m4.1 0h0m82.1 0h0m8.2 0h0m4.1 0h0m8.2 0h0m4.1 0h0m4.1 0h0m4.1 0h0m4.1 0h0m8.2 0h0m4.1 0h0m4.2 0h0m12.3 0h0m8.2 0h0m4.1 0h0m4.1 0h0m20.5 0h0m-190.8 3.5h0m4.1 0h0m86.2 0h0m4.1 0h0m8.2 0h0m4.1 0h0m24.6 0h0m4.1 0h0m8.2 0h0m4.1 0h0m4.1 0h0m8.2 0h0m4.1 0h0m4.1 0h0m4.1 0h0m4.1 0h0m8.2 0h0m4.1 0h0m24.7 0h0m-223.7 3.6h0m4.1 0h0m4.1 0h0m4.1 0h0m4.1 0h0m53.4 0h0m24.6 0h0m32.8 0h0m4.1 0h0m12.3 0h0m4.1 0h0m12.4 0h0m16.4 0h0m24.6 0h0m4.1 0h0m4.1 0h0m4.1 0h0m16.4 0h0m-231.8 3.6h0m8.2 0h0m4.1 0h0m8.2 0h0m4.1 0h0m78 0h0m4.1 0h0m4.1 0h0m4.1 0h0m12.3 0h0m8.2 0h0m4.1 0h0m12.3 0h0m12.3 0h0m8.2 0h0m8.2 0h0m41.1 0h0m8.2 0h0m12.3 0h0m4.1 0h0m4.1 0h0m8.2 0h0m-260.6 3.6h0m4.1 0h0m4.1 0h0m4.1 0h0m4.1 0h0m4.1 0h0m4.1 0h0m90.3 0h0m4.1 0h0m4.1 0h0m12.3 0h0m12.3 0h0m4.1 0h0m8.3 0h0m4.1 0h0m8.2 0h0m16.4 0h0m8.2 0h0m12.3 0h0m20.5 0h0m20.5 0h0m-244.1 3.5h0m4.1 0h0m4.1 0h0m4.1 0h0m4.1 0h0m4.1 0h0m102.6 0h0m12.3 0h0m4.1 0h0m4.1 0h0m8.2 0h0m4.1 0h0m4.1 0h0m8.2 0h0m4.1 0h0m4.1 0h0m8.2 0h0m16.5 0h0m4.1 0h0m8.2 0h0m12.3 0h0m12.3 0h0m4.1 0h0m-248.3 3.6h0m4.1 0h0m8.2 0h0m4.1 0h0m4.1 0h0m16.4 0h0m28.8 0h0m65.6 0h0m8.2 0h0m8.2 0h0m8.3 0h0m28.7 0h0m12.3 0h0m49.2 0h0m-244.1 3.6h0m4.1 0h0m4.1 0h0m8.2 0h0m4.1 0h0m49.2 0h0m57.5 0h0m4.1 0h0m8.2 0h0m4.1 0h0m4.1 0h0m4.1 0h0m4.1 0h0m8.2 0h0m12.3 0h0m45.2 0h0m-223.7 3.6h0m4.1 0h0m4.1 0h0m4.1 0h0m4.1 0h0m4.1 0h0m4.1 0h0m114.9 0h0m4.1 0h0m12.4 0h0m16.4 0h0m8.2 0h0m36.9 0h0m4.1 0h0m37 0h0m-256.5 3.5h0m4.1 0h0m4.1 0h0m4.1 0h0m4.1 0h0m4.1 0h0m4.1 0h0m4.1 0h0m49.2 0h0m65.7 0h0m4.1 0h0m8.2 0h0m4.1 0h0m4.1 0h0m8.2 0h0m4.1 0h0m12.3 0h0m8.2 0h0m8.3 0h0m36.9 0h0m4.1 0h0m12.3 0h0m-260.6 3.6h0m12.3 0h0m8.2 0h0m4.1 0h0m4.1 0h0m123.1 0h0m4.2 0h0m8.2 0h0m12.3 0h0m4.1 0h0m8.2 0h0m12.3 0h0m16.4 0h0m28.7 0h0m-244.1 3.6h0m8.2 0h0m4.1 0h0m4.1 0h0m4.1 0h0m4.1 0h0m135.4 0h0m16.4 0h0m4.1 0h0m8.2 0h0m4.1 0h0m12.4 0h0m32.8 0h0m12.3 0h0m4.1 0h0m4.1 0h0m-256.5 3.5h0m4.1 0h0m4.1 0h0m4.1 0h0m4.1 0h0m4.1 0h0m4.1 0h0m4.1 0h0m61.6 0h0m69.8 0h0m8.2 0h0m12.3 0h0m16.4 0h0m12.3 0h0m4.1 0h0m8.2 0h0m8.2 0h0m-231.8 3.6h0m4.1 0h0m4.1 0h0m8.2 0h0m4.1 0h0m4.1 0h0m4.1 0h0m8.2 0h0m61.5 0h0m45.2 0h0m4.1 0h0m28.7 0h0m4.1 0h0m24.7 0h0m4.1 0h0m28.7 0h0m-240.1 3.6h0m4.1 0h0m4.1 0h0m4.1 0h0m4.1 0h0m8.2 0h0m4.1 0h0m143.7 0h0m8.2 0h0m8.2 0h0m8.2 0h0m-194.9 3.6h0m4.1 0h0m8.2 0h0m4.1 0h0m4.1 0h0m8.2 0h0m160 0h0m8.2 0h0m4.1 0h0m4.2 0h0m20.5 0h0m4.1 0h0m12.3 0h0m-240.1 3.5h0m4.1 0h0m8.2 0h0m4.1 0h0m4.1 0h0m4.1 0h0m151.9 0h0m8.2 0h0m4.1 0h0m-186.7 3.6h0m4.1 0h0m8.2 0h0m77.9 0h0m94.4 0h0m8.2 0h0m24.7 0h0m8.2 0h0m-43.1 3.6h0m4.1 0h0m8.2 0h0m28.7 0h0m4.1 0h0m4.1 0h0m-199 3.5h0m155.9 0h0m16.5 0h0m28.7 0h0m-174.4 3.6h0m127.2 0h0m20.5 0h0m4.1 0h0m-71.8 3.6h0m65.7 0h0m8.2 0h0m20.5 0h0m-10.3 3.6h0m4.1 0h0m12.3 0h0m4.1 0h0m-71.8 3.5h0m53.4 0h0m4.1 0h0m8.2 0h0m4.1 0h0m-100.6 3.6h0m86.2 0h0m4.1 0h0m4.1 0h0m4.1 0h0m4.1 0h0m-174.4 3.6h0m114.9 0h0m-182.6 3.5h0m65.7 0h0m4.1 0h0m162.1 3.6h0m-170.3 3.6h0m6.1 10.7h0m-75.9 3.6h0m57.5 0h0m61.5 0h0m8.2 0h0m-51.3 3.6h0m-67.7 3.5h0m106.7 0h0m-112.8 3.6h0m4.1 0h0m36.9 0h0m-39 3.6h0m4.1 0h0m119 0h0m-116.9 3.5h0m4.1 0h0m-6.2 3.6h0m4.1 0h0m-2 3.6h0m4.1 0h0m20.5 0h0m-18.5 3.6h0m225.7 0h0m-223.6 3.5h0m4.1 0h0m69.7 0h0m73.9 0h0m-145.7 3.6h0m4.1 0h0m-2 3.6h0m4.1 0h0m4.1 0h0m184.7 0h0m20.5 0h0m-207.3 3.5h0m-2 3.6h0m4.1 0h0m4.1 0h0m201.1 0h0m-207.3 3.6h0m4.1 0h0m4.1 0h0m-2 3.6h0m4.1 0h0m4.1 0h0m4.1 0h0m94.4 0h0m8.2 0h0m-117 3.5h0m8.2 0h0m4.1 0h0m4.1 0h0m106.8 0h0m28.7 0h0m-145.7 3.6h0m4.1 0h0m4.1 0h0m-10.3 10.7h0m12.3 0h0m32.9 0h0m-2.1 3.6h0m4.1 0h0m6.2 3.6h0m49.2 0h0m45.2 0h0m-92.4 10.7h0m4.1 0h0m-2 3.6h0m12.3 0h0m14.4 3.5h0m90.3 0h0m-80.1 3.6h0m82.1 0h0m-117 3.6h0m20.6 0h0m4.1 0h0m10.2 3.5h0m8.2 0h0m61.6 0h0m12.3 0h0m-84.1 3.6h0m8.2 0h0m4.1 0h0m57.4 0h0m-100.5 3.6h0m45.1 0h0m4.1 0h0m39 10.7h0m4.1 0h0" stroke="#58BD86" stroke-width="4.1"/><path d="M201.2 67.3h0m8.2 0h0m4.1 0h0m8.2 0h0m4.1 0h0m4.1 0h0m12.3 0h0m4.1 0h0m20.6 0h0m-71.9 3.6h0m4.1 0h0m4.1 0h0m4.1 0h0m4.1 0h0m8.3 0h0m4.1 0h0m12.3 0h0m4.1 0h0m4.1 0h0m8.2 0h0m4.1 0h0m8.2 0h0m4.1 0h0m-215.5 3.5h0m151.9 0h0m8.2 0h0m20.5 0h0m4.1 0h0m4.1 0h0m4.1 0h0m4.1 0h0m8.2 0h0m4.1 0h0m-227.7 3.6h0m12.3 0h0m164.1 0h0m4.2 0h0m4.1 0h0m4.1 0h0m12.3 0h0m4.1 0h0m8.2 0h0m4.1 0h0m4.1 0h0m4.1 0h0m8.2 0h0m-236 3.6h0m4.1 0h0m16.4 0h0m164.2 0h0m4.1 0h0m4.1 0h0m12.3 0h0m4.1 0h0m4.1 0h0m4.1 0h0m4.1 0h0m8.2 0h0m4.2 0h0m-231.9 3.6h0m16.4 0h0m168.3 0h0m4.1 0h0m4.1 0h0m4.1 0h0m12.3 0h0m4.1 0h0m4.1 0h0m4.1 0h0m4.1 0h0m4.1 0h0m-240.1 3.5h0m20.5 0h0m8.2 0h0m4.1 0h0m8.3 0h0m4.1 0h0m160 0h0m4.1 0h0m4.1 0h0m8.2 0h0m8.2 0h0m8.2 0h0m-231.8 3.6h0m8.2 0h0m4.1 0h0m4.1 0h0m8.2 0h0m28.7 0h0m4.1 0h0m139.6 0h0m4.1 0h0m8.2 0h0m4.1 0h0m4.1 0h0m4.1 0h0m4.1 0h0m8.2 0h0m4.1 0h0m-199 3.6h0m4.1 0h0m164.1 0h0m4.1 0h0m4.1 0h0m4.1 0h0m12.3 0h0m4.2 0h0m-231.9 3.5h0m24.6 0h0m12.3 0h0m4.1 0h0m4.1 0h0m8.2 0h0m4.1 0h0m151.9 0h0m4.1 0h0m4.1 0h0m4.1 0h0m8.2 0h0m-223.7 3.6h0m16.4 0h0m12.4 0h0m8.2 0h0m12.3 0h0m4.1 0h0m155.9 0h0m8.2 0h0m4.1 0h0m-223.6 3.6h0m4.1 0h0m8.2 0h0m4.1 0h0m16.4 0h0m8.2 0h0m4.1 0h0m4.1 0h0m16.4 0h0m160.1 0h0m-227.8 3.6h0m8.2 0h0m41.1 0h0m20.5 0h0m4.1 0h0m-71.8 3.5h0m4.1 0h0m8.2 0h0m8.2 0h0m8.2 0h0m28.7 0h0m8.2 0h0m4.1 0h0m12.4 0h0m-84.2 3.6h0m4.1 0h0m45.2 0h0m24.6 0h0m4.1 0h0m-47.2 3.6h0m4.1 0h0m20.5 0h0m4.1 0h0m12.3 0h0m8.3 0h0m12.3 0h0m4.1 0h0m-92.4 3.6h0m12.3 0h0m4.1 0h0m24.7 0h0m4.1 0h0m12.3 0h0m4.1 0h0m4.1 0h0m20.5 0h0m4.1 0h0m-84.1 3.5h0m12.3 0h0m4.1 0h0m28.7 0h0m4.1 0h0m24.7 0h0m4.1 0h0m20.5 0h0m-104.7 3.6h0m4.1 0h0m8.2 0h0m8.3 0h0m20.5 0h0m8.2 0h0m8.2 0h0m16.4 0h0m4.1 0h0m24.6 0h0m-96.4 3.6h0m8.2 0h0m4.1 0h0m41 0h0m8.2 0h0m4.2 0h0m8.2 0h0m12.3 0h0m4.1 0h0m8.2 0h0m4.1 0h0m8.2 0h0m-112.9 3.5h0m16.5 0h0m4.1 0h0m4.1 0h0m36.9 0h0m4.1 0h0m24.6 0h0m4.1 0h0m4.1 0h0m8.2 0h0m-96.4 3.6h0m12.3 0h0m49.3 0h0m4.1 0h0m12.3 0h0m4.1 0h0m-75.9 3.6h0m8.2 0h0m4.1 0h0m24.6 0h0m32.8 0h0m20.5 0h0m4.1 0h0m4.1 0h0m12.4 0h0m4.1 0h0m-125.2 3.6h0m4.1 0h0m8.2 0h0m8.2 0h0m4.1 0h0m8.2 0h0m4.1 0h0m8.2 0h0m20.6 0h0m4.1 0h0m16.4 0h0m20.5 0h0m4.1 0h0m8.2 0h0m-121.1 3.5h0m8.2 0h0m16.5 0h0m28.7 0h0m4.1 0h0m4.1 0h0m4.1 0h0m4.1 0h0m8.2 0h0m4.1 0h0m4.1 0h0m4.1 0h0m4.1 0h0m4.1 0h0m4.1 0h0m4.1 0h0m8.3 0h0m16.4 0h0m28.7 0h0m4.1 0h0m-170.3 3.6h0m4.1 0h0m4.1 0h0m8.2 0h0m4.1 0h0m8.2 0h0m41.1 0h0m4.1 0h0m12.3 0h0m24.6 0h0m8.2 0h0m4.1 0h0m12.3 0h0m-170.3 3.6h0m12.3 0h0m4.1 0h0m4.1 0h0m24.6 0h0m8.3 0h0m28.7 0h0m8.2 0h0m4.1 0h0m4.1 0h0m4.1 0h0m4.1 0h0m4.1 0h0m8.2 0h0m8.2 0h0m4.1 0h0m4.1 0h0m20.6 0h0m4.1 0h0m4.1 0h0m4.1 0h0m4.1 0h0m12.3 0h0m20.5 0h0m-199 3.5h0m45.1 0h0m16.4 0h0m12.3 0h0m8.2 0h0m20.6 0h0m8.2 0h0m12.3 0h0m4.1 0h0m24.6 0h0m8.2 0h0m8.2 0h0m16.4 0h0m12.3 0h0m4.2 0h0m-153.9 3.6h0m4.1 0h0m12.3 0h0m8.2 0h0m4.1 0h0m4.1 0h0m12.3 0h0m4.1 0h0m12.3 0h0m12.3 0h0m8.2 0h0m8.2 0h0m8.2 0h0m8.3 0h0m4.1 0h0m4.1 0h0m8.2 0h0m4.1 0h0m24.6 0h0m-129.3 3.6h0m4.1 0h0m8.2 0h0m8.2 0h0m4.1 0h0m20.6 0h0m8.2 0h0m4.1 0h0m4.1 0h0m20.5 0h0m4.1 0h0m12.3 0h0m8.2 0h0m8.2 0h0m4.1 0h0m4.1 0h0m28.8 0h0m-141.6 3.6h0m20.5 0h0m12.3 0h0m4.1 0h0m32.9 0h0m8.2 0h0m8.2 0h0m8.2 0h0m-100.6 3.5h0m20.5 0h0m16.5 0h0m12.3 0h0m4.1 0h0m4.1 0h0m36.9 0h0m32.9 0h0m12.3 0h0m-219.6 3.6h0m73.9 0h0m20.5 0h0m16.4 0h0m4.1 0h0m8.2 0h0m16.4 0h0m16.5 0h0m20.5 0h0m4.1 0h0m4.1 0h0m4.1 0h0m8.2 0h0m4.1 0h0m4.1 0h0m8.2 0h0m4.1 0h0m-125.2 3.6h0m28.8 0h0m8.2 0h0m8.2 0h0m4.1 0h0m4.1 0h0m4.1 0h0m4.1 0h0m8.2 0h0m8.2 0h0m4.1 0h0m4.1 0h0m45.2 0h0m8.2 0h0m-133.4 3.5h0m4.1 0h0m4.1 0h0m12.3 0h0m8.2 0h0m4.1 0h0m4.1 0h0m4.1 0h0m4.1 0h0m16.5 0h0m4.1 0h0m4.1 0h0m4.1 0h0m8.2 0h0m12.3 0h0m24.6 0h0m16.4 0h0m-133.4 3.6h0m4.2 0h0m8.2 0h0m16.4 0h0m8.2 0h0m4.1 0h0m20.5 0h0m12.3 0h0m41.1 0h0m8.2 0h0m4.1 0h0m4.1 0h0m12.3 0h0m-149.8 3.6h0m20.5 0h0m8.2 0h0m12.3 0h0m4.1 0h0m8.2 0h0m32.9 0h0m8.2 0h0m16.4 0h0m12.3 0h0m8.2 0h0m4.1 0h0m12.3 0h0m8.2 0h0m-133.3 3.6h0m20.5 0h0m8.2 0h0m4.1 0h0m20.5 0h0m20.5 0h0m4.1 0h0m4.1 0h0m16.5 0h0m8.2 0h0m4.1 0h0m4.1 0h0m8.2 0h0m8.2 0h0m-108.8 3.5h0m12.3 0h0m8.3 0h0m4.1 0h0m8.2 0h0m20.5 0h0m8.2 0h0m8.2 0h0m4.1 0h0m16.4 0h0m12.3 0h0m-137.4 3.6h0m24.6 0h0m12.3 0h0m4.1 0h0m4.1 0h0m4.1 0h0m12.3 0h0m4.1 0h0m4.1 0h0m8.2 0h0m4.1 0h0m4.1 0h0m4.1 0h0m4.1 0h0m8.3 0h0m4.1 0h0m4.1 0h0m24.6 0h0m-117 3.6h0m24.6 0h0m12.4 0h0m4.1 0h0m16.4 0h0m28.7 0h0m4.1 0h0m8.2 0h0m4.1 0h0m12.3 0h0m-96.4 3.6h0m12.3 0h0m8.2 0h0m12.3 0h0m4.1 0h0m8.2 0h0m16.4 0h0m12.4 0h0m8.2 0h0m4.1 0h0m4.1 0h0m-88.3 3.5h0m24.7 0h0m4.1 0h0m4.1 0h0m8.2 0h0m4.1 0h0m4.1 0h0m4.1 0h0m4.1 0h0m8.2 0h0m8.2 0h0m20.5 0h0m4.1 0h0m-96.4 3.6h0m8.2 0h0m20.5 0h0m20.5 0h0m12.4 0h0m8.2 0h0m8.2 0h0m24.6 0h0m-129.3 3.6h0m37 0h0m12.3 0h0m8.2 0h0m8.2 0h0m12.3 0h0m16.4 0h0m16.4 0h0m-100.5 3.5h0m16.4 0h0m12.3 0h0m20.5 0h0m4.1 0h0m4.1 0h0m8.2 0h0m12.4 0h0m16.4 0h0m4.1 0h0m-207.3 3.6h0m114.9 0h0m12.3 0h0m8.3 0h0m4.1 0h0m4.1 0h0m24.6 0h0m8.2 0h0m24.6 0h0m8.2 0h0m4.1 0h0m4.1 0h0m4.1 0h0m-67.7 3.6h0m20.5 0h0m4.1 0h0m4.1 0h0m12.4 0h0m4.1 0h0m20.5 0h0m4.1 0h0m-92.4 3.6h0m20.6 0h0m8.2 0h0m8.2 0h0m20.5 0h0m28.7 0h0m-80 3.5h0m4.1 0h0m24.6 0h0m8.2 0h0m8.2 0h0m4.2 0h0m8.2 0h0m20.5 0h0m-51.3 3.6h0m20.5 0h0m4.1 0h0m12.3 0h0m4.1 0h0m20.5 0h0m-43.1 3.6h0m4.2 0h0m24.6 0h0m-141.6 3.5h0m32.8 0h0m106.7 0h0m8.2 0h0m4.1 0h0m-39 3.6h0m4.2 0h0m8.2 0h0m16.4 0h0m-96.5 3.6h0m41.1 0h0m8.2 0h0m36.9 0h0m-137.5 3.6h0m110.8 0h0m8.2 0h0m16.5 0h0m-14.4 3.5h0m-18.5 3.6h0m24.7 0h0m-100.6 3.6h0m4.1 0h0m114.9 0h0m-10.2 3.5h0m-51.3 3.6h0m49.2 7.2h0m16.4 0h0m4.1 0h0m0 7.1h0m-67.7 10.7h0m-18.5 3.6h0m53.4 0h0m-30.8 3.6h0m-16.4 7.1h0m24.6 0h0m10.3 3.6h0m-6.2 3.6h0m-8.2 7.1h0m4.1 0h0" stroke="#7497D6" stroke-width="4.1"/><path d="M61.7 67.3h0m8.2 0h0m4.1 0h0m8.2 0h0m16.4 0h0m4.1 0h0m12.3 0h0m28.7 0h0m16.4 0h0m4.2 0h0m8.2 0h0m77.9 0h0m-178.5 3.6h0m4.1 0h0m8.2 0h0m4.1 0h0m8.2 0h0m4.1 0h0m8.2 0h0m24.7 0h0m24.6 0h0m16.4 0h0m4.1 0h0m8.2 0h0m4.1 0h0m-141.6 3.5h0m12.4 0h0m4.1 0h0m8.2 0h0m4.1 0h0m16.4 0h0m4.1 0h0m8.2 0h0m4.1 0h0m12.3 0h0m8.2 0h0m4.1 0h0m28.8 0h0m8.2 0h0m4.1 0h0m12.3 0h0m4.1 0h0m36.9 0h0m24.6 0h0m12.4 0h0m-199.1 3.6h0m4.1 0h0m8.2 0h0m8.2 0h0m4.1 0h0m16.4 0h0m20.6 0h0m12.3 0h0m4.1 0h0m12.3 0h0m4.1 0h0m4.1 0h0m4.1 0h0m8.2 0h0m12.3 0h0m12.3 0h0m-145.7 3.6h0m4.2 0h0m4.1 0h0m16.4 0h0m4.1 0h0m4.1 0h0m4.1 0h0m16.4 0h0m4.1 0h0m4.1 0h0m4.1 0h0m4.1 0h0m4.1 0h0m4.1 0h0m24.6 0h0m24.7 0h0m4.1 0h0m4.1 0h0m8.2 0h0m57.4 0h0m-190.8 3.6h0m32.8 0h0m28.8 0h0m16.4 0h0m4.1 0h0m8.2 0h0m4.1 0h0m8.2 0h0m12.3 0h0m4.1 0h0m4.1 0h0m8.2 0h0m4.1 0h0m8.2 0h0m28.8 0h0m-162.1 3.5h0m20.5 0h0m8.2 0h0m8.2 0h0m8.2 0h0m16.4 0h0m8.2 0h0m4.1 0h0m4.1 0h0m8.3 0h0m12.3 0h0m4.1 0h0m16.4 0h0m8.2 0h0m4.1 0h0m8.2 0h0m-121.1 3.6h0m16.5 0h0m28.7 0h0m8.2 0h0m24.6 0h0m4.1 0h0m16.4 0h0m4.1 0h0m12.3 0h0m24.7 0h0m-199.1 3.6h0m61.6 0h0m4.1 0h0m12.3 0h0m36.9 0h0m20.6 0h0m8.2 0h0m16.4 0h0m4.1 0h0m8.2 0h0m12.3 0h0m4.1 0h0m4.1 0h0m4.1 0h0m24.6 0h0m-149.8 3.5h0m12.4 0h0m12.3 0h0m4.1 0h0m4.1 0h0m4.1 0h0m4.1 0h0m12.3 0h0m16.4 0h0m24.6 0h0m12.4 0h0m8.2 0h0m4.1 0h0m4.1 0h0m-117 3.6h0m4.1 0h0m8.2 0h0m4.1 0h0m4.1 0h0m12.3 0h0m4.1 0h0m12.4 0h0m4.1 0h0m8.2 0h0m16.4 0h0m4.1 0h0m8.2 0h0m4.1 0h0m20.5 0h0m4.1 0h0m4.1 0h0m16.4 0h0m-125.1 3.6h0m12.3 0h0m16.4 0h0m8.2 0h0m4.1 0h0m8.2 0h0m8.2 0h0m8.2 0h0m4.1 0h0m8.2 0h0m8.3 0h0m4.1 0h0m4.1 0h0m4.1 0h0m8.2 0h0m8.2 0h0m4.1 0h0m-129.3 3.6h0m16.4 0h0m4.1 0h0m8.2 0h0m4.1 0h0m32.9 0h0m4.1 0h0m4.1 0h0m8.2 0h0m8.2 0h0m4.1 0h0m8.2 0h0m4.1 0h0m4.1 0h0m4.1 0h0m8.2 0h0m8.2 0h0m4.1 0h0m8.2 0h0m4.2 0h0m-141.6 3.5h0m4.1 0h0m4.1 0h0m8.2 0h0m4.1 0h0m16.4 0h0m16.4 0h0m24.6 0h0m4.1 0h0m4.1 0h0m12.4 0h0m8.2 0h0m4.1 0h0m8.2 0h0m4.1 0h0m12.3 0h0m4.1 0h0m4.1 0h0m-162.1 3.6h0m24.6 0h0m12.3 0h0m8.2 0h0m8.2 0h0m8.3 0h0m4.1 0h0m4.1 0h0m4.1 0h0m4.1 0h0m4.1 0h0m12.3 0h0m8.2 0h0m4.1 0h0m4.1 0h0m4.1 0h0m4.1 0h0m4.1 0h0m4.1 0h0m4.1 0h0m8.2 0h0m4.1 0h0m12.3 0h0m-116.9 3.6h0m32.8 0h0m4.1 0h0m8.2 0h0m4.1 0h0m4.1 0h0m4.1 0h0m4.1 0h0m4.1 0h0m8.3 0h0m4.1 0h0m4.1 0h0m8.2 0h0m4.1 0h0m4.1 0h0m4.1 0h0m4.1 0h0m4.1 0h0m4.1 0h0m4.1 0h0m4.1 0h0m-112.9 3.6h0m4.1 0h0m8.3 0h0m4.1 0h0m4.1 0h0m8.2 0h0m12.3 0h0m4.1 0h0m4.1 0h0m4.1 0h0m4.1 0h0m4.1 0h0m4.1 0h0m12.3 0h0m4.1 0h0m4.1 0h0m4.1 0h0m4.1 0h0m8.2 0h0m-96.4 3.5h0m28.7 0h0m4.1 0h0m8.2 0h0m8.2 0h0m8.3 0h0m4.1 0h0m4.1 0h0m4.1 0h0m4.1 0h0m4.1 0h0m8.2 0h0m12.3 0h0m4.1 0h0m-96.4 3.6h0m8.2 0h0m24.6 0h0m4.1 0h0m8.2 0h0m4.1 0h0m4.1 0h0m8.2 0h0m8.2 0h0m4.1 0h0m8.2 0h0m8.2 0h0m4.1 0h0m4.2 0h0m-174.5 3.6h0m82.1 0h0m20.5 0h0m12.3 0h0m4.1 0h0m8.3 0h0m4.1 0h0m4.1 0h0m4.1 0h0m8.2 0h0m4.1 0h0m8.2 0h0m4.1 0h0m-71.8 3.5h0m4.1 0h0m8.2 0h0m4.1 0h0m4.1 0h0m8.2 0h0m4.1 0h0m12.3 0h0m8.2 0h0m8.2 0h0m4.1 0h0m4.1 0h0m4.1 0h0m8.3 0h0m-88.3 3.6h0m4.1 0h0m12.3 0h0m4.1 0h0m4.1 0h0m4.1 0h0m4.1 0h0m12.4 0h0m4.1 0h0m4.1 0h0m4.1 0h0m4.1 0h0m4.1 0h0m8.2 0h0m4.1 0h0m4.1 0h0m4.1 0h0m4.1 0h0m-84.1 3.6h0m8.2 0h0m8.2 0h0m8.2 0h0m4.1 0h0m4.1 0h0m4.1 0h0m4.1 0h0m4.1 0h0m4.1 0h0m4.1 0h0m4.1 0h0m4.1 0h0m4.1 0h0m4.1 0h0m8.2 0h0m4.2 0h0m-162.2 3.6h0m78 0h0m4.1 0h0m8.2 0h0m8.2 0h0m16.5 0h0m4.1 0h0m4.1 0h0m4.1 0h0m12.3 0h0m4.1 0h0m8.2 0h0m-63.6 3.5h0m24.6 0h0m4.1 0h0m4.1 0h0m4.1 0h0m4.1 0h0m4.1 0h0m4.1 0h0m8.2 0h0m4.1 0h0m-71.8 3.6h0m8.2 0h0m12.3 0h0m8.2 0h0m4.2 0h0m4.1 0h0m8.2 0h0m8.2 0h0m8.2 0h0m8.2 0h0m4.1 0h0m-96.5 3.6h0m45.2 0h0m20.5 0h0m4.1 0h0m4.1 0h0m16.4 0h0m4.1 0h0m-30.7 3.5h0m4.1 0h0m4.1 0h0m4.1 0h0m4.1 0h0m4.1 0h0m8.2 0h0m4.1 0h0m-47.2 3.6h0m8.2 0h0m12.3 0h0m4.1 0h0m4.1 0h0m8.2 0h0m4.1 0h0m4.1 0h0m4.1 0h0m-219.5 3.6h0m172.3 0h0m12.4 0h0m8.2 0h0m20.5 0h0m4.1 0h0m-199.1 3.6h0m49.3 0h0m98.5 0h0m8.2 0h0m8.2 0h0m4.1 0h0m8.2 0h0m16.4 0h0m-71.8 3.5h0m53.4 0h0m4.1 0h0m12.3 0h0m-14.4 3.6h0m-207.2 3.6h0m217.5 0h0m4.1 0h0m4.1 0h0m4.1 0h0m-63.6 3.5h0m45.1 0h0m12.3 0h0m4.1 0h0m-235.9 10.8h0m-6.2 10.7h0m36.9 0h0m57.5 0h0m-84.1 3.6h0m55.4 3.5h0m-45.2 7.2h0m37 0h0m12.3 7.1h0m28.7 0h0m121.1 3.6h0m-135.5 7.1h0m16.5 0h0m10.2 3.6h0m-51.3 3.6h0m43.1 3.5h0m-18.5 3.6h0m12.3 0h0m119.1 0h0m-80.1 17.9h0m-71.8 3.5h0m100.6 17.9h0m8.2 28.6h0m41 0h0m-65.7 7.1h0" stroke="#DCD6DD" stroke-width="4.1"/><path d="M57.5 67.3h0m96.5 3.6h0m78 0h0m-22.6 3.5h0m-170.3 3.6h0m10.2 3.6h0m-18.4 3.6h0m28.7 0h0m2.1 3.5h0m205.2 0h0m-6.2 3.6h0m-219.6 3.6h0m65.7 0h0m20.5 0h0m78 0h0m12.3 0h0m43.1 3.5h0m-207.3 3.6h0m-38.9 3.6h0m77.9 0h0m119 0h0m-178.5 10.7h0m209.3 0h0m-190.8 3.6h0m73.9 0h0m90.3 0h0m38.9 3.6h0m8.2 0h0m-190.8 3.5h0m-55.4 3.6h0m78 0h0m86.2 0h0m65.6 0h0m-231.8 3.6h0m73.8 0h0m16.4 0h0m-14.3 3.5h0m4.1 0h0m69.8 0h0m-71.9 3.6h0m49.3 0h0m-112.9 3.6h0m82.1 0h0m24.6 0h0m55.4 3.6h0m-92.3 3.5h0m147.7 0h0m-223.6 3.6h0m8.2 0h0m4.1 0h0m114.9 0h0m-133.4 3.6h0m32.8 0h0m8.2 0h0m73.9 0h0m-96.4 3.5h0m4.1 0h0m69.7 0h0m41.1 0h0m4.1 0h0m36.9 0h0m-182.6 3.6h0m4.1 0h0m4.1 0h0m12.3 0h0m4.1 0h0m4.1 0h0m12.3 0h0m4.1 0h0m-34.8 3.6h0m4.1 0h0m12.3 0h0m20.5 0h0m12.3 0h0m4.1 0h0m8.2 0h0m12.3 0h0m32.9 0h0m32.8 0h0m-145.7 3.6h0m4.1 0h0m4.1 0h0m4.1 0h0m4.1 0h0m8.2 0h0m24.7 0h0m12.3 0h0m4.1 0h0m-67.7 3.5h0m12.3 0h0m20.5 0h0m4.1 0h0m4.1 0h0m4.1 0h0m4.1 0h0m32.8 0h0m12.3 0h0m24.7 0h0m-117 3.6h0m4.1 0h0m4.1 0h0m8.2 0h0m16.4 0h0m8.2 0h0m61.6 0h0m20.5 0h0m-116.9 3.6h0m4.1 0h0m12.3 0h0m4.1 0h0m24.6 0h0m24.6 0h0m4.1 0h0m4.1 0h0m98.5 0h0m20.6 0h0m-203.2 3.5h0m16.4 0h0m4.1 0h0m4.1 0h0m8.2 0h0m4.1 0h0m4.1 0h0m8.3 0h0m36.9 0h0m131.3 0h0m-215.4 3.6h0m4.1 0h0m4.1 0h0m20.5 0h0m4.1 0h0m4.1 0h0m4.1 0h0m24.6 0h0m20.5 0h0m94.4 0h0m-182.6 3.6h0m4.1 0h0m4.1 0h0m16.4 0h0m8.2 0h0m24.7 0h0m28.7 0h0m8.2 0h0m4.1 0h0m4.1 0h0m45.1 0h0m86.2 0h0m-235.9 3.6h0m4.1 0h0m8.2 0h0m4.1 0h0m4.1 0h0m4.1 0h0m4.1 0h0m12.3 0h0m12.3 0h0m4.1 0h0m12.3 0h0m12.3 0h0m8.2 0h0m12.4 0h0m16.4 0h0m36.9 0h0m20.5 0h0m32.9 0h0m-211.4 3.5h0m4.1 0h0m4.1 0h0m4.1 0h0m4.1 0h0m4.1 0h0m4.1 0h0m16.4 0h0m8.2 0h0m12.4 0h0m8.2 0h0m20.5 0h0m16.4 0h0m4.1 0h0m4.1 0h0m90.3 0h0m-203.1 3.6h0m4.1 0h0m16.4 0h0m20.5 0h0m4.1 0h0m8.2 0h0m12.3 0h0m4.1 0h0m8.2 0h0m8.2 0h0m8.2 0h0m4.1 0h0m8.3 0h0m12.3 0h0m98.5 0h0m28.7 0h0m-236 3.6h0m4.1 0h0m8.2 0h0m4.1 0h0m8.2 0h0m12.3 0h0m4.2 0h0m8.2 0h0m8.2 0h0m4.1 0h0m4.1 0h0m4.1 0h0m20.5 0h0m8.2 0h0m-108.7 3.6h0m4.1 0h0m12.3 0h0m4.1 0h0m4.1 0h0m4.1 0h0m8.2 0h0m4.1 0h0m8.2 0h0m16.4 0h0m4.1 0h0m8.2 0h0m8.2 0h0m12.3 0h0m8.3 0h0m8.2 0h0m82 0h0m20.6 0h0m24.6 0h0m-244.2 3.5h0m4.1 0h0m12.3 0h0m8.2 0h0m8.2 0h0m4.1 0h0m8.2 0h0m4.1 0h0m8.3 0h0m4.1 0h0m4.1 0h0m16.4 0h0m4.1 0h0m4.1 0h0m12.3 0h0m4.1 0h0m16.4 0h0m4.1 0h0m4.1 0h0m90.3 0h0m-207.2 3.6h0m4.1 0h0m4.1 0h0m4.1 0h0m4.1 0h0m4.1 0h0m12.3 0h0m20.5 0h0m8.2 0h0m4.1 0h0m4.1 0h0m8.2 0h0m16.5 0h0m4.1 0h0m8.2 0h0m65.6 0h0m32.9 0h0m8.2 0h0m-207.3 3.6h0m12.3 0h0m8.2 0h0m4.1 0h0m4.1 0h0m4.2 0h0m4.1 0h0m12.3 0h0m4.1 0h0m4.1 0h0m16.4 0h0m8.2 0h0m4.1 0h0m4.1 0h0m12.3 0h0m24.6 0h0m4.1 0h0m41.1 0h0m49.2 0h0m-235.9 3.5h0m20.5 0h0m4.1 0h0m4.1 0h0m12.3 0h0m4.1 0h0m8.2 0h0m4.1 0h0m16.4 0h0m4.1 0h0m8.2 0h0m12.4 0h0m4.1 0h0m28.7 0h0m4.1 0h0m49.2 0h0m-149.8 3.6h0m16.5 0h0m8.2 0h0m12.3 0h0m4.1 0h0m16.4 0h0m24.6 0h0m4.1 0h0m4.1 0h0m8.2 0h0m-121 3.6h0m4.1 0h0m16.4 0h0m12.3 0h0m8.2 0h0m4.1 0h0m4.1 0h0m4.1 0h0m8.2 0h0m8.2 0h0m32.9 0h0m12.3 0h0m73.9 0h0m4.1 0h0m20.5 0h0m-219.6 3.6h0m8.2 0h0m4.1 0h0m8.2 0h0m8.2 0h0m4.1 0h0m4.1 0h0m4.2 0h0m8.2 0h0m4.1 0h0m8.2 0h0m4.1 0h0m8.2 0h0m4.1 0h0m4.1 0h0m4.1 0h0m8.2 0h0m4.1 0h0m4.1 0h0m8.2 0h0m16.4 0h0m16.5 0h0m-129.3 3.5h0m12.3 0h0m4.1 0h0m4.1 0h0m4.1 0h0m4.1 0h0m8.2 0h0m8.2 0h0m8.2 0h0m4.1 0h0m12.3 0h0m16.5 0h0m28.7 0h0m4.1 0h0m82.1 0h0m-199.1 3.6h0m8.2 0h0m12.3 0h0m4.2 0h0m4.1 0h0m4.1 0h0m4.1 0h0m12.3 0h0m4.1 0h0m4.1 0h0m12.3 0h0m8.2 0h0m12.3 0h0m8.2 0h0m4.1 0h0m4.1 0h0m16.4 0h0m4.2 0h0m41 0h0m-158 3.6h0m4.1 0h0m4.1 0h0m4.1 0h0m4.1 0h0m4.1 0h0m8.2 0h0m8.2 0h0m24.6 0h0m4.2 0h0m16.4 0h0m4.1 0h0m24.6 0h0m36.9 0h0m32.9 0h0m-195 3.5h0m12.3 0h0m8.2 0h0m4.1 0h0m12.4 0h0m16.4 0h0m4.1 0h0m4.1 0h0m16.4 0h0m8.2 0h0m4.1 0h0m24.6 0h0m4.1 0h0m4.1 0h0m16.5 0h0m20.5 0h0m4.1 0h0m12.3 0h0m-162.1 3.6h0m8.2 0h0m4.1 0h0m4.1 0h0m8.2 0h0m4.1 0h0m28.7 0h0m12.4 0h0m12.3 0h0m4.1 0h0m4.1 0h0m8.2 0h0m4.1 0h0m28.7 0h0m12.3 0h0m4.1 0h0m12.3 0h0m12.4 0h0m12.3 0h0m-182.7 3.6h0m4.1 0h0m4.1 0h0m4.2 0h0m4.1 0h0m4.1 0h0m8.2 0h0m4.1 0h0m4.1 0h0m4.1 0h0m8.2 0h0m8.2 0h0m4.1 0h0m4.1 0h0m4.1 0h0m8.2 0h0m8.2 0h0m4.1 0h0m49.3 0h0m8.2 0h0m-158 3.6h0m24.6 0h0m4.1 0h0m4.1 0h0m8.2 0h0m4.1 0h0m4.1 0h0m8.2 0h0m4.1 0h0m4.1 0h0m4.1 0h0m4.2 0h0m4.1 0h0m4.1 0h0m16.4 0h0m8.2 0h0m16.4 0h0m8.2 0h0m28.7 0h0m-153.9 3.5h0m16.5 0h0m4.1 0h0m16.4 0h0m4.1 0h0m8.2 0h0m4.1 0h0m12.3 0h0m8.2 0h0m4.1 0h0m4.1 0h0m12.3 0h0m4.1 0h0m4.1 0h0m4.1 0h0m53.4 0h0m36.9 0h0m8.2 0h0m-190.8 3.6h0m8.2 0h0m4.1 0h0m8.2 0h0m8.2 0h0m8.2 0h0m8.2 0h0m4.1 0h0m4.2 0h0m4.1 0h0m8.2 0h0m4.1 0h0m8.2 0h0m8.2 0h0m24.6 0h0m57.5 0h0m4.1 0h0m-190.9 3.6h0m4.1 0h0m8.2 0h0m8.3 0h0m4.1 0h0m12.3 0h0m8.2 0h0m4.1 0h0m4.1 0h0m4.1 0h0m4.1 0h0m4.1 0h0m28.7 0h0m8.2 0h0m24.7 0h0m16.4 0h0m57.4 0h0m4.1 0h0m-178.5 3.5h0m16.4 0h0m4.1 0h0m16.4 0h0m4.1 0h0m4.2 0h0m4.1 0h0m4.1 0h0m4.1 0h0m4.1 0h0m4.1 0h0m4.1 0h0m12.3 0h0m16.4 0h0m4.1 0h0m8.2 0h0m8.2 0h0m57.5 0h0m8.2 0h0m-182.6 3.6h0m4.1 0h0m4.1 0h0m4.1 0h0m4.1 0h0m16.4 0h0m4.1 0h0m4.1 0h0m4.1 0h0m4.1 0h0m20.5 0h0m28.8 0h0m20.5 0h0m8.2 0h0m8.2 0h0m12.3 0h0m4.1 0h0m4.1 0h0m12.3 0h0m4.1 0h0m4.1 0h0m-194.9 3.6h0m4.1 0h0m20.5 0h0m4.1 0h0m20.5 0h0m4.1 0h0m4.1 0h0m4.2 0h0m4.1 0h0m4.1 0h0m4.1 0h0m4.1 0h0m4.1 0h0m4.1 0h0m8.2 0h0m4.1 0h0m-84.1 3.6h0m16.4 0h0m12.3 0h0m8.2 0h0m4.1 0h0m8.2 0h0m4.1 0h0m4.1 0h0m16.4 0h0m4.1 0h0m16.4 0h0m8.3 0h0m16.4 0h0m-92.4 3.5h0m4.1 0h0m4.1 0h0m8.2 0h0m16.5 0h0m12.3 0h0m12.3 0h0m12.3 0h0m20.5 0h0m8.2 0h0m20.5 0h0m4.2 0h0m24.6 0h0m4.1 0h0m-182.6 3.6h0m41 0h0m8.2 0h0m4.1 0h0m8.2 0h0m12.3 0h0m8.2 0h0m16.4 0h0m45.2 0h0m24.6 0h0m4.1 0h0m8.2 0h0m-182.6 3.6h0m49.2 0h0m4.2 0h0m16.4 0h0m8.2 0h0m4.1 0h0m4.1 0h0m4.1 0h0m36.9 0h0m4.1 0h0m8.2 0h0m8.2 0h0m8.3 0h0m12.3 0h0m24.6 0h0m-145.7 3.6h0m36.9 0h0m4.1 0h0m28.8 0h0m20.5 0h0m41 0h0m-145.7 3.5h0m24.7 0h0m20.5 0h0m4.1 0h0m8.2 0h0m24.6 0h0m20.5 0h0m4.1 0h0m16.5 0h0m12.3 0h0m8.2 0h0m-170.3 3.6h0m57.4 0h0m4.1 0h0m4.1 0h0m4.1 0h0m12.3 0h0m8.2 0h0m12.4 0h0m4.1 0h0m12.3 0h0m4.1 0h0m28.7 0h0m8.2 0h0m8.2 0h0m-137.5 3.6h0m24.7 0h0m28.7 0h0m36.9 0h0m53.4 0h0m-129.3 3.5h0m12.3 0h0m36.9 0h0m4.2 0h0m4.1 0h0m28.7 0h0m4.1 0h0m-71.8 3.6h0m4.1 0h0m8.2 0h0m32.8 0h0m8.2 0h0m-100.5 3.6h0m32.8 0h0m20.5 0h0m4.1 0h0m24.7 0h0m4.1 0h0m20.5 0h0m-67.7 3.6h0m12.3 0h0m4.1 0h0m4.1 0h0m8.2 0h0m41 0h0m20.5 0h0m-88.2 3.5h0m4.1 0h0m12.3 0h0m4.1 0h0m4.1 0h0m8.2 0h0m8.3 0h0m45.1 0h0m4.1 0h0m4.1 0h0m-88.2 3.6h0m16.4 0h0m8.2 0h0m4.1 0h0m12.3 0h0m4.1 0h0m-39 3.6h0m4.1 0h0m8.2 0h0m28.8 0h0" stroke="#65149C" stroke-width="4.1"/></g></g><g transform="translate(1553,168)"><use href="#tb"/><g fill="none" stroke-linecap="round"><path d="M37 67.3h0m4.1 0h0m8.2 0h0m4.1 0h0m4.1 0h0m8.3 0h0m4.1 0h0m4.1 0h0m4.1 0h0m4.1 0h0m8.2 0h0m4.1 0h0m4.1 0h0m4.1 0h0m12.3 0h0m8.2 0h0m4.1 0h0m24.6 0h0m12.4 0h0m20.5 0h0m4.1 0h0m-145.7 3.6h0m4.1 0h0m8.2 0h0m4.1 0h0m8.2 0h0m12.3 0h0m24.6 0h0m4.1 0h0m4.2 0h0m4.1 0h0m8.2 0h0m4.1 0h0m4.1 0h0m12.3 0h0m12.3 0h0m20.5 0h0m4.1 0h0m8.2 0h0m-149.8 3.5h0m8.2 0h0m20.6 0h0m16.4 0h0m8.2 0h0m4.1 0h0m4.1 0h0m8.2 0h0m4.1 0h0m12.3 0h0m61.6 0h0m4.1 0h0m-88.3 3.6h0m4.1 0h0m4.2 0h0m8.2 0h0m4.1 0h0m4.1 0h0m4.1 0h0m20.5 0h0m8.2 0h0m12.3 0h0m12.3 0h0m4.1 0h0m8.2 0h0m4.1 0h0m-96.4 3.6h0m8.2 0h0m4.1 0h0m4.1 0h0m8.2 0h0m8.2 0h0m24.7 0h0m24.6 0h0m4.1 0h0m4.1 0h0m8.2 0h0m-158 3.6h0m28.7 0h0m24.6 0h0m8.2 0h0m4.2 0h0m4.1 0h0m4.1 0h0m4.1 0h0m8.2 0h0m4.1 0h0m32.8 0h0m12.3 0h0m12.3 0h0m4.1 0h0m4.1 0h0m4.1 0h0m4.1 0h0m-166.2 3.5h0m41.1 0h0m32.8 0h0m8.2 0h0m4.1 0h0m4.1 0h0m4.1 0h0m4.1 0h0m28.8 0h0m20.5 0h0m4.1 0h0m4.1 0h0m4.1 0h0m4.1 0h0m4.1 0h0m-190.8 3.6h0m98.5 0h0m8.2 0h0m4.1 0h0m8.2 0h0m4.1 0h0m24.6 0h0m16.4 0h0m4.1 0h0m4.1 0h0m8.2 0h0m4.1 0h0m4.1 0h0m4.2 0h0m8.2 0h0m-96.5 3.6h0m4.1 0h0m8.2 0h0m4.1 0h0m41.1 0h0m20.5 0h0m4.1 0h0m8.2 0h0m4.1 0h0m8.2 0h0m-104.6 3.5h0m4.1 0h0m4.1 0h0m4.1 0h0m20.5 0h0m8.2 0h0m41 0h0m4.1 0h0m4.2 0h0m4.1 0h0m-96.5 3.6h0m4.1 0h0m12.3 0h0m4.1 0h0m4.1 0h0m32.9 0h0m20.5 0h0m4.1 0h0m12.3 0h0m4.1 0h0m4.1 0h0m24.6 0h0m-186.7 3.6h0m73.9 0h0m16.4 0h0m4.1 0h0m4.1 0h0m16.4 0h0m12.3 0h0m24.7 0h0m4.1 0h0m4.1 0h0m8.2 0h0m-96.5 3.6h0m8.2 0h0m4.1 0h0m8.2 0h0m32.9 0h0m16.4 0h0m8.2 0h0m4.1 0h0m4.1 0h0m4.1 0h0m8.2 0h0m4.1 0h0m-149.8 3.5h0m49.3 0h0m4.1 0h0m8.2 0h0m4.1 0h0m4.1 0h0m4.1 0h0m20.5 0h0m16.4 0h0m8.2 0h0m12.4 0h0m4.1 0h0m4.1 0h0m4.1 0h0m12.3 0h0m4.1 0h0m4.1 0h0m4.1 0h0m4.1 0h0m8.2 0h0m-117 3.6h0m4.1 0h0m69.8 0h0m4.1 0h0m4.1 0h0m12.3 0h0m8.2 0h0m4.1 0h0m8.3 0h0m-153.9 3.6h0m41 0h0m16.4 0h0m12.3 0h0m28.7 0h0m4.2 0h0m4.1 0h0m12.3 0h0m4.1 0h0m8.2 0h0m4.1 0h0m4.1 0h0m8.2 0h0m-236 3.6h0m65.7 0h0m65.6 0h0m4.1 0h0m4.2 0h0m4.1 0h0m4.1 0h0m16.4 0h0m4.1 0h0m36.9 0h0m4.1 0h0m4.1 0h0m12.3 0h0m4.1 0h0m8.2 0h0m-149.7 3.5h0m32.8 0h0m12.3 0h0m12.3 0h0m4.1 0h0m4.1 0h0m8.2 0h0m4.1 0h0m20.5 0h0m8.3 0h0m4.1 0h0m32.8 0h0m-88.2 3.6h0m4.1 0h0m8.2 0h0m4.1 0h0m12.3 0h0m28.7 0h0m28.7 0h0m-92.3 3.6h0m8.2 0h0m8.2 0h0m4.1 0h0m4.1 0h0m8.2 0h0m8.2 0h0m4.1 0h0m28.8 0h0m12.3 0h0m8.2 0h0m-240.1 3.5h0m127.2 0h0m28.8 0h0m8.2 0h0m4.1 0h0m8.2 0h0m4.1 0h0m4.1 0h0m32.8 0h0m20.5 0h0m4.1 0h0m4.1 0h0m-100.5 3.6h0m8.2 0h0m12.3 0h0m8.2 0h0m4.1 0h0m4.1 0h0m4.1 0h0m4.1 0h0m4.1 0h0m4.2 0h0m4.1 0h0m41 0h0m4.1 0h0m-80 3.6h0m4.1 0h0m4.1 0h0m12.3 0h0m4.1 0h0m8.2 0h0m8.2 0h0m8.2 0h0m4.1 0h0m8.2 0h0m12.3 0h0m8.3 0h0m-92.4 3.6h0m8.2 0h0m4.1 0h0m4.1 0h0m4.1 0h0m4.1 0h0m8.2 0h0m4.1 0h0m4.2 0h0m4.1 0h0m4.1 0h0m4.1 0h0m8.2 0h0m4.1 0h0m8.2 0h0m4.1 0h0m4.1 0h0m-59.5 3.5h0m4.1 0h0m4.1 0h0m4.1 0h0m8.2 0h0m8.2 0h0m4.1 0h0m4.1 0h0m8.2 0h0m4.1 0h0m4.1 0h0m4.1 0h0m-80 3.6h0m16.4 0h0m12.3 0h0m4.1 0h0m8.3 0h0m8.2 0h0m4.1 0h0m4.1 0h0m16.4 0h0m-30.8 3.6h0m4.1 0h0m4.1 0h0m4.1 0h0m8.2 0h0m4.1 0h0m4.1 0h0m8.2 0h0m-227.7 3.5h0m49.2 0h0m127.2 0h0m20.6 0h0m12.3 0h0m4.1 0h0m12.3 0h0m4.1 0h0m-219.6 3.6h0m24.7 0h0m61.5 0h0m94.4 0h0m8.2 0h0m4.1 0h0m4.1 0h0m8.2 0h0m8.2 0h0m4.1 0h0m4.1 0h0m-219.5 3.6h0m4.1 0h0m20.5 0h0m41 0h0m135.5 0h0m4.1 0h0m8.2 0h0m4.1 0h0m-199.1 3.6h0m45.2 0h0m139.5 0h0m4.1 0h0m4.1 0h0m4.1 0h0m4.1 0h0m-240 3.5h0m238 0h0m-178.5 3.6h0m-63.6 3.6h0m2 3.5h0m114.9 0h0m69.8 0h0m4.1 0h0m-125.2 3.6h0m49.3 0h0m32.8 0h0m-92.3 3.6h0m41 0h0m8.2 0h0m90.3 0h0m28.7 0h0m8.2 0h0m-207.2 3.6h0m36.9 0h0m45.2 0h0m8.2 0h0m-104.7 3.5h0m16.4 0h0m82.1 0h0m36.9 0h0m90.3 0h0m-199 3.6h0m94.4 0h0m-129.3 3.6h0m238 0h0m-178.5 3.6h0m4.1 0h0m32.9 0h0m4.1 0h0m12.3 0h0m24.6 0h0m73.9 0h0m12.3 0h0m12.3 0h0m-190.8 3.5h0m110.8 0h0m-145.7 3.6h0m53.3 0h0m32.9 0h0m4.1 0h0m-51.3 3.6h0m-51.3 3.5h0m8.2 0h0m20.5 0h0m12.3 0h0m32.8 0h0m32.9 0h0m8.2 0h0m-104.7 3.6h0m20.5 0h0m8.2 0h0m45.2 0h0m61.5 0h0m-141.5 3.6h0m4.1 0h0m8.2 0h0m16.4 0h0m65.7 0h0m-84.2 3.6h0m37 0h0m41 0h0m73.9 0h0m20.5 0h0m-174.4 3.5h0m20.5 0h0m12.3 0h0m8.2 0h0m4.1 0h0m53.4 0h0m127.2 0h0m-223.7 3.6h0m102.6 0h0m24.6 0h0m8.3 0h0m-125.2 3.6h0m41 0h0m16.4 0h0m4.1 0h0m4.1 0h0m16.5 0h0m98.5 0h0m-186.8 3.5h0m32.9 0h0m12.3 0h0m65.6 0h0m8.2 0h0m-116.9 3.6h0m20.5 0h0m8.2 0h0m172.4 0h0m-199.1 3.6h0m82.1 0h0m82.1 0h0m-162.1 3.6h0m4.1 0h0m12.3 0h0m-14.4 3.5h0m4.1 0h0m20.6 0h0m49.2 0h0m-67.7 3.6h0m4.1 0h0m28.7 0h0m127.2 0h0m45.2 0h0m-211.4 3.6h0m4.1 0h0m4.1 0h0m8.2 0h0m12.4 0h0m8.2 0h0m4.1 0h0m73.8 0h0m-112.8 3.5h0m4.1 0h0m8.2 0h0m12.3 0h0m8.2 0h0m-26.7 3.6h0m12.4 0h0m4.1 0h0m20.5 0h0m4.1 0h0m94.4 0h0m-137.5 3.6h0m8.2 0h0m8.2 0h0m8.2 0h0m4.1 0h0m49.3 0h0m-71.9 3.6h0m4.1 0h0m4.2 0h0m4.1 0h0m8.2 0h0m4.1 0h0m16.4 0h0m102.6 0h0m-141.6 3.5h0m8.2 0h0m8.2 0h0m4.1 0h0m4.1 0h0m4.1 0h0m4.1 0h0m8.2 0h0m106.7 0h0m-145.7 3.6h0m12.4 0h0m4.1 0h0m4.1 0h0m4.1 0h0m8.2 0h0m12.3 0h0m4.1 0h0m4.1 0h0m-47.2 3.6h0m4.1 0h0m4.1 0h0m4.1 0h0m4.1 0h0m4.1 0h0m4.1 0h0m4.1 0h0m4.1 0h0m4.1 0h0m4.1 0h0m4.1 0h0m82.1 0h0m-125.1 3.6h0m4.1 0h0m4.1 0h0m4.1 0h0m8.2 0h0m8.2 0h0m4.1 0h0m4.1 0h0m20.5 0h0m-51.3 3.5h0m4.1 0h0m4.1 0h0m4.1 0h0m4.1 0h0m4.1 0h0m4.1 0h0m4.1 0h0m4.1 0h0m4.1 0h0m16.5 0h0m28.7 0h0m24.6 0h0m-112.8 3.6h0m4.1 0h0m4.1 0h0m4.1 0h0m12.3 0h0m4.1 0h0m4.1 0h0m4.1 0h0m4.1 0h0m4.1 0h0m4.1 0h0m90.3 0h0m-129.3 3.6h0m4.1 0h0m8.2 0h0m4.1 0h0m4.1 0h0m4.1 0h0m4.1 0h0m4.1 0h0m4.2 0h0m4.1 0h0m4.1 0h0m45.1 0h0m69.8 0h0m-153.9 3.5h0m8.2 0h0m4.1 0h0m8.2 0h0m4.1 0h0m8.2 0h0m4.1 0h0m4.1 0h0m4.1 0h0m4.1 0h0m4.1 0h0m-47.2 3.6h0m4.1 0h0m12.3 0h0m4.1 0h0m4.2 0h0m4.1 0h0m4.1 0h0m4.1 0h0m4.1 0h0m4.1 0h0m49.2 0h0m-96.4 3.6h0m8.2 0h0m4.1 0h0m4.1 0h0m4.1 0h0m4.1 0h0m4.1 0h0m4.1 0h0m4.1 0h0m4.1 0h0m4.1 0h0m45.2 0h0m-80.1 3.6h0m24.7 0h0m8.2 0h0m4.1 0h0m8.2 0h0m-14.4 3.5h0m4.1 0h0m8.2 0h0m4.1 0h0m41.1 0h0m-55.4 3.6h0m4.1 0h0m8.2 0h0m4.1 0h0m-10.3 3.6h0m4.1 0h0m4.1 0h0m8.2 0h0" stroke="#F46E70" stroke-width="4.1"/><path d="M197.1 67.3h0m8.2 0h0m4.1 0h0m4.1 0h0m4.1 0h0m4.1 0h0m4.1 0h0m4.1 0h0m4.1 0h0m12.3 0h0m4.1 0h0m4.1 0h0m8.2 0h0m-227.7 3.6h0m49.2 0h0m110.8 0h0m8.2 0h0m4.1 0h0m8.3 0h0m4.1 0h0m4.1 0h0m4.1 0h0m4.1 0h0m8.2 0h0m16.4 0h0m4.1 0h0m8.2 0h0m-211.4 3.5h0m4.2 0h0m69.7 0h0m82.1 0h0m8.2 0h0m8.2 0h0m4.1 0h0m12.3 0h0m4.1 0h0m8.2 0h0m4.1 0h0m-219.5 3.6h0m4.1 0h0m8.2 0h0m4.1 0h0m164.2 0h0m4.1 0h0m4.1 0h0m4.1 0h0m4.1 0h0m8.2 0h0m12.3 0h0m-227.8 3.6h0m24.6 0h0m20.6 0h0m4.1 0h0m8.2 0h0m4.1 0h0m4.1 0h0m127.2 0h0m12.3 0h0m8.2 0h0m4.1 0h0m8.2 0h0m4.1 0h0m-235.9 3.6h0m8.2 0h0m8.2 0h0m8.2 0h0m16.4 0h0m24.6 0h0m12.3 0h0m82.1 0h0m61.6 0h0m12.3 0h0m-223.7 3.5h0m24.7 0h0m8.2 0h0m4.1 0h0m8.2 0h0m16.4 0h0m4.1 0h0m12.3 0h0m102.6 0h0m4.1 0h0m4.1 0h0m8.2 0h0m4.1 0h0m8.2 0h0m8.2 0h0m4.1 0h0m4.1 0h0m-235.9 3.6h0m16.4 0h0m4.1 0h0m16.4 0h0m4.1 0h0m8.2 0h0m37 0h0m119 0h0m4.1 0h0m4.1 0h0m8.2 0h0m4.1 0h0m12.3 0h0m-244.2 3.6h0m24.6 0h0m8.2 0h0m4.1 0h0m4.2 0h0m12.3 0h0m8.2 0h0m16.4 0h0m16.4 0h0m32.8 0h0m49.3 0h0m49.2 0h0m4.1 0h0m8.2 0h0m4.1 0h0m4.2 0h0m-244.2 3.5h0m8.2 0h0m16.4 0h0m8.2 0h0m16.4 0h0m8.2 0h0m8.2 0h0m16.4 0h0m12.4 0h0m123.1 0h0m4.1 0h0m8.2 0h0m4.1 0h0m-244.2 3.6h0m8.2 0h0m16.4 0h0m8.2 0h0m12.3 0h0m32.9 0h0m4.1 0h0m8.2 0h0m16.4 0h0m110.8 0h0m28.7 0h0m4.1 0h0m-235.9 3.6h0m16.4 0h0m12.3 0h0m12.3 0h0m4.1 0h0m4.1 0h0m8.2 0h0m8.2 0h0m4.1 0h0m4.1 0h0m8.2 0h0m16.5 0h0m-96.5 3.6h0m4.1 0h0m4.1 0h0m4.1 0h0m12.3 0h0m12.4 0h0m16.4 0h0m8.2 0h0m8.2 0h0m8.2 0h0m4.1 0h0m4.1 0h0m4.1 0h0m4.1 0h0m36.9 0h0m90.3 0h0m-211.3 3.5h0m4.1 0h0m32.8 0h0m4.1 0h0m4.1 0h0m8.2 0h0m8.2 0h0m4.1 0h0m24.7 0h0m-76 3.6h0m8.3 0h0m8.2 0h0m20.5 0h0m8.2 0h0m8.2 0h0m20.5 0h0m4.1 0h0m12.3 0h0m78 0h0m-174.4 3.6h0m4.1 0h0m8.2 0h0m16.4 0h0m8.2 0h0m24.6 0h0m12.4 0h0m102.6 0h0m4.1 0h0m-174.5 3.6h0m8.3 0h0m8.2 0h0m16.4 0h0m16.4 0h0m20.5 0h0m4.1 0h0m4.1 0h0m4.1 0h0m8.2 0h0m4.1 0h0m37 0h0m57.4 0h0m-190.8 3.5h0m8.2 0h0m4.1 0h0m8.2 0h0m4.1 0h0m12.3 0h0m16.4 0h0m20.6 0h0m8.2 0h0m-76 3.6h0m16.5 0h0m4.1 0h0m4.1 0h0m24.6 0h0m4.1 0h0m4.1 0h0m4.1 0h0m8.2 0h0m4.1 0h0m20.5 0h0m61.6 0h0m-141.6 3.6h0m24.6 0h0m4.1 0h0m4.1 0h0m49.3 0h0m-108.8 3.5h0m20.6 0h0m12.3 0h0m4.1 0h0m8.2 0h0m16.4 0h0m20.5 0h0m4.1 0h0m16.4 0h0m12.3 0h0m8.3 0h0m-121.1 3.6h0m4.1 0h0m8.2 0h0m4.1 0h0m4.1 0h0m12.3 0h0m8.2 0h0m8.2 0h0m28.8 0h0m4.1 0h0m12.3 0h0m24.6 0h0m65.7 0h0m-195 3.6h0m4.1 0h0m8.2 0h0m8.2 0h0m8.3 0h0m4.1 0h0m8.2 0h0m12.3 0h0m4.1 0h0m4.1 0h0m8.2 0h0m12.3 0h0m32.8 0h0m24.7 0h0m77.9 0h0m-219.5 3.6h0m4.1 0h0m20.5 0h0m4.1 0h0m16.4 0h0m16.4 0h0m12.3 0h0m12.4 0h0m24.6 0h0m4.1 0h0m8.2 0h0m8.2 0h0m4.1 0h0m8.2 0h0m-162.1 3.5h0m4.1 0h0m8.2 0h0m16.4 0h0m12.3 0h0m12.4 0h0m32.8 0h0m8.2 0h0m4.1 0h0m8.2 0h0m8.2 0h0m12.3 0h0m16.4 0h0m8.3 0h0m16.4 0h0m-158 3.6h0m24.6 0h0m4.1 0h0m24.6 0h0m12.3 0h0m8.2 0h0m24.7 0h0m8.2 0h0m4.1 0h0m4.1 0h0m4.1 0h0m20.5 0h0m4.1 0h0m12.3 0h0m16.4 0h0m-186.7 3.6h0m4.1 0h0m8.2 0h0m65.7 0h0m41 0h0m8.2 0h0m8.2 0h0m8.2 0h0m20.6 0h0m4.1 0h0m4.1 0h0m4.1 0h0m4.1 0h0m4.1 0h0m-149.8 3.5h0m12.3 0h0m4.1 0h0m16.4 0h0m8.2 0h0m8.2 0h0m20.6 0h0m16.4 0h0m4.1 0h0m4.1 0h0m16.4 0h0m16.4 0h0m12.3 0h0m8.2 0h0m4.1 0h0m20.6 0h0m-199.1 3.6h0m65.7 0h0m8.2 0h0m8.2 0h0m16.4 0h0m12.3 0h0m28.7 0h0m24.7 0h0m-153.9 3.6h0m28.7 0h0m20.5 0h0m16.4 0h0m24.7 0h0m4.1 0h0m12.3 0h0m20.5 0h0m16.4 0h0m8.2 0h0m4.1 0h0m12.3 0h0m24.7 0h0m4.1 0h0m8.2 0h0m-227.8 3.6h0m78 0h0m28.7 0h0m16.4 0h0m16.4 0h0m12.3 0h0m16.5 0h0m12.3 0h0m24.6 0h0m12.3 0h0m-186.7 3.5h0m8.2 0h0m8.2 0h0m36.9 0h0m24.7 0h0m16.4 0h0m12.3 0h0m4.1 0h0m8.2 0h0m12.3 0h0m24.6 0h0m28.8 0h0m-203.2 3.6h0m12.3 0h0m8.2 0h0m32.9 0h0m24.6 0h0m32.8 0h0m12.3 0h0m4.1 0h0m4.1 0h0m4.1 0h0m32.9 0h0m32.8 0h0m28.7 0h0m8.2 0h0m-240 3.6h0m8.2 0h0m57.4 0h0m45.2 0h0m12.3 0h0m4.1 0h0m12.3 0h0m8.2 0h0m4.1 0h0m4.1 0h0m12.3 0h0m4.1 0h0m24.7 0h0m-190.9 3.5h0m45.2 0h0m73.8 0h0m12.3 0h0m8.3 0h0m4.1 0h0m-158 3.6h0m28.7 0h0m28.7 0h0m45.2 0h0m90.2 0h0m41.1 0h0m-219.6 3.6h0m53.4 0h0m8.2 0h0m41 0h0m8.2 0h0m24.6 0h0m8.3 0h0m8.2 0h0m24.6 0h0m4.1 0h0m12.3 0h0m4.1 0h0m-80 3.6h0m12.3 0h0m16.4 0h0m12.3 0h0m4.1 0h0m41.1 0h0m-158 3.5h0m16.4 0h0m4.1 0h0m86.2 0h0m8.2 0h0m4.1 0h0m28.7 0h0m-199 3.6h0m45.1 0h0m53.4 0h0m24.6 0h0m8.2 0h0m8.2 0h0m8.2 0h0m24.6 0h0m-166.2 3.6h0m16.4 0h0m24.7 0h0m28.7 0h0m16.4 0h0m41 0h0m12.4 0h0m24.6 0h0m32.8 0h0m-194.9 3.6h0m8.2 0h0m20.5 0h0m90.3 0h0m28.7 0h0m-153.9 3.5h0m28.7 0h0m20.6 0h0m24.6 0h0m45.1 0h0m20.5 0h0m4.2 0h0m16.4 0h0m41 0h0m32.8 0h0m-231.8 3.6h0m8.2 0h0m41 0h0m86.2 0h0m4.1 0h0m4.1 0h0m12.3 0h0m16.4 0h0m8.2 0h0m37 0h0m-203.2 3.6h0m16.4 0h0m4.1 0h0m37 0h0m20.5 0h0m36.9 0h0m16.5 0h0m20.5 0h0m-149.8 3.5h0m36.9 0h0m16.4 0h0m4.1 0h0m53.4 0h0m20.5 0h0m8.2 0h0m41.1 0h0m4.1 0h0m4.1 0h0m4.1 0h0m-145.7 3.6h0m53.3 0h0m82.1 0h0m-153.9 3.6h0m16.4 0h0m8.2 0h0m8.2 0h0m65.7 0h0m8.2 0h0m-141.6 3.6h0m28.8 0h0m36.9 0h0m36.9 0h0m4.1 0h0m4.1 0h0m4.1 0h0m-84.1 3.5h0m24.6 0h0m4.1 0h0m8.2 0h0m32.9 0h0m4.1 0h0m32.8 0h0m28.7 0h0m28.8 0h0m-108.8 3.6h0m69.8 0h0m8.2 0h0m12.3 0h0m24.6 0h0m16.4 0h0m-207.2 3.6h0m8.2 0h0m41 0h0m102.6 0h0m12.3 0h0m32.9 0h0m-133.4 3.5h0m8.2 0h0m4.1 0h0m4.1 0h0m65.7 0h0m32.8 0h0m8.2 0h0m-162.1 3.6h0m20.5 0h0m20.5 0h0m139.6 0h0m-174.4 3.6h0m41 0h0m-51.3 3.6h0m8.2 0h0m8.2 0h0m69.8 0h0m65.7 0h0m-108.8 3.5h0m41 0h0m4.1 0h0m24.7 0h0m20.5 0h0m4.1 0h0m4.1 0h0m32.8 0h0m4.1 0h0m-92.3 3.6h0m41 0h0m49.3 0h0m-141.6 3.6h0m41 0h0m65.7 0h0m-100.6 3.5h0m16.5 0h0m8.2 0h0m12.3 0h0m8.2 0h0m8.2 0h0m12.3 0h0m32.8 0h0m12.4 0h0m-117 3.6h0m36.9 0h0m16.4 0h0m-47.2 3.6h0m8.3 0h0m4.1 0h0m82 0h0m-59.5 3.6h0m12.3 0h0m-30.7 3.5h0m24.6 0h0m12.3 0h0m82.1 0h0m8.2 0h0m-133.4 3.6h0m41 0h0m4.1 0h0m24.7 0h0m8.2 0h0m8.2 0h0m32.8 0h0m16.4 0h0m-108.7 3.6h0m36.9 0h0m32.8 0h0m8.3 0h0m12.3 0h0m-104.7 3.6h0m86.2 0h0m8.2 0h0m-80 3.5h0m49.2 0h0m12.3 0h0m24.7 0h0m8.2 0h0m4.1 0h0m-67.7 3.6h0m36.9 0h0m24.6 0h0m16.4 0h0m-96.4 3.6h0m20.5 0h0m41.1 0h0m12.3 0h0m12.3 0h0m-96.5 3.5h0m20.6 0h0m57.4 0h0m-22.6 3.6h0m-18.4 3.6h0m24.6 0h0m4.1 0h0m-39 3.6h0m4.1 0h0m8.2 0h0m41.1 0h0m4.1 0h0m-34.9 3.5h0m-18.5 3.6h0m16.4 0h0m16.4 0h0m8.3 0h0m-55.5 3.6h0m24.7 0h0m-10.3 3.5h0m16.4 0h0" stroke="#F9B71A" stroke-width="4.1"/><path d="M61.7 67.3h0m24.6 0h0m24.6 0h0m20.5 0h0m4.1 0h0m4.1 0h0m4.1 0h0m4.1 0h0m8.2 0h0m4.1 0h0m8.3 0h0m4.1 0h0m4.1 0h0m4.1 0h0m12.3 0h0m-153.9 3.6h0m12.3 0h0m20.5 0h0m4.1 0h0m12.3 0h0m4.1 0h0m4.1 0h0m4.1 0h0m20.6 0h0m20.5 0h0m8.2 0h0m4.1 0h0m8.2 0h0m4.1 0h0m4.1 0h0m4.1 0h0m-137.5 3.5h0m8.2 0h0m8.2 0h0m37 0h0m16.4 0h0m12.3 0h0m4.1 0h0m12.3 0h0m4.1 0h0m4.1 0h0m4.1 0h0m4.1 0h0m4.1 0h0m4.1 0h0m4.2 0h0m4.1 0h0m4.1 0h0m4.1 0h0m4.1 0h0m16.4 0h0m4.1 0h0m-149.8 3.6h0m20.5 0h0m4.1 0h0m16.4 0h0m8.2 0h0m16.5 0h0m20.5 0h0m4.1 0h0m4.1 0h0m4.1 0h0m8.2 0h0m8.2 0h0m4.1 0h0m8.2 0h0m4.1 0h0m12.3 0h0m-145.7 3.6h0m61.6 0h0m16.4 0h0m16.4 0h0m4.1 0h0m4.1 0h0m4.1 0h0m4.1 0h0m8.3 0h0m4.1 0h0m8.2 0h0m4.1 0h0m16.4 0h0m-71.8 3.6h0m12.3 0h0m4.1 0h0m4.1 0h0m4.1 0h0m4.1 0h0m4.1 0h0m4.1 0h0m8.2 0h0m4.1 0h0m12.3 0h0m-43.1 3.5h0m4.1 0h0m4.1 0h0m4.1 0h0m4.2 0h0m4.1 0h0m8.2 0h0m4.1 0h0m4.1 0h0m-59.5 3.6h0m12.3 0h0m12.3 0h0m4.1 0h0m4.1 0h0m4.1 0h0m4.1 0h0m8.2 0h0m4.1 0h0m4.1 0h0m-153.9 3.6h0m8.2 0h0m114.9 0h0m4.1 0h0m4.1 0h0m4.2 0h0m4.1 0h0m4.1 0h0m4.1 0h0m4.1 0h0m8.2 0h0m4.1 0h0m8.2 0h0m12.3 0h0m-149.8 3.5h0m78 0h0m4.1 0h0m4.1 0h0m4.1 0h0m8.2 0h0m8.2 0h0m4.1 0h0m4.1 0h0m4.1 0h0m4.1 0h0m4.1 0h0m4.1 0h0m4.1 0h0m-116.9 3.6h0m49.2 0h0m4.1 0h0m20.5 0h0m4.1 0h0m4.2 0h0m4.1 0h0m4.1 0h0m4.1 0h0m8.2 0h0m4.1 0h0m4.1 0h0m4.1 0h0m12.3 0h0m4.1 0h0m-203.1 3.6h0m94.3 0h0m28.8 0h0m8.2 0h0m8.2 0h0m16.4 0h0m4.1 0h0m4.1 0h0m8.2 0h0m12.3 0h0m4.1 0h0m8.2 0h0m4.1 0h0m16.5 0h0m-219.6 3.6h0m16.4 0h0m45.2 0h0m69.7 0h0m12.3 0h0m12.4 0h0m4.1 0h0m4.1 0h0m4.1 0h0m4.1 0h0m4.1 0h0m8.2 0h0m4.1 0h0m4.1 0h0m28.7 0h0m-219.5 3.5h0m4.1 0h0m4.1 0h0m8.2 0h0m94.4 0h0m24.6 0h0m24.6 0h0m4.1 0h0m4.1 0h0m8.2 0h0m4.1 0h0m4.1 0h0m8.2 0h0m8.2 0h0m4.2 0h0m24.6 0h0m-227.8 3.6h0m4.1 0h0m4.1 0h0m4.1 0h0m135.4 0h0m4.2 0h0m4.1 0h0m4.1 0h0m4.1 0h0m4.1 0h0m4.1 0h0m4.1 0h0m4.1 0h0m4.1 0h0m4.1 0h0m4.1 0h0m4.1 0h0m4.1 0h0m28.7 0h0m-227.7 3.6h0m4.1 0h0m8.2 0h0m4.1 0h0m4.1 0h0m4.1 0h0m123.1 0h0m12.3 0h0m4.1 0h0m8.2 0h0m4.1 0h0m4.1 0h0m4.1 0h0m4.1 0h0m4.1 0h0m49.3 0h0m8.2 0h0m4.1 0h0m-256.5 3.6h0m4.1 0h0m4.1 0h0m8.2 0h0m4.1 0h0m4.1 0h0m4.1 0h0m110.8 0h0m45.2 0h0m4.1 0h0m4.1 0h0m4.1 0h0m4.1 0h0m4.1 0h0m4.1 0h0m4.1 0h0m20.5 0h0m12.3 0h0m8.3 0h0m-256.5 3.5h0m4.1 0h0m12.3 0h0m4.1 0h0m4.1 0h0m4.1 0h0m98.5 0h0m16.4 0h0m28.7 0h0m12.3 0h0m8.2 0h0m4.1 0h0m8.3 0h0m12.3 0h0m4.1 0h0m4.1 0h0m4.1 0h0m4.1 0h0m4.1 0h0m-236 3.6h0m4.1 0h0m4.1 0h0m8.2 0h0m4.1 0h0m4.1 0h0m32.9 0h0m94.4 0h0m24.6 0h0m4.1 0h0m8.2 0h0m4.1 0h0m4.1 0h0m8.2 0h0m4.1 0h0m8.2 0h0m4.1 0h0m4.1 0h0m8.2 0h0m4.1 0h0m8.2 0h0m4.1 0h0m4.2 0h0m-256.5 3.6h0m4.1 0h0m4.1 0h0m4.1 0h0m8.2 0h0m4.1 0h0m4.1 0h0m135.4 0h0m16.4 0h0m20.5 0h0m4.2 0h0m4.1 0h0m4.1 0h0m4.1 0h0m4.1 0h0m8.2 0h0m4.1 0h0m8.2 0h0m8.2 0h0m4.1 0h0m4.1 0h0m-260.6 3.5h0m4.1 0h0m20.5 0h0m4.1 0h0m102.6 0h0m12.3 0h0m37 0h0m16.4 0h0m4.1 0h0m4.1 0h0m8.2 0h0m4.1 0h0m4.1 0h0m8.2 0h0m4.1 0h0m4.1 0h0m4.1 0h0m16.5 0h0m-256.5 3.6h0m4.1 0h0m4.1 0h0m4.1 0h0m4.1 0h0m4.1 0h0m4.1 0h0m4.1 0h0m98.5 0h0m41 0h0m8.2 0h0m37 0h0m12.3 0h0m4.1 0h0m4.1 0h0m4.1 0h0m4.1 0h0m16.4 0h0m-260.6 3.6h0m4.1 0h0m4.1 0h0m4.1 0h0m4.1 0h0m8.2 0h0m106.7 0h0m57.5 0h0m4.1 0h0m20.5 0h0m20.5 0h0m8.2 0h0m12.3 0h0m-244.1 3.6h0m8.2 0h0m114.9 0h0m61.5 0h0m28.8 0h0m12.3 0h0m-211.4 3.5h0m45.2 0h0m114.9 0h0m20.5 0h0m-59.5 3.6h0m57.4 0h0m8.3 0h0m16.4 0h0m4.1 0h0m4.1 0h0m12.3 0h0m-129.3 3.6h0m24.6 0h0m61.6 0h0m36.9 0h0m-71.8 3.5h0m12.3 0h0m53.4 0h0m4.1 0h0m-10.3 3.6h0m8.2 0h0m-158 3.6h0m160.1 0h0m-164.2 7.1h0m57.5 0h0m45.1 0h0m43.1 3.6h0m24.6 0h0m-10.2 3.6h0m-86.2 7.1h0m8.2 0h0m-53.3 7.2h0m-59.6 3.5h0m123.2 7.2h0m-166.2 3.6h0m4.1 0h0m45.1 0h0m-51.3 3.5h0m8.2 0h0m61.6 0h0m-67.7 3.6h0m4.1 0h0m4.1 0h0m229.8 0h0m-236 3.6h0m4.1 0h0m4.1 0h0m78 0h0m61.5 0h0m-141.5 3.5h0m168.2 0h0m-170.3 3.6h0m4.1 0h0m6.2 3.6h0m90.3 0h0m53.3 0h0m57.5 0h0m-203.2 3.6h0m135.4 0h0m-129.2 3.5h0m4.1 0h0m-2.1 3.6h0m4.1 0h0m4.1 0h0m-10.2 3.6h0m127.2 0h0m-117 3.5h0m4.1 0h0m-6.1 3.6h0m4.1 0h0m4.1 0h0m-6.2 3.6h0m4.1 0h0m4.1 0h0m4.1 0h0m16.5 0h0m-22.6 3.6h0m4.1 0h0m8.2 0h0m-10.3 3.5h0m8.2 0h0m4.2 0h0m8.2 0h0m-14.4 3.6h0m4.1 0h0m8.2 0h0m4.1 0h0m-18.5 3.6h0m8.3 0h0m12.3 0h0m127.2 0h0m28.7 0h0m-178.5 3.5h0m8.2 0h0m4.1 0h0m8.2 0h0m8.2 0h0m4.1 0h0m-30.8 3.6h0m16.5 0h0m4.1 0h0m4.1 0h0m4.1 0h0m12.3 0h0m-26.7 3.6h0m12.3 0h0m4.1 0h0m4.1 0h0m4.1 0h0m139.6 0h0m20.5 0h0m-182.6 3.6h0m16.4 0h0m4.1 0h0m8.2 0h0m4.1 0h0m20.5 0h0m86.2 0h0m-149.8 3.5h0m32.8 0h0m12.3 0h0m4.1 0h0m32.9 0h0m-80 3.6h0m4.1 0h0m20.5 0h0m8.2 0h0m4.1 0h0m-39 3.6h0m53.4 0h0m4.1 0h0m41 0h0m-75.9 3.6h0m8.2 0h0m20.5 0h0m4.1 0h0m4.1 0h0m-51.3 3.5h0m45.2 0h0m4.1 0h0m4.1 0h0m8.2 0h0m-47.2 3.6h0m4.1 0h0m32.8 0h0m4.1 0h0m8.2 0h0m28.7 0h0m-92.3 3.6h0m4.1 0h0m12.3 0h0m41.1 0h0m4.1 0h0m4.1 0h0m4.1 0h0m4.1 0h0m-71.8 3.5h0m4.1 0h0m12.3 0h0m12.3 0h0m12.3 0h0m28.7 0h0m8.2 0h0m-71.8 3.6h0m4.1 0h0m4.1 0h0m12.3 0h0m41.1 0h0m8.2 0h0m-55.4 3.6h0m49.2 0h0m4.1 0h0m4.1 0h0m-55.4 3.6h0m32.9 0h0m12.3 0h0m8.2 0h0m4.1 0h0m-26.7 3.5h0m24.6 0h0m4.1 0h0m4.1 0h0m57.5 0h0m-63.6 3.6h0m4.1 0h0m-6.2 3.6h0m8.2 0h0" stroke="#C99AF6" stroke-width="4.1"/><path d="M45.2 67.3h0m73.9 0h0m139.5 0h0m-194.9 3.6h0m2.1 3.5h0m8.2 0h0m8.2 0h0m102.6 0h0m-149.8 3.6h0m4.1 0h0m24.6 0h0m16.4 0h0m4.1 0h0m12.3 0h0m160.1 0h0m-219.6 3.6h0m4.1 0h0m12.3 0h0m8.3 0h0m4.1 0h0m4.1 0h0m4.1 0h0m12.3 0h0m123.1 0h0m-178.5 3.6h0m32.8 0h0m8.2 0h0m12.3 0h0m12.3 0h0m-67.7 3.5h0m4.1 0h0m8.2 0h0m8.2 0h0m16.5 0h0m24.6 0h0m16.4 0h0m4.1 0h0m12.3 0h0m65.7 0h0m-158 3.6h0m24.6 0h0m4.1 0h0m20.5 0h0m8.2 0h0m4.1 0h0m127.3 0h0m-149.8 3.6h0m8.2 0h0m8.2 0h0m16.4 0h0m4.1 0h0m4.1 0h0m24.6 0h0m102.6 0h0m-203.1 3.5h0m8.2 0h0m8.2 0h0m8.2 0h0m24.6 0h0m8.2 0h0m8.2 0h0m20.6 0h0m82 0h0m24.7 0h0m-211.4 3.6h0m8.2 0h0m8.2 0h0m8.2 0h0m8.2 0h0m4.1 0h0m12.4 0h0m4.1 0h0m8.2 0h0m28.7 0h0m8.2 0h0m119 0h0m12.3 0h0m-227.7 3.6h0m4.1 0h0m8.2 0h0m4.1 0h0m4.1 0h0m41 0h0m32.9 0h0m4.1 0h0m4.1 0h0m8.2 0h0m16.4 0h0m57.4 0h0m49.3 0h0m12.3 0h0m4.1 0h0m-252.4 3.6h0m4.1 0h0m24.6 0h0m28.8 0h0m4.1 0h0m8.2 0h0m16.4 0h0m24.6 0h0m4.1 0h0m78 0h0m49.2 0h0m-235.9 3.5h0m8.2 0h0m4.1 0h0m16.4 0h0m4.1 0h0m4.1 0h0m4.1 0h0m4.1 0h0m57.5 0h0m8.2 0h0m32.8 0h0m69.8 0h0m-207.3 3.6h0m4.1 0h0m12.3 0h0m4.1 0h0m24.7 0h0m4.1 0h0m4.1 0h0m12.3 0h0m8.2 0h0m8.2 0h0m4.1 0h0m4.1 0h0m4.1 0h0m12.3 0h0m4.1 0h0m78 0h0m-174.4 3.6h0m12.3 0h0m8.2 0h0m4.1 0h0m20.5 0h0m8.2 0h0m4.1 0h0m4.1 0h0m12.4 0h0m16.4 0h0m4.1 0h0m12.3 0h0m8.2 0h0m82.1 0h0m-195 3.6h0m12.3 0h0m8.3 0h0m8.2 0h0m8.2 0h0m12.3 0h0m4.1 0h0m12.3 0h0m4.1 0h0m4.1 0h0m20.5 0h0m37 0h0m-158 3.5h0m4.1 0h0m20.5 0h0m4.1 0h0m8.2 0h0m12.3 0h0m28.7 0h0m4.1 0h0m8.2 0h0m12.4 0h0m8.2 0h0m12.3 0h0m8.2 0h0m16.4 0h0m86.2 0h0m8.2 0h0m4.1 0h0m-219.6 3.6h0m4.1 0h0m4.1 0h0m12.4 0h0m24.6 0h0m4.1 0h0m28.7 0h0m12.3 0h0m8.2 0h0m4.1 0h0m-121 3.6h0m16.4 0h0m4.1 0h0m8.2 0h0m8.2 0h0m4.1 0h0m8.2 0h0m4.1 0h0m4.1 0h0m4.1 0h0m20.5 0h0m8.3 0h0m4.1 0h0m4.1 0h0m4.1 0h0m8.2 0h0m12.3 0h0m8.2 0h0m8.2 0h0m32.8 0h0m-178.5 3.5h0m20.5 0h0m12.3 0h0m4.1 0h0m12.4 0h0m16.4 0h0m12.3 0h0m12.3 0h0m4.1 0h0m4.1 0h0m16.4 0h0m20.5 0h0m8.3 0h0m12.3 0h0m-133.4 3.6h0m12.3 0h0m61.6 0h0m4.1 0h0m12.3 0h0m12.3 0h0m8.2 0h0m4.1 0h0m69.8 0h0m28.7 0h0m-211.4 3.6h0m8.2 0h0m8.3 0h0m20.5 0h0m4.1 0h0m16.4 0h0m8.2 0h0m4.1 0h0m8.2 0h0m4.1 0h0m4.1 0h0m4.1 0h0m8.2 0h0m16.4 0h0m4.2 0h0m16.4 0h0m49.2 0h0m-219.5 3.6h0m32.8 0h0m4.1 0h0m8.2 0h0m20.5 0h0m8.2 0h0m8.2 0h0m12.3 0h0m8.3 0h0m4.1 0h0m8.2 0h0m4.1 0h0m8.2 0h0m16.4 0h0m-141.6 3.5h0m12.3 0h0m12.3 0h0m16.4 0h0m12.4 0h0m16.4 0h0m12.3 0h0m4.1 0h0m20.5 0h0m8.2 0h0m8.2 0h0m4.1 0h0m8.2 0h0m8.2 0h0m24.7 0h0m8.2 0h0m49.2 0h0m-223.6 3.6h0m4.1 0h0m20.5 0h0m24.6 0h0m4.1 0h0m8.2 0h0m20.5 0h0m8.2 0h0m4.1 0h0m4.2 0h0m16.4 0h0m20.5 0h0m8.2 0h0m4.1 0h0m32.8 0h0m-186.7 3.6h0m24.6 0h0m12.3 0h0m16.5 0h0m4.1 0h0m4.1 0h0m8.2 0h0m4.1 0h0m12.3 0h0m4.1 0h0m4.1 0h0m4.1 0h0m16.4 0h0m12.3 0h0m8.2 0h0m20.6 0h0m4.1 0h0m36.9 0h0m4.1 0h0m24.6 0h0m-211.3 3.5h0m32.8 0h0m28.7 0h0m8.2 0h0m8.2 0h0m8.2 0h0m4.2 0h0m8.2 0h0m8.2 0h0m16.4 0h0m4.1 0h0m12.3 0h0m4.1 0h0m4.1 0h0m36.9 0h0m8.3 0h0m-207.3 3.6h0m24.6 0h0m24.6 0h0m8.3 0h0m8.2 0h0m4.1 0h0m4.1 0h0m8.2 0h0m16.4 0h0m8.2 0h0m24.6 0h0m4.1 0h0m8.2 0h0m12.4 0h0m4.1 0h0m8.2 0h0m20.5 0h0m4.1 0h0m4.1 0h0m8.2 0h0m8.2 0h0m-199 3.6h0m28.7 0h0m16.4 0h0m4.1 0h0m12.3 0h0m8.2 0h0m8.2 0h0m12.4 0h0m4.1 0h0m16.4 0h0m12.3 0h0m4.1 0h0m4.1 0h0m8.2 0h0m4.1 0h0m12.3 0h0m32.8 0h0m20.6 0h0m-219.6 3.6h0m4.1 0h0m4.1 0h0m8.2 0h0m4.1 0h0m4.1 0h0m24.7 0h0m4.1 0h0m4.1 0h0m4.1 0h0m24.6 0h0m12.3 0h0m8.2 0h0m4.1 0h0m12.3 0h0m4.1 0h0m12.3 0h0m12.4 0h0m8.2 0h0m61.5 0h0m4.1 0h0m-227.7 3.5h0m12.3 0h0m8.2 0h0m20.5 0h0m12.3 0h0m8.2 0h0m4.1 0h0m32.8 0h0m16.5 0h0m4.1 0h0m8.2 0h0m16.4 0h0m8.2 0h0m4.1 0h0m8.2 0h0m8.2 0h0m8.2 0h0m8.2 0h0m16.5 0h0m12.3 0h0m8.2 0h0m12.3 0h0m4.1 0h0m-236 3.6h0m8.2 0h0m24.6 0h0m4.1 0h0m4.1 0h0m8.3 0h0m16.4 0h0m4.1 0h0m16.4 0h0m8.2 0h0m4.1 0h0m4.1 0h0m16.4 0h0m4.1 0h0m24.7 0h0m8.2 0h0m4.1 0h0m4.1 0h0m4.1 0h0m49.2 0h0m12.3 0h0m-207.2 3.6h0m4.1 0h0m4.1 0h0m8.2 0h0m4.1 0h0m16.4 0h0m32.8 0h0m8.3 0h0m8.2 0h0m12.3 0h0m12.3 0h0m4.1 0h0m28.7 0h0m12.3 0h0m37 0h0m-223.7 3.5h0m12.3 0h0m8.2 0h0m12.3 0h0m4.1 0h0m4.1 0h0m4.1 0h0m12.4 0h0m8.2 0h0m4.1 0h0m4.1 0h0m4.1 0h0m4.1 0h0m8.2 0h0m24.6 0h0m12.3 0h0m4.1 0h0m8.2 0h0m24.7 0h0m8.2 0h0m16.4 0h0m24.6 0h0m12.3 0h0m16.4 0h0m-235.9 3.6h0m4.1 0h0m8.2 0h0m8.2 0h0m12.3 0h0m8.2 0h0m4.1 0h0m4.1 0h0m8.2 0h0m4.1 0h0m8.2 0h0m16.4 0h0m32.9 0h0m8.2 0h0m8.2 0h0m24.6 0h0m8.2 0h0m-174.4 3.6h0m28.7 0h0m12.3 0h0m16.5 0h0m24.6 0h0m8.2 0h0m4.1 0h0m12.3 0h0m28.7 0h0m4.1 0h0m8.2 0h0m8.3 0h0m8.2 0h0m12.3 0h0m8.2 0h0m41 0h0m-207.2 3.6h0m4.1 0h0m4.1 0h0m28.7 0h0m8.2 0h0m12.3 0h0m4.1 0h0m12.3 0h0m4.1 0h0m12.4 0h0m8.2 0h0m12.3 0h0m8.2 0h0m4.1 0h0m8.2 0h0m4.1 0h0m4.1 0h0m8.2 0h0m24.6 0h0m16.5 0h0m-203.2 3.5h0m8.2 0h0m8.2 0h0m16.4 0h0m4.1 0h0m8.2 0h0m4.2 0h0m20.5 0h0m20.5 0h0m4.1 0h0m20.5 0h0m12.3 0h0m12.3 0h0m4.1 0h0m8.3 0h0m4.1 0h0m12.3 0h0m24.6 0h0m4.1 0h0m32.8 0h0m-219.5 3.6h0m4.1 0h0m8.2 0h0m20.5 0h0m4.1 0h0m12.3 0h0m8.2 0h0m32.9 0h0m8.2 0h0m4.1 0h0m28.7 0h0m16.4 0h0m57.5 0h0m12.3 0h0m4.1 0h0m-236 3.6h0m4.1 0h0m16.4 0h0m4.1 0h0m24.6 0h0m16.5 0h0m4.1 0h0m4.1 0h0m4.1 0h0m12.3 0h0m4.1 0h0m20.5 0h0m20.5 0h0m4.1 0h0m12.3 0h0m8.3 0h0m4.1 0h0m8.2 0h0m16.4 0h0m45.1 0h0m-223.6 3.6h0m24.6 0h0m8.2 0h0m16.4 0h0m4.1 0h0m12.3 0h0m16.4 0h0m8.2 0h0m12.4 0h0m4.1 0h0m12.3 0h0m4.1 0h0m16.4 0h0m4.1 0h0m4.1 0h0m12.3 0h0m8.2 0h0m20.5 0h0m41.1 0h0m8.2 0h0m-244.2 3.5h0m16.4 0h0m24.6 0h0m28.8 0h0m8.2 0h0m16.4 0h0m4.1 0h0m8.2 0h0m8.2 0h0m8.2 0h0m8.2 0h0m4.1 0h0m20.6 0h0m8.2 0h0m8.2 0h0m-145.7 3.6h0m4.1 0h0m4.1 0h0m4.1 0h0m41 0h0m4.1 0h0m41.1 0h0m4.1 0h0m4.1 0h0m4.1 0h0m24.6 0h0m16.4 0h0m65.7 0h0m-231.9 3.6h0m37 0h0m24.6 0h0m16.4 0h0m4.1 0h0m12.3 0h0m4.1 0h0m8.2 0h0m4.1 0h0m4.1 0h0m4.1 0h0m28.8 0h0m8.2 0h0m4.1 0h0m-158 3.5h0m4.1 0h0m20.5 0h0m16.4 0h0m4.1 0h0m8.2 0h0m4.1 0h0m20.5 0h0m4.1 0h0m16.5 0h0m12.3 0h0m8.2 0h0m49.2 0h0m8.2 0h0m45.2 0h0m-215.5 3.6h0m4.1 0h0m20.5 0h0m4.2 0h0m4.1 0h0m4.1 0h0m4.1 0h0m4.1 0h0m24.6 0h0m4.1 0h0m8.2 0h0m4.1 0h0m16.4 0h0m8.2 0h0m4.1 0h0m16.5 0h0m4.1 0h0m8.2 0h0m12.3 0h0m36.9 0h0m-186.7 3.6h0m20.5 0h0m4.1 0h0m8.2 0h0m8.2 0h0m8.2 0h0m8.2 0h0m24.7 0h0m4.1 0h0m12.3 0h0m8.2 0h0m8.2 0h0m24.6 0h0m57.5 0h0m-195 3.6h0m4.1 0h0m8.2 0h0m20.6 0h0m8.2 0h0m4.1 0h0m8.2 0h0m16.4 0h0m45.1 0h0m20.6 0h0m45.1 0h0m28.7 0h0m-211.3 3.5h0m4.1 0h0m32.8 0h0m8.2 0h0m90.3 0h0m61.6 0h0m-190.9 3.6h0m8.2 0h0m8.3 0h0m32.8 0h0m12.3 0h0m16.4 0h0m4.1 0h0m12.3 0h0m4.1 0h0m8.2 0h0m86.2 0h0m8.2 0h0m-211.3 3.6h0m12.3 0h0m8.2 0h0m20.5 0h0m32.8 0h0m8.3 0h0m8.2 0h0m4.1 0h0m20.5 0h0m41 0h0m24.7 0h0m-178.6 3.5h0m20.5 0h0m4.2 0h0m8.2 0h0m20.5 0h0m4.1 0h0m32.8 0h0m4.1 0h0m53.4 0h0m16.4 0h0m8.2 0h0m8.2 0h0m16.4 0h0m-174.4 3.6h0m12.3 0h0m8.2 0h0m16.4 0h0m4.1 0h0m24.7 0h0m16.4 0h0m24.6 0h0m32.8 0h0m-133.3 3.6h0m16.4 0h0m20.5 0h0m24.6 0h0m4.1 0h0m8.2 0h0m28.8 0h0m86.1 0h0m-186.7 3.6h0m16.4 0h0m4.1 0h0m4.1 0h0m4.1 0h0m16.5 0h0m24.6 0h0m4.1 0h0m-88.3 3.5h0m24.7 0h0m4.1 0h0m8.2 0h0m4.1 0h0m4.1 0h0m41 0h0m4.1 0h0m78 0h0m-178.5 3.6h0m45.1 0h0m4.1 0h0m8.2 0h0m4.1 0h0m12.4 0h0m8.2 0h0m4.1 0h0m57.4 0h0m12.3 0h0m28.8 0h0m-162.1 3.6h0m24.6 0h0m20.5 0h0m65.7 0h0m16.4 0h0m16.4 0h0m-121.1 3.5h0m8.2 0h0m12.3 0h0m16.5 0h0m8.2 0h0m4.1 0h0m8.2 0h0m32.8 0h0m4.1 0h0m12.3 0h0m32.9 0h0m12.3 0h0m12.3 0h0m-137.5 3.6h0m4.1 0h0m4.1 0h0m4.1 0h0m4.1 0h0m57.5 0h0m12.3 0h0m45.1 0h0m8.2 0h0m-194.9 3.6h0m36.9 0h0m12.3 0h0m12.4 0h0m16.4 0h0m8.2 0h0m98.5 0h0m-117 3.6h0m65.7 0h0m20.5 0h0m20.5 0h0m12.3 0h0m-178.5 3.5h0m32.8 0h0m24.7 0h0m12.3 0h0m12.3 0h0m24.6 0h0m4.1 0h0m8.2 0h0m-63.6 3.6h0m4.1 0h0m41.1 0h0m45.1 0h0m32.8 0h0m-125.1 3.6h0m8.2 0h0m4.1 0h0m12.3 0h0m16.4 0h0m8.2 0h0m53.4 0h0m28.7 0h0m-117 3.6h0m12.3 0h0m8.2 0h0m98.5 0h0m-71.8 3.5h0m65.7 0h0m-121.1 3.6h0m16.4 0h0m32.9 0h0m45.1 0h0m32.8 0h0m-84.1 3.6h0m16.4 0h0m4.1 0h0m53.4 0h0m-166.2 3.5h0m94.4 0h0m4.1 0h0m8.2 0h0m12.3 0h0m20.5 0h0m-75.9 3.6h0m53.3 0h0m8.2 0h0m20.6 0h0m-141.6 3.6h0m147.7 0h0m-71.8 3.6h0m20.5 0h0m20.5 0h0m-34.8 3.5h0m53.3 0h0m-51.3 3.6h0m45.1 0h0" stroke="#58BD86" stroke-width="4.1"/><path d="M106.8 67.3h0m30.8 3.6h0m49.2 0h0m18.5 3.5h0m20.5 0h0m-158 3.6h0m201.1 0h0m-166.2 3.6h0m32.8 0h0m41.1 0h0m-121.1 3.6h0m168.3 0h0m-166.3 3.5h0m-18.4 3.6h0m57.4 0h0m4.1 0h0m98.5 0h0m-149.8 3.6h0m176.5 0h0m8.2 0h0m-215.4 3.5h0m20.5 0h0m184.7 0h0m8.2 0h0m4.1 0h0m-137.5 3.6h0m139.5 0h0m4.1 0h0m-194.9 3.6h0m4.1 0h0m8.2 0h0m28.7 0h0m98.5 0h0m49.3 0h0m4.1 0h0m4.1 0h0m4.1 0h0m8.2 0h0m4.1 0h0m-211.4 3.6h0m12.4 0h0m180.5 0h0m4.1 0h0m8.2 0h0m8.2 0h0m4.2 0h0m-195 3.5h0m36.9 0h0m4.2 0h0m4.1 0h0m147.7 0h0m-256.5 3.6h0m28.7 0h0m201.1 0h0m12.3 0h0m12.3 0h0m-252.3 3.6h0m12.3 0h0m123.1 0h0m20.5 0h0m-158 3.6h0m172.4 0h0m-100.6 3.5h0m82.1 0h0m-153.9 3.6h0m16.4 0h0m16.4 0h0m61.6 0h0m57.4 0h0m16.5 0h0m65.6 0h0m-100.5 3.6h0m-117 3.5h0m4.1 0h0m94.4 0h0m94.4 0h0m-133.4 3.6h0m-55.4 3.6h0m119 0h0m65.7 0h0m-199 3.6h0m8.2 0h0m65.6 0h0m45.2 0h0m-59.5 3.5h0m98.5 0h0m4.1 0h0m45.1 0h0m-211.3 3.6h0m20.5 0h0m4.1 0h0m82.1 0h0m135.4 0h0m-223.7 3.6h0m57.5 0h0m32.8 0h0m41 0h0m12.4 0h0m-47.2 3.5h0m102.6 0h0m4.1 0h0m-133.4 3.6h0m12.3 0h0m24.6 0h0m20.5 0h0m53.4 0h0m-80 3.6h0m61.5 0h0m-47.2 3.6h0m12.3 0h0m28.8 0h0m16.4 0h0m20.5 0h0m8.2 0h0m-10.2 3.5h0m12.3 0h0m-219.6 3.6h0m147.7 0h0m37 0h0m4.1 0h0m12.3 0h0m4.1 0h0m8.2 0h0m16.4 0h0m-121 3.6h0m77.9 0h0m8.2 0h0m12.4 0h0m16.4 0h0m4.1 0h0m12.3 0h0m-145.7 3.5h0m45.1 0h0m8.2 0h0m49.3 0h0m8.2 0h0m12.3 0h0m12.3 0h0m4.1 0h0m-55.4 3.6h0m4.1 0h0m4.1 0h0m8.2 0h0m4.1 0h0m8.3 0h0m12.3 0h0m4.1 0h0m-207.3 3.6h0m168.3 0h0m16.4 0h0m12.3 0h0m16.4 0h0m8.2 0h0m4.1 0h0m-59.5 3.6h0m24.7 0h0m4.1 0h0m20.5 0h0m4.1 0h0m4.1 0h0m-108.8 3.5h0m49.3 0h0m8.2 0h0m53.3 0h0m-149.8 3.6h0m78 0h0m4.1 0h0m12.3 0h0m12.3 0h0m41.1 0h0m4.1 0h0m-141.6 3.6h0m69.8 0h0m32.8 0h0m12.3 0h0m8.2 0h0m8.2 0h0m-158 3.6h0m82.1 0h0m12.3 0h0m20.5 0h0m8.2 0h0m8.3 0h0m4.1 0h0m8.2 0h0m12.3 0h0m-55.4 3.5h0m8.2 0h0m4.1 0h0m4.1 0h0m8.2 0h0m12.3 0h0m4.1 0h0m4.1 0h0m16.4 0h0m-63.6 3.6h0m12.3 0h0m16.5 0h0m4.1 0h0m4.1 0h0m28.7 0h0m-178.5 3.6h0m82 0h0m20.6 0h0m16.4 0h0m8.2 0h0m4.1 0h0m12.3 0h0m8.2 0h0m24.6 0h0m-186.7 3.5h0m110.8 0h0m16.4 0h0m45.2 0h0m16.4 0h0m-67.7 3.6h0m12.3 0h0m4.1 0h0m4.1 0h0m12.3 0h0m20.5 0h0m12.3 0h0m-59.5 3.6h0m4.1 0h0m8.2 0h0m8.2 0h0m4.2 0h0m28.7 0h0m4.1 0h0m4.1 0h0m-231.9 3.6h0m143.7 0h0m8.2 0h0m12.3 0h0m4.1 0h0m4.1 0h0m20.5 0h0m4.1 0h0m12.3 0h0m4.1 0h0m8.2 0h0m4.1 0h0m-190.8 3.5h0m127.2 0h0m4.1 0h0m8.2 0h0m12.3 0h0m4.1 0h0m8.3 0h0m4.1 0h0m16.4 0h0m4.1 0h0m-96.5 3.6h0m28.8 0h0m8.2 0h0m28.7 0h0m4.1 0h0m4.1 0h0m20.5 0h0m12.3 0h0m-88.2 3.6h0m4.1 0h0m4.1 0h0m24.6 0h0m4.1 0h0m20.6 0h0m4.1 0h0m4.1 0h0m12.3 0h0m4.1 0h0m4.1 0h0m-84.1 3.5h0m8.2 0h0m4.1 0h0m12.3 0h0m12.3 0h0m20.5 0h0m12.3 0h0m8.2 0h0m4.1 0h0m4.1 0h0m-203.1 3.6h0m102.6 0h0m20.5 0h0m41.1 0h0m12.3 0h0m4.1 0h0m12.3 0h0m-80 3.6h0m16.4 0h0m12.3 0h0m12.3 0h0m8.2 0h0m8.2 0h0m4.1 0h0m4.1 0h0m16.4 0h0m-92.3 3.6h0m4.1 0h0m16.4 0h0m4.1 0h0m20.5 0h0m8.2 0h0m4.1 0h0m16.5 0h0m8.2 0h0m-162.1 3.5h0m86.1 0h0m4.2 0h0m4.1 0h0m4.1 0h0m8.2 0h0m8.2 0h0m4.1 0h0m16.4 0h0m4.1 0h0m12.3 0h0m4.1 0h0m4.1 0h0m12.3 0h0m4.1 0h0m-186.7 3.6h0m102.6 0h0m12.3 0h0m4.1 0h0m12.3 0h0m20.6 0h0m8.2 0h0m8.2 0h0m12.3 0h0m4.1 0h0m-96.5 3.6h0m8.2 0h0m4.2 0h0m4.1 0h0m4.1 0h0m12.3 0h0m28.7 0h0m20.5 0h0m8.2 0h0m8.2 0h0m-84.1 3.5h0m8.2 0h0m16.4 0h0m28.8 0h0m24.6 0h0m4.1 0h0m-203.2 3.6h0m12.3 0h0m82.1 0h0m4.1 0h0m4.1 0h0m8.2 0h0m4.1 0h0m4.2 0h0m4.1 0h0m8.2 0h0m4.1 0h0m28.7 0h0m8.2 0h0m16.4 0h0m4.1 0h0m-186.7 3.6h0m78 0h0m28.7 0h0m20.5 0h0m4.1 0h0m8.2 0h0m4.1 0h0m8.2 0h0m4.1 0h0m20.6 0h0m12.3 0h0m-158 3.6h0m53.3 0h0m12.3 0h0m20.6 0h0m4.1 0h0m12.3 0h0m4.1 0h0m12.3 0h0m4.1 0h0m12.3 0h0m4.1 0h0m4.1 0h0m12.3 0h0m4.1 0h0m12.3 0h0m-71.8 3.5h0m8.2 0h0m4.1 0h0m4.1 0h0m8.2 0h0m16.5 0h0m8.2 0h0m4.1 0h0m-96.5 3.6h0m4.1 0h0m20.6 0h0m12.3 0h0m12.3 0h0m16.4 0h0m4.1 0h0m8.2 0h0m4.1 0h0m20.5 0h0m-92.3 3.6h0m16.4 0h0m8.2 0h0m8.2 0h0m4.1 0h0m8.2 0h0m4.1 0h0m16.5 0h0m28.7 0h0m-137.5 3.6h0m32.8 0h0m12.3 0h0m8.2 0h0m12.4 0h0m28.7 0h0m4.1 0h0m12.3 0h0m8.2 0h0m4.1 0h0m8.2 0h0m12.3 0h0m-116.9 3.5h0m4.1 0h0m12.3 0h0m8.2 0h0m4.1 0h0m32.8 0h0m4.1 0h0m12.3 0h0m8.3 0h0m4.1 0h0m28.7 0h0m-117 3.6h0m12.3 0h0m4.1 0h0m32.9 0h0m8.2 0h0m4.1 0h0m16.4 0h0m12.3 0h0m4.1 0h0m8.2 0h0m4.1 0h0m4.1 0h0m-100.5 3.6h0m12.3 0h0m4.1 0h0m16.4 0h0m4.1 0h0m16.4 0h0m4.1 0h0m8.2 0h0m8.3 0h0m4.1 0h0m-67.8 3.5h0m4.1 0h0m20.6 0h0m8.2 0h0m4.1 0h0m32.8 0h0m-125.2 3.6h0m49.3 0h0m8.2 0h0m4.1 0h0m4.1 0h0m4.1 0h0m4.1 0h0m4.1 0h0m8.2 0h0m4.1 0h0m16.4 0h0m12.4 0h0m8.2 0h0m-92.4 3.6h0m20.5 0h0m4.1 0h0m4.2 0h0m4.1 0h0m4.1 0h0m12.3 0h0m4.1 0h0m8.2 0h0m4.1 0h0m-100.6 3.6h0m61.6 0h0m4.1 0h0m20.5 0h0m16.4 0h0m4.1 0h0m8.3 0h0m-80.1 3.5h0m32.9 0h0m8.2 0h0m4.1 0h0m8.2 0h0m8.2 0h0m4.1 0h0m-63.6 3.6h0m24.6 0h0m8.2 0h0m8.2 0h0m4.1 0h0m4.1 0h0m12.3 0h0m-34.8 3.6h0m4.1 0h0m8.2 0h0m4.1 0h0m8.2 0h0m-22.6 3.5h0m4.1 0h0m8.2 0h0m4.1 0h0m12.3 0h0" stroke="#7497D6" stroke-width="4.1"/><path d="M242.2 67.3h0m-24.6 7.1h0m36.9 0h0m-166.2 3.6h0m156 0h0m-22.6 3.6h0m-182.6 3.6h0m49.2 0h0m147.8 0h0m28.7 0h0m-211.4 3.5h0m24.7 0h0m16.4 0h0m-22.6 3.6h0m12.3 0h0m32.9 0h0m2 3.6h0m4.1 0h0m-96.4 3.5h0m2 3.6h0m32.9 0h0m24.6 0h0m65.6 0h0m115 0h0m-209.4 7.2h0m39 3.5h0m-39 3.6h0m90.3 0h0m-75.9 3.6h0m20.5 0h0m32.9 0h0m16.4 0h0m-92.4 3.6h0m28.8 0h0m28.7 0h0m-22.6 3.5h0m8.2 0h0m24.7 0h0m82 0h0m69.8 0h0m-170.3 3.6h0m57.4 0h0m-96.4 3.6h0m53.4 0h0m20.5 0h0m12.3 0h0m-96.5 3.5h0m45.2 0h0m8.2 0h0m-30.8 3.6h0m4.1 0h0m16.4 0h0m8.2 0h0m4.1 0h0m4.1 0h0m65.7 0h0m-100.5 3.6h0m82 0h0m16.5 0h0m-141.6 3.6h0m20.5 0h0m16.4 0h0m4.1 0h0m90.3 0h0m-100.5 3.5h0m24.6 0h0m4.1 0h0m16.4 0h0m45.1 0h0m-129.2 3.6h0m24.6 0h0m24.6 0h0m12.3 0h0m4.1 0h0m90.3 0h0m-158 3.6h0m20.5 0h0m12.3 0h0m20.6 0h0m41 0h0m-104.6 3.5h0m4.1 0h0m4.1 0h0m12.3 0h0m20.5 0h0m53.3 0h0m49.3 0h0m28.7 0h0m-170.3 3.6h0m4.1 0h0m8.2 0h0m4.1 0h0m12.3 0h0m4.1 0h0m8.2 0h0m16.5 0h0m57.4 0h0m20.5 0h0m24.7 0h0m-162.1 3.6h0m8.2 0h0m8.2 0h0m8.2 0h0m12.3 0h0m8.2 0h0m20.5 0h0m65.7 0h0m53.3 0h0m12.3 0h0m8.3 0h0m4.1 0h0m-195 3.6h0m16.4 0h0m4.1 0h0m4.1 0h0m32.9 0h0m12.3 0h0m12.3 0h0m20.5 0h0m41.1 0h0m12.3 0h0m16.4 0h0m-182.6 3.5h0m12.3 0h0m8.2 0h0m8.2 0h0m16.4 0h0m8.2 0h0m20.5 0h0m8.2 0h0m8.2 0h0m73.9 0h0m65.7 0h0m-236 3.6h0m20.5 0h0m8.2 0h0m8.2 0h0m16.5 0h0m8.2 0h0m36.9 0h0m20.5 0h0m65.7 0h0m16.4 0h0m-199 3.6h0m20.5 0h0m4.1 0h0m16.4 0h0m12.3 0h0m8.2 0h0m8.2 0h0m8.2 0h0m4.1 0h0m4.1 0h0m4.1 0h0m4.1 0h0m8.3 0h0m-100.6 3.5h0m20.5 0h0m24.6 0h0m4.2 0h0m32.8 0h0m8.2 0h0m16.4 0h0m8.2 0h0m98.5 0h0m28.7 0h0m4.1 0h0m-235.9 3.6h0m8.2 0h0m20.5 0h0m41 0h0m4.1 0h0m12.3 0h0m8.3 0h0m4.1 0h0m4.1 0h0m12.3 0h0m49.2 0h0m28.8 0h0m32.8 0h0m4.1 0h0m-240.1 3.6h0m20.5 0h0m12.3 0h0m8.2 0h0m4.1 0h0m4.2 0h0m12.3 0h0m8.2 0h0m12.3 0h0m12.3 0h0m16.4 0h0m8.2 0h0m20.5 0h0m-141.5 3.6h0m4.1 0h0m4.1 0h0m4.1 0h0m20.5 0h0m8.2 0h0m4.1 0h0m4.1 0h0m20.5 0h0m12.3 0h0m4.1 0h0m12.3 0h0m24.7 0h0m45.1 0h0m12.3 0h0m12.3 0h0m-194.9 3.5h0m8.2 0h0m49.3 0h0m8.2 0h0m4.1 0h0m16.4 0h0m16.4 0h0m4.1 0h0m4.1 0h0m12.3 0h0m4.1 0h0m61.6 0h0m32.8 0h0m4.1 0h0m-223.6 3.6h0m28.7 0h0m4.1 0h0m4.1 0h0m20.5 0h0m8.2 0h0m12.3 0h0m12.3 0h0m8.2 0h0m28.8 0h0m41 0h0m16.4 0h0m8.2 0h0m4.1 0h0m8.3 0h0m4.1 0h0m12.3 0h0m4.1 0h0m12.3 0h0m-227.8 3.6h0m16.4 0h0m8.2 0h0m4.1 0h0m12.4 0h0m8.2 0h0m49.2 0h0m12.3 0h0m-100.5 3.6h0m8.2 0h0m8.2 0h0m49.2 0h0m8.2 0h0m28.8 0h0m57.4 0h0m-166.2 3.5h0m12.3 0h0m8.2 0h0m12.3 0h0m8.3 0h0m8.2 0h0m12.3 0h0m12.3 0h0m4.1 0h0m12.3 0h0m8.2 0h0m8.2 0h0m20.5 0h0m4.1 0h0m82.1 0h0m-203.1 3.6h0m24.6 0h0m4.1 0h0m4.1 0h0m8.2 0h0m12.3 0h0m12.3 0h0m4.1 0h0m4.1 0h0m12.4 0h0m4.1 0h0m4.1 0h0m4.1 0h0m36.9 0h0m36.9 0h0m4.1 0h0m16.5 0h0m4.1 0h0m4.1 0h0m8.2 0h0m-215.5 3.6h0m12.3 0h0m4.1 0h0m4.1 0h0m20.6 0h0m8.2 0h0m4.1 0h0m82.1 0h0m45.1 0h0m12.3 0h0m12.3 0h0m8.2 0h0m-207.2 3.5h0m12.3 0h0m12.3 0h0m41 0h0m32.9 0h0m8.2 0h0m12.3 0h0m4.1 0h0m41 0h0m12.3 0h0m28.8 0h0m-199.1 3.6h0m8.2 0h0m32.9 0h0m12.3 0h0m16.4 0h0m12.3 0h0m4.1 0h0m4.1 0h0m24.6 0h0m37 0h0m53.3 0h0m-211.3 3.6h0m16.4 0h0m4.1 0h0m20.5 0h0m28.7 0h0m4.1 0h0m41.1 0h0m8.2 0h0m4.1 0h0m45.1 0h0m12.4 0h0m20.5 0h0m-203.2 3.6h0m20.5 0h0m12.4 0h0m20.5 0h0m12.3 0h0m49.2 0h0m-100.5 3.5h0m28.7 0h0m16.4 0h0m8.2 0h0m8.3 0h0m4.1 0h0m4.1 0h0m8.2 0h0m16.4 0h0m4.1 0h0m4.1 0h0m4.1 0h0m45.1 0h0m12.4 0h0m16.4 0h0m-182.7 3.6h0m8.2 0h0m8.3 0h0m4.1 0h0m4.1 0h0m4.1 0h0m4.1 0h0m8.2 0h0m8.2 0h0m4.1 0h0m8.2 0h0m4.1 0h0m20.5 0h0m45.2 0h0m20.5 0h0m-141.6 3.6h0m4.1 0h0m20.5 0h0m28.8 0h0m20.5 0h0m4.1 0h0m4.1 0h0m4.1 0h0m8.2 0h0m-104.7 3.5h0m4.1 0h0m20.6 0h0m8.2 0h0m4.1 0h0m16.4 0h0m8.2 0h0m24.6 0h0m12.3 0h0m8.2 0h0m8.3 0h0m-88.3 3.6h0m8.2 0h0m20.5 0h0m8.3 0h0m4.1 0h0m4.1 0h0m12.3 0h0m4.1 0h0m8.2 0h0m4.1 0h0m8.2 0h0m20.5 0h0m16.4 0h0m8.2 0h0m4.1 0h0m-149.8 3.6h0m4.2 0h0m16.4 0h0m8.2 0h0m8.2 0h0m4.1 0h0m12.3 0h0m32.8 0h0m4.1 0h0m4.1 0h0m4.1 0h0m4.1 0h0m12.4 0h0m12.3 0h0m4.1 0h0m20.5 0h0m8.2 0h0m16.4 0h0m4.1 0h0m12.3 0h0m-149.8 3.6h0m4.1 0h0m12.4 0h0m4.1 0h0m4.1 0h0m4.1 0h0m16.4 0h0m36.9 0h0m12.3 0h0m8.2 0h0m20.6 0h0m-137.5 3.5h0m16.4 0h0m20.5 0h0m4.1 0h0m4.1 0h0m4.1 0h0m20.5 0h0m-80 3.6h0m8.2 0h0m12.3 0h0m12.3 0h0m4.2 0h0m8.2 0h0m16.4 0h0m4.1 0h0m12.3 0h0m16.4 0h0m4.1 0h0m36.9 0h0m-125.1 3.6h0m8.2 0h0m8.2 0h0m12.3 0h0m4.1 0h0m8.2 0h0m16.4 0h0m45.2 0h0m32.8 0h0m4.1 0h0m-133.4 3.5h0m8.2 0h0m12.4 0h0m49.2 0h0m-55.4 3.6h0m4.1 0h0m86.2 0h0m24.6 0h0m4.1 0h0m4.1 0h0m-96.4 3.6h0m8.2 0h0m8.2 0h0m16.4 0h0m4.1 0h0m65.7 0h0m12.3 0h0m-141.6 3.6h0m4.1 0h0m4.1 0h0m4.1 0h0m36.9 0h0m73.9 0h0m-116.9 3.5h0m20.5 0h0m28.7 0h0m4.1 0h0m45.1 0h0m4.2 0h0m4.1 0h0m8.2 0h0m-108.8 3.6h0m12.3 0h0m4.1 0h0m37 0h0m8.2 0h0m16.4 0h0m28.7 0h0m4.1 0h0m-104.6 3.6h0m12.3 0h0m65.6 0h0m24.7 0h0m-96.5 3.6h0m12.3 0h0m32.9 0h0m12.3 0h0m8.2 0h0m45.1 0h0m4.1 0h0m-100.5 3.5h0m20.5 0h0m20.5 0h0m20.5 0h0m8.3 0h0m16.4 0h0m-67.7 3.6h0m4.1 0h0m-18.5 3.6h0m45.1 0h0m57.5 0h0m-100.6 3.5h0m16.5 0h0m32.8 0h0m8.2 0h0m20.5 0h0m-18.5 3.6h0m20.6 0h0m-80.1 3.6h0m65.7 0h0m4.1 0h0m-67.7 3.6h0m41 0h0m16.4 0h0m8.3 0h0m-59.6 3.5h0m45.2 0h0m-12.3 7.2h0m4.1 0h0" stroke="#DCD6DD" stroke-width="4.1"/><path d="M201.2 67.3h0m36.9 0h0m28.8 0h0m-67.8 3.6h0m12.3 0h0m24.7 0h0m8.2 0h0m4.1 0h0m4.1 0h0m12.3 0h0m-186.7 3.5h0m131.3 0h0m28.7 0h0m4.1 0h0m24.7 0h0m-59.6 3.6h0m4.1 0h0m4.2 0h0m4.1 0h0m32.8 0h0m12.3 0h0m-219.6 3.6h0m168.3 0h0m4.1 0h0m12.3 0h0m4.1 0h0m8.2 0h0m12.3 0h0m12.4 0h0m-207.3 3.6h0m20.5 0h0m135.5 0h0m4.1 0h0m8.2 0h0m4.1 0h0m8.2 0h0m4.1 0h0m8.2 0h0m4.1 0h0m12.3 0h0m-244.2 3.5h0m205.2 0h0m12.3 0h0m8.2 0h0m16.5 0h0m-231.9 3.6h0m16.4 0h0m53.3 0h0m4.1 0h0m119.1 0h0m16.4 0h0m12.3 0h0m4.1 0h0m8.2 0h0m-244.2 3.6h0m8.2 0h0m8.2 0h0m24.7 0h0m24.6 0h0m4.1 0h0m147.7 0h0m12.3 0h0m-186.7 3.5h0m8.2 0h0m20.5 0h0m12.3 0h0m4.2 0h0m135.4 0h0m12.3 0h0m4.1 0h0m4.1 0h0m-194.9 3.6h0m36.9 0h0m143.6 0h0m-240 3.6h0m-2.1 3.6h0m82.1 0h0m-47.2 3.5h0m-6.2 3.6h0m24.7 0h0m20.5 0h0m-6.2 3.6h0m49.3 0h0m-67.7 10.7h0m24.6 0h0m53.3 0h0m-88.2 3.6h0m41 0h0m-30.7 3.5h0m12.3 0h0m39 3.6h0m36.9 0h0m18.5 3.6h0m-67.8 3.6h0m-92.3 3.5h0m32.8 0h0m8.2 0h0m115 0h0m-121.1 3.6h0m16.4 0h0m61.6 0h0m65.6 0h0m-149.8 3.6h0m12.3 0h0m8.2 0h0m53.4 0h0m90.3 0h0m-166.2 3.5h0m4.1 0h0m4.1 0h0m24.6 0h0m4.1 0h0m139.5 0h0m-162.1 3.6h0m131.4 0h0m8.2 0h0m4.1 0h0m-178.5 3.6h0m94.3 0h0m61.6 0h0m32.8 0h0m-149.8 3.6h0m24.7 0h0m12.3 0h0m102.6 0h0m12.3 0h0m4.1 0h0m8.2 0h0m-137.5 3.5h0m20.5 0h0m12.4 0h0m8.2 0h0m82 0h0m4.1 0h0m4.1 0h0m28.8 0h0m-149.8 3.6h0m4.1 0h0m28.7 0h0m45.2 0h0m36.9 0h0m32.8 0h0m-215.4 3.6h0m45.1 0h0m65.7 0h0m28.7 0h0m16.4 0h0m24.6 0h0m8.2 0h0m12.4 0h0m4.1 0h0m20.5 0h0m8.2 0h0m-219.6 3.5h0m73.9 0h0m4.1 0h0m61.6 0h0m8.2 0h0m4.1 0h0m4.1 0h0m20.5 0h0m24.6 0h0m-194.9 3.6h0m45.1 0h0m16.4 0h0m41.1 0h0m8.2 0h0m16.4 0h0m8.2 0h0m45.2 0h0m4.1 0h0m12.3 0h0m16.4 0h0m-240.1 3.6h0m4.1 0h0m20.5 0h0m98.5 0h0m41.1 0h0m8.2 0h0m41 0h0m28.7 0h0m-211.3 3.6h0m20.5 0h0m139.5 0h0m4.1 0h0m20.6 0h0m4.1 0h0m4.1 0h0m16.4 0h0m-223.7 3.5h0m4.1 0h0m61.6 0h0m49.2 0h0m24.7 0h0m41 0h0m8.2 0h0m4.1 0h0m12.3 0h0m8.2 0h0m-231.8 3.6h0m16.4 0h0m53.3 0h0m8.2 0h0m4.1 0h0m32.9 0h0m4.1 0h0m28.7 0h0m12.3 0h0m49.3 0h0m-170.4 3.6h0m37 0h0m16.4 0h0m20.5 0h0m8.2 0h0m4.1 0h0m16.4 0h0m37 0h0m8.2 0h0m4.1 0h0m4.1 0h0m4.1 0h0m12.3 0h0m8.2 0h0m16.4 0h0m-227.7 3.6h0m41 0h0m28.7 0h0m57.5 0h0m45.1 0h0m4.1 0h0m16.5 0h0m20.5 0h0m-203.2 3.5h0m8.2 0h0m151.9 0h0m16.4 0h0m8.2 0h0m24.6 0h0m4.1 0h0m-190.8 3.6h0m28.7 0h0m69.8 0h0m28.7 0h0m-149.8 3.6h0m57.5 0h0m20.5 0h0m16.4 0h0m20.5 0h0m49.3 0h0m16.4 0h0m16.4 0h0m8.2 0h0m8.2 0h0m8.2 0h0m-141.5 3.5h0m4.1 0h0m45.1 0h0m4.1 0h0m16.4 0h0m24.6 0h0m8.3 0h0m28.7 0h0m-215.5 3.6h0m61.6 0h0m61.5 0h0m20.6 0h0m8.2 0h0m28.7 0h0m4.1 0h0m16.4 0h0m4.1 0h0m8.2 0h0m12.3 0h0m-211.3 3.6h0m86.2 0h0m4.1 0h0m8.2 0h0m41 0h0m4.1 0h0m12.3 0h0m24.7 0h0m8.2 0h0m-182.7 3.6h0m28.8 0h0m36.9 0h0m4.1 0h0m4.1 0h0m4.1 0h0m4.1 0h0m37 0h0m28.7 0h0m8.2 0h0m4.1 0h0m16.4 0h0m12.3 0h0m16.4 0h0m-145.7 3.5h0m32.9 0h0m20.5 0h0m4.1 0h0m12.3 0h0m12.3 0h0m57.5 0h0m-162.1 3.6h0m73.8 0h0m8.3 0h0m4.1 0h0m20.5 0h0m12.3 0h0m20.5 0h0m4.1 0h0m-162.1 3.6h0m4.1 0h0m16.4 0h0m73.9 0h0m16.4 0h0m4.1 0h0m4.1 0h0m24.6 0h0m24.7 0h0m-137.5 3.5h0m41 0h0m20.5 0h0m12.4 0h0m24.6 0h0m16.4 0h0m28.7 0h0m-149.8 3.6h0m37 0h0m32.8 0h0m8.2 0h0m12.3 0h0m4.1 0h0m4.1 0h0m20.5 0h0m8.3 0h0m4.1 0h0m16.4 0h0m12.3 0h0m-162.1 3.6h0m16.4 0h0m16.4 0h0m12.3 0h0m41.1 0h0m20.5 0h0m45.1 0h0m-166.2 3.6h0m32.8 0h0m24.7 0h0m28.7 0h0m4.1 0h0m4.1 0h0m16.4 0h0m4.1 0h0m28.8 0h0m12.3 0h0m8.2 0h0m4.1 0h0m4.1 0h0m4.1 0h0m-141.6 3.5h0m8.2 0h0m65.7 0h0m32.8 0h0m36.9 0h0m-121 3.6h0m12.3 0h0m12.3 0h0m4.1 0h0m41 0h0m16.5 0h0m16.4 0h0m-129.3 3.6h0m16.4 0h0m8.2 0h0m4.1 0h0m12.3 0h0m32.9 0h0m16.4 0h0m20.5 0h0m20.5 0h0m8.2 0h0m8.2 0h0m-137.4 3.5h0m36.9 0h0m32.8 0h0m12.3 0h0m8.2 0h0m4.1 0h0m12.4 0h0m8.2 0h0m4.1 0h0m-133.4 3.6h0m69.8 0h0m20.5 0h0m12.3 0h0m8.2 0h0m28.7 0h0m8.2 0h0m-149.8 3.6h0m53.4 0h0m8.2 0h0m12.3 0h0m12.3 0h0m24.6 0h0m4.2 0h0m4.1 0h0m4.1 0h0m-92.4 3.6h0m12.3 0h0m16.4 0h0m4.2 0h0m12.3 0h0m4.1 0h0m69.7 0h0m-133.3 3.5h0m12.3 0h0m24.6 0h0m16.4 0h0m73.9 0h0m8.2 0h0m-104.7 3.6h0m4.1 0h0m86.2 0h0m16.4 0h0m-100.5 3.6h0m53.3 0h0m28.8 0h0m4.1 0h0m8.2 0h0m-84.1 3.6h0m4.1 0h0m12.3 0h0m4.1 0h0m8.2 0h0m16.4 0h0m24.6 0h0m-63.6 3.5h0m4.1 0h0m69.8 0h0m-104.7 3.6h0m16.4 0h0m24.7 0h0m8.2 0h0m12.3 0h0m16.4 0h0m-10.3 3.6h0m24.7 0h0m16.4 0h0m-43.1 3.5h0m8.2 0h0m20.5 0h0m-80 3.6h0m61.6 0h0m20.5 0h0m-43.1 3.6h0m20.5 0h0m12.3 0h0m-34.9 3.6h0m-18.4 3.5h0m36.9 0h0m12.3 0h0m-63.6 3.6h0m36.9 0h0m8.2 0h0m-30.7 3.6h0m28.7 0h0m4.1 0h0m-18.5 3.5h0" stroke="#65149C" stroke-width="4.1"/></g></g><g transform="translate(1850,168)"><use href="#tb"/><g fill="none" stroke-linecap="round"><path d="M209.4 67.3h0m28.7 0h0m8.2 0h0m8.2 0h0m4.1 0h0m4.1 0h0m4.2 0h0m-47.2 3.6h0m12.3 0h0m8.2 0h0m4.1 0h0m12.3 0h0m4.1 0h0m-223.7 3.5h0m164.2 0h0m4.1 0h0m8.2 0h0m4.1 0h0m16.4 0h0m8.2 0h0m4.1 0h0m8.2 0h0m-43.1 3.6h0m12.4 0h0m4.1 0h0m12.3 0h0m12.3 0h0m4.1 0h0m4.1 0h0m4.1 0h0m4.1 0h0m-207.2 3.6h0m168.2 0h0m4.1 0h0m8.2 0h0m4.1 0h0m4.1 0h0m-178.5 3.6h0m151.9 0h0m8.2 0h0m4.1 0h0m4.1 0h0m16.4 0h0m-227.8 3.5h0m217.5 0h0m4.1 0h0m-219.5 3.6h0m8.2 0h0m49.2 0h0m156 0h0m4.1 0h0m8.2 0h0m8.2 0h0m-207.3 3.6h0m37 0h0m164.1 0h0m-223.6 3.5h0m49.2 0h0m164.2 0h0m12.3 0h0m-194.9 3.6h0m24.6 0h0m-43.1 3.6h0m45.1 0h0m-59.5 3.6h0m73.9 0h0m6.2 3.5h0m-80.1 3.6h0m12.3 0h0m49.3 0h0m-43.1 3.6h0m36.9 0h0m-26.6 10.7h0m12.3 0h0m57.4 0h0m-71.8 3.6h0m61.6 0h0m-51.3 3.5h0m-39 3.6h0m82.1 0h0m-18.5 3.6h0m4.1 0h0m32.8 0h0m28.7 0h0m102.6 0h0m-227.7 3.6h0m28.7 0h0m69.8 0h0m36.9 0h0m-104.6 3.5h0m28.7 0h0m41 0h0m-84.1 3.6h0m16.4 0h0m32.8 0h0m8.2 0h0m41.1 0h0m-117 3.6h0m123.1 0h0m-104.6 3.5h0m36.9 0h0m16.4 0h0m12.4 0h0m8.2 0h0m28.7 0h0m-96.5 3.6h0m28.8 0h0m4.1 0h0m41 0h0m37 0h0m-34.9 3.6h0m77.9 0h0m-199 3.6h0m8.2 0h0m98.5 0h0m90.3 0h0m-170.3 3.5h0m8.2 0h0m12.3 0h0m4.1 0h0m119 0h0m-166.2 3.6h0m8.2 0h0m86.2 0h0m102.6 0h0m-199 3.6h0m123.1 0h0m49.2 0h0m8.2 0h0m8.2 0h0m32.9 0h0m-227.8 3.5h0m4.1 0h0m8.2 0h0m4.1 0h0m94.4 0h0m24.6 0h0m90.3 0h0m12.3 0h0m12.3 0h0m-235.9 3.6h0m32.8 0h0m69.8 0h0m16.4 0h0m69.7 0h0m12.4 0h0m24.6 0h0m8.2 0h0m-244.2 3.6h0m32.8 0h0m20.6 0h0m8.2 0h0m32.8 0h0m16.4 0h0m4.1 0h0m45.2 0h0m53.3 0h0m4.1 0h0m4.1 0h0m4.1 0h0m-186.7 3.6h0m106.7 0h0m-145.7 3.5h0m151.9 0h0m28.7 0h0m4.1 0h0m16.4 0h0m36.9 0h0m4.1 0h0m-235.9 3.6h0m94.4 0h0m90.2 0h0m8.2 0h0m20.6 0h0m-178.6 3.6h0m45.2 0h0m20.5 0h0m69.8 0h0m28.7 0h0m8.2 0h0m16.4 0h0m4.1 0h0m4.1 0h0m-199 3.6h0m98.5 0h0m53.3 0h0m20.6 0h0m20.5 0h0m-227.8 3.5h0m8.2 0h0m20.5 0h0m41.1 0h0m4.1 0h0m16.4 0h0m12.3 0h0m12.3 0h0m53.4 0h0m8.2 0h0m20.5 0h0m4.1 0h0m8.2 0h0m12.3 0h0m8.2 0h0m8.2 0h0m-170.3 3.6h0m28.8 0h0m8.2 0h0m16.4 0h0m28.7 0h0m53.4 0h0m4.1 0h0m20.5 0h0m-125.2 3.6h0m57.5 0h0m8.2 0h0m8.2 0h0m8.2 0h0m4.1 0h0m24.6 0h0m4.1 0h0m-158 3.5h0m8.2 0h0m32.9 0h0m24.6 0h0m49.2 0h0m4.1 0h0m4.1 0h0m8.2 0h0m24.7 0h0m4.1 0h0m4.1 0h0m-195 3.6h0m28.8 0h0m32.8 0h0m69.8 0h0m45.1 0h0m4.1 0h0m4.1 0h0m8.2 0h0m4.1 0h0m8.2 0h0m-166.2 3.6h0m32.9 0h0m12.3 0h0m49.2 0h0m20.5 0h0m12.3 0h0m8.3 0h0m4.1 0h0m8.2 0h0m-158 3.6h0m24.6 0h0m28.7 0h0m4.1 0h0m28.7 0h0m8.3 0h0m4.1 0h0m4.1 0h0m36.9 0h0m-170.3 3.5h0m16.4 0h0m20.5 0h0m90.3 0h0m78 0h0m-203.2 3.6h0m24.7 0h0m77.9 0h0m32.9 0h0m16.4 0h0m4.1 0h0m4.1 0h0m8.2 0h0m12.3 0h0m12.3 0h0m16.4 0h0m-116.9 3.6h0m45.1 0h0m4.1 0h0m16.4 0h0m28.8 0h0m4.1 0h0m-117 3.5h0m16.4 0h0m24.6 0h0m4.2 0h0m49.2 0h0m4.1 0h0m8.2 0h0m4.1 0h0m8.2 0h0m12.3 0h0m4.1 0h0m-186.7 3.6h0m20.5 0h0m37 0h0m36.9 0h0m16.4 0h0m37 0h0m8.2 0h0m4.1 0h0m12.3 0h0m-137.5 3.6h0m8.2 0h0m28.7 0h0m16.4 0h0m28.8 0h0m8.2 0h0m-125.2 3.6h0m41 0h0m8.3 0h0m16.4 0h0m24.6 0h0m12.3 0h0m16.4 0h0m8.2 0h0m8.2 0h0m20.6 0h0m16.4 0h0m-158 3.5h0m61.5 0h0m28.8 0h0m16.4 0h0m8.2 0h0m4.1 0h0m-117 3.6h0m16.4 0h0m65.7 0h0m16.4 0h0m8.2 0h0m20.5 0h0m32.9 0h0m-108.8 3.6h0m4.1 0h0m4.1 0h0m4.1 0h0m12.3 0h0m4.2 0h0m4.1 0h0m8.2 0h0m16.4 0h0m12.3 0h0m28.7 0h0m4.1 0h0m-129.3 3.5h0m4.2 0h0m32.8 0h0m24.6 0h0m4.1 0h0m12.3 0h0m12.3 0h0m4.1 0h0m20.6 0h0m4.1 0h0m4.1 0h0m-96.5 3.6h0m12.3 0h0m28.8 0h0m8.2 0h0m28.7 0h0m8.2 0h0m4.1 0h0m12.3 0h0m12.3 0h0m-92.3 3.6h0m4.1 0h0m24.6 0h0m4.1 0h0m8.2 0h0m4.1 0h0m16.5 0h0m16.4 0h0m12.3 0h0m-88.3 3.6h0m41.1 0h0m49.2 0h0m-121 3.5h0m12.3 0h0m4.1 0h0m28.7 0h0m24.6 0h0m8.2 0h0m4.1 0h0m4.2 0h0m28.7 0h0m4.1 0h0m-125.2 3.6h0m16.4 0h0m4.1 0h0m4.1 0h0m8.2 0h0m4.1 0h0m12.4 0h0m4.1 0h0m4.1 0h0m8.2 0h0m8.2 0h0m16.4 0h0m8.2 0h0m4.1 0h0m8.2 0h0m16.4 0h0m-112.8 3.6h0m20.5 0h0m12.3 0h0m20.5 0h0m16.4 0h0m8.3 0h0m12.3 0h0m24.6 0h0m-170.3 3.6h0m49.2 0h0m8.2 0h0m4.1 0h0m12.3 0h0m12.4 0h0m8.2 0h0m4.1 0h0m16.4 0h0m8.2 0h0m8.2 0h0m28.7 0h0m4.1 0h0m4.1 0h0m-121 3.5h0m36.9 0h0m12.3 0h0m4.1 0h0m28.7 0h0m37 0h0m4.1 0h0m-145.7 3.6h0m41 0h0m8.2 0h0m16.5 0h0m8.2 0h0m8.2 0h0m28.7 0h0m4.1 0h0m8.2 0h0m4.1 0h0m16.4 0h0m-104.6 3.6h0m28.7 0h0m16.4 0h0m16.4 0h0m4.1 0h0m4.2 0h0m36.9 0h0m-125.2 3.5h0m32.8 0h0m49.3 0h0m8.2 0h0m-39 3.6h0m8.2 0h0m12.3 0h0m24.7 0h0m8.2 0h0m-71.9 3.6h0m4.2 0h0m12.3 0h0m8.2 0h0m20.5 0h0m14.4 3.6h0m-63.7 3.5h0m4.1 0h0m28.8 0h0m12.3 0h0m4.1 0h0m8.2 0h0m8.2 0h0m-63.6 3.6h0m4.1 0h0m8.2 0h0m12.3 0h0m12.3 0h0m16.4 0h0m-22.5 3.6h0m4.1 0h0m12.3 0h0m-26.7 3.5h0m16.4 0h0" stroke="#F46E70" stroke-width="4.1"/><path d="M49.3 67.3h0m123.2 0h0m8.2 0h0m4.1 0h0m-10.3 3.6h0m8.2 0h0m4.1 0h0m16.4 0h0m49.3 0h0m-67.7 3.5h0m36.9 0h0m4.1 0h0m-47.2 3.6h0m4.1 0h0m12.3 0h0m8.2 0h0m-145.7 3.6h0m135.5 0h0m2 3.6h0m4.1 0h0m12.3 0h0m4.2 0h0m4.1 0h0m24.6 0h0m4.1 0h0m-51.3 3.5h0m4.1 0h0m4.1 0h0m4.1 0h0m4.1 0h0m-18.5 3.6h0m8.2 0h0m4.1 0h0m20.6 0h0m-80.1 3.6h0m45.2 0h0m4.1 0h0m4.1 0h0m4.1 0h0m8.2 0h0m12.3 0h0m8.2 0h0m4.1 0h0m12.3 0h0m-47.2 3.5h0m24.7 0h0m12.3 0h0m4.1 0h0m12.3 0h0m-215.5 3.6h0m156 0h0m8.2 0h0m12.3 0h0m8.2 0h0m4.1 0h0m4.1 0h0m20.5 0h0m4.1 0h0m4.1 0h0m4.2 0h0m-236 3.6h0m184.7 0h0m4.1 0h0m8.2 0h0m8.2 0h0m4.1 0h0m20.5 0h0m-248.3 3.6h0m205.2 0h0m20.5 0h0m4.1 0h0m4.1 0h0m8.2 0h0m12.4 0h0m-240.1 3.5h0m205.2 0h0m4.1 0h0m16.4 0h0m4.1 0h0m4.1 0h0m-141.6 3.6h0m110.8 0h0m4.1 0h0m4.1 0h0m12.3 0h0m4.1 0h0m4.1 0h0m-225.7 7.2h0m201.1 0h0m8.2 0h0m4.1 0h0m-227.7 3.5h0m119 0h0m98.5 0h0m12.3 0h0m-195 3.6h0m-43 3.6h0m94.3 0h0m78 0h0m65.7 0h0m14.3 3.5h0m-244.1 3.6h0m8.2 0h0m139.5 0h0m98.5 0h0m-215.5 3.6h0m8.2 0h0m-45.1 7.1h0m12.3 0h0m4.1 0h0m24.6 0h0m10.3 3.6h0m53.4 0h0m123.1 0h0m-182.7 3.6h0m20.6 0h0m-59.5 3.5h0m49.2 0h0m4.1 0h0m4.1 0h0m8.2 0h0m-63.6 3.6h0m28.7 0h0m6.2 3.6h0m-30.8 3.6h0m24.6 0h0m16.5 0h0m12.3 0h0m135.4 0h0m36.9 0h0m-145.7 3.5h0m41.1 0h0m-71.8 3.6h0m34.8 3.6h0m8.3 0h0m8.2 0h0m24.6 0h0m82.1 0h0m-215.5 3.5h0m41 0h0m4.2 0h0m16.4 0h0m10.2 3.6h0m147.8 0h0m-219.6 3.6h0m12.3 0h0m28.7 0h0m20.6 0h0m8.2 0h0m110.8 0h0m24.6 0h0m24.6 0h0m4.1 0h0m-219.5 3.6h0m16.4 0h0m8.2 0h0m4.1 0h0m12.3 0h0m4.1 0h0m16.4 0h0m106.7 0h0m45.2 0h0m8.2 0h0m-219.6 3.5h0m41.1 0h0m8.2 0h0m45.1 0h0m110.8 0h0m-211.3 3.6h0m8.2 0h0m4.1 0h0m20.5 0h0m16.4 0h0m16.4 0h0m24.7 0h0m20.5 0h0m24.6 0h0m36.9 0h0m20.6 0h0m16.4 0h0m4.1 0h0m4.1 0h0m12.3 0h0m-236 3.6h0m4.1 0h0m8.2 0h0m8.2 0h0m28.8 0h0m16.4 0h0m45.1 0h0m69.8 0h0m4.1 0h0m32.8 0h0m-166.2 3.6h0m65.7 0h0m8.2 0h0m73.9 0h0m-190.9 3.5h0m28.7 0h0m20.6 0h0m24.6 0h0m73.9 0h0m32.8 0h0m32.8 0h0m-219.5 3.6h0m16.4 0h0m41 0h0m12.3 0h0m8.2 0h0m4.1 0h0m20.6 0h0m4.1 0h0m32.8 0h0m36.9 0h0m4.1 0h0m12.4 0h0m20.5 0h0m-166.2 3.6h0m4.1 0h0m4.1 0h0m4.1 0h0m20.5 0h0m69.8 0h0m45.1 0h0m4.1 0h0m20.5 0h0m-211.3 3.5h0m49.2 0h0m16.4 0h0m32.9 0h0m53.3 0h0m37 0h0m-153.9 3.6h0m12.3 0h0m8.2 0h0m65.6 0h0m4.1 0h0m24.7 0h0m24.6 0h0m28.7 0h0m-207.2 3.6h0m4.1 0h0m61.5 0h0m53.4 0h0m12.3 0h0m36.9 0h0m12.3 0h0m8.3 0h0m-195 3.6h0m28.7 0h0m8.2 0h0m123.2 0h0m20.5 0h0m24.6 0h0m24.6 0h0m-211.3 3.5h0m8.2 0h0m24.6 0h0m28.7 0h0m32.9 0h0m61.5 0h0m24.7 0h0m12.3 0h0m4.1 0h0m-112.9 3.6h0m16.4 0h0m45.2 0h0m8.2 0h0m-129.3 3.6h0m32.8 0h0m8.2 0h0m4.1 0h0m24.7 0h0m61.5 0h0m16.4 0h0m4.2 0h0m-145.7 3.5h0m8.2 0h0m12.3 0h0m20.5 0h0m12.3 0h0m28.7 0h0m24.7 0h0m20.5 0h0m4.1 0h0m-100.6 3.6h0m65.7 0h0m8.2 0h0m8.2 0h0m4.1 0h0m45.2 0h0m4.1 0h0m8.2 0h0m-182.6 3.6h0m28.7 0h0m4.1 0h0m57.4 0h0m45.2 0h0m28.7 0h0m-178.5 3.6h0m45.1 0h0m61.6 0h0m8.2 0h0m12.3 0h0m16.4 0h0m20.5 0h0m24.7 0h0m16.4 0h0m-153.9 3.5h0m8.2 0h0m61.6 0h0m-108.8 3.6h0m4.1 0h0m90.3 0h0m8.2 0h0m57.5 0h0m16.4 0h0m-190.9 3.6h0m41.1 0h0m65.6 0h0m20.6 0h0m8.2 0h0m28.7 0h0m8.2 0h0m12.3 0h0m-186.7 3.5h0m4.1 0h0m28.7 0h0m73.9 0h0m4.1 0h0m53.3 0h0m28.8 0h0m8.2 0h0m-199.1 3.6h0m12.3 0h0m4.2 0h0m28.7 0h0m16.4 0h0m4.1 0h0m4.1 0h0m36.9 0h0m16.5 0h0m28.7 0h0m4.1 0h0m-149.8 3.6h0m90.3 0h0m32.8 0h0m41.1 0h0m8.2 0h0m8.2 0h0m12.3 0h0m8.2 0h0m-195 3.6h0m41.1 0h0m24.6 0h0m28.7 0h0m41.1 0h0m24.6 0h0m28.7 0h0m-190.8 3.5h0m8.2 0h0m4.1 0h0m45.2 0h0m24.6 0h0m20.5 0h0m4.1 0h0m4.1 0h0m16.4 0h0m12.3 0h0m24.7 0h0m-153.9 3.6h0m8.2 0h0m61.5 0h0m16.4 0h0m53.4 0h0m32.8 0h0m-116.9 3.6h0m32.8 0h0m8.2 0h0m73.9 0h0m-166.2 3.6h0m24.6 0h0m53.3 0h0m4.1 0h0m20.6 0h0m28.7 0h0m20.5 0h0m4.1 0h0m8.2 0h0m-153.9 3.5h0m4.1 0h0m8.2 0h0m12.3 0h0m53.4 0h0m4.1 0h0m12.3 0h0m20.5 0h0m4.1 0h0m4.1 0h0m20.6 0h0m16.4 0h0m-174.4 3.6h0m4.1 0h0m4.1 0h0m4.1 0h0m8.2 0h0m8.2 0h0m8.2 0h0m8.2 0h0m49.2 0h0m-92.3 3.6h0m16.4 0h0m16.4 0h0m4.1 0h0m12.4 0h0m32.8 0h0m69.8 0h0m12.3 0h0m-153.9 3.5h0m4.1 0h0m4.1 0h0m24.6 0h0m4.1 0h0m4.1 0h0m4.1 0h0m12.3 0h0m8.2 0h0m12.3 0h0m20.6 0h0m8.2 0h0m20.5 0h0m8.2 0h0m-129.3 3.6h0m8.2 0h0m16.4 0h0m24.7 0h0m20.5 0h0m61.6 0h0m-129.3 3.6h0m16.4 0h0m4.1 0h0m12.3 0h0m8.2 0h0m4.1 0h0m4.1 0h0m-39 3.6h0m4.1 0h0m32.9 0h0m12.3 0h0m12.3 0h0m12.3 0h0m12.3 0h0m20.5 0h0m8.2 0h0m-75.9 3.5h0m12.3 0h0m4.1 0h0m45.2 0h0m-63.6 3.6h0m12.3 0h0m69.8 0h0m-80.1 3.6h0m4.1 0h0m24.7 0h0m16.4 0h0m-14.4 3.5h0" stroke="#F9B71A" stroke-width="4.1"/><path d="M41.1 67.3h0m4.1 0h0m8.2 0h0m4.1 0h0m8.3 0h0m4.1 0h0m12.3 0h0m4.1 0h0m4.1 0h0m4.1 0h0m4.1 0h0m16.4 0h0m8.2 0h0m8.2 0h0m24.6 0h0m8.3 0h0m12.3 0h0m12.3 0h0m-149.8 3.6h0m4.1 0h0m4.1 0h0m4.1 0h0m4.1 0h0m8.2 0h0m8.2 0h0m4.1 0h0m4.1 0h0m4.1 0h0m12.3 0h0m4.1 0h0m4.1 0h0m32.9 0h0m8.2 0h0m4.1 0h0m8.2 0h0m8.2 0h0m4.1 0h0m8.2 0h0m12.3 0h0m-149.8 3.5h0m4.1 0h0m4.1 0h0m4.1 0h0m4.1 0h0m4.2 0h0m4.1 0h0m4.1 0h0m12.3 0h0m4.1 0h0m4.1 0h0m8.2 0h0m32.8 0h0m4.1 0h0m12.3 0h0m12.3 0h0m4.2 0h0m4.1 0h0m8.2 0h0m4.1 0h0m12.3 0h0m-149.8 3.6h0m4.1 0h0m12.3 0h0m8.2 0h0m4.1 0h0m4.1 0h0m4.1 0h0m4.1 0h0m4.1 0h0m4.1 0h0m8.2 0h0m4.1 0h0m4.1 0h0m20.6 0h0m4.1 0h0m12.3 0h0m4.1 0h0m4.1 0h0m4.1 0h0m4.1 0h0m4.1 0h0m4.1 0h0m4.1 0h0m12.3 0h0m4.1 0h0m-137.5 3.6h0m12.4 0h0m4.1 0h0m4.1 0h0m4.1 0h0m4.1 0h0m4.1 0h0m4.1 0h0m4.1 0h0m4.1 0h0m4.1 0h0m4.1 0h0m24.6 0h0m4.1 0h0m16.4 0h0m4.1 0h0m12.4 0h0m4.1 0h0m4.1 0h0m8.2 0h0m4.1 0h0m8.2 0h0m4.1 0h0m4.1 0h0m-129.3 3.6h0m8.2 0h0m4.1 0h0m4.1 0h0m4.1 0h0m4.1 0h0m4.1 0h0m4.1 0h0m4.2 0h0m8.2 0h0m4.1 0h0m28.7 0h0m4.1 0h0m4.1 0h0m8.2 0h0m8.2 0h0m4.1 0h0m4.1 0h0m4.1 0h0m-108.7 3.5h0m4.1 0h0m8.2 0h0m4.1 0h0m4.1 0h0m4.1 0h0m20.5 0h0m45.2 0h0m8.2 0h0m4.1 0h0m8.2 0h0m28.7 0h0m-129.3 3.6h0m4.1 0h0m8.2 0h0m4.1 0h0m4.2 0h0m4.1 0h0m4.1 0h0m8.2 0h0m20.5 0h0m32.8 0h0m8.2 0h0m8.2 0h0m16.5 0h0m4.1 0h0m4.1 0h0m12.3 0h0m4.1 0h0m-149.8 3.6h0m8.2 0h0m4.1 0h0m4.1 0h0m4.1 0h0m8.2 0h0m41 0h0m28.8 0h0m32.8 0h0m8.2 0h0m12.3 0h0m-133.4 3.5h0m8.3 0h0m4.1 0h0m16.4 0h0m20.5 0h0m4.1 0h0m8.2 0h0m16.4 0h0m4.1 0h0m4.1 0h0m4.1 0h0m12.3 0h0m20.6 0h0m20.5 0h0m12.3 0h0m-236 3.6h0m82.1 0h0m4.1 0h0m12.3 0h0m8.2 0h0m32.9 0h0m8.2 0h0m8.2 0h0m8.2 0h0m8.2 0h0m36.9 0h0m4.1 0h0m-137.5 3.6h0m16.5 0h0m4.1 0h0m8.2 0h0m4.1 0h0m16.4 0h0m12.3 0h0m4.1 0h0m4.1 0h0m16.4 0h0m4.1 0h0m4.1 0h0m4.1 0h0m4.1 0h0m4.1 0h0m20.6 0h0m12.3 0h0m8.2 0h0m4.1 0h0m12.3 0h0m-149.8 3.6h0m8.2 0h0m4.1 0h0m4.1 0h0m8.2 0h0m4.1 0h0m37 0h0m20.5 0h0m4.1 0h0m4.1 0h0m16.4 0h0m32.8 0h0m-170.3 3.5h0m4.1 0h0m20.6 0h0m12.3 0h0m4.1 0h0m4.1 0h0m4.1 0h0m4.1 0h0m4.1 0h0m4.1 0h0m8.2 0h0m8.2 0h0m12.3 0h0m16.4 0h0m4.1 0h0m4.1 0h0m4.1 0h0m8.3 0h0m4.1 0h0m20.5 0h0m20.5 0h0m4.1 0h0m-137.5 3.6h0m4.1 0h0m4.1 0h0m4.1 0h0m4.1 0h0m4.1 0h0m16.5 0h0m4.1 0h0m16.4 0h0m4.1 0h0m4.1 0h0m8.2 0h0m8.2 0h0m4.1 0h0m8.2 0h0m41.1 0h0m-129.3 3.6h0m4.1 0h0m4.1 0h0m4.1 0h0m4.1 0h0m8.2 0h0m8.2 0h0m8.2 0h0m12.3 0h0m12.3 0h0m4.1 0h0m12.4 0h0m4.1 0h0m4.1 0h0m8.2 0h0m4.1 0h0m12.3 0h0m4.1 0h0m4.1 0h0m8.2 0h0m-125.2 3.6h0m4.1 0h0m4.1 0h0m4.1 0h0m4.1 0h0m12.4 0h0m4.1 0h0m24.6 0h0m8.2 0h0m4.1 0h0m4.1 0h0m4.1 0h0m4.1 0h0m4.1 0h0m24.6 0h0m8.2 0h0m4.2 0h0m-125.2 3.5h0m4.1 0h0m4.1 0h0m8.2 0h0m4.1 0h0m4.1 0h0m4.1 0h0m4.1 0h0m8.2 0h0m16.4 0h0m8.2 0h0m4.1 0h0m4.2 0h0m4.1 0h0m4.1 0h0m4.1 0h0m4.1 0h0m8.2 0h0m4.1 0h0m8.2 0h0m4.1 0h0m4.1 0h0m4.1 0h0m4.1 0h0m-129.3 3.6h0m16.4 0h0m4.1 0h0m4.2 0h0m4.1 0h0m8.2 0h0m8.2 0h0m32.8 0h0m4.1 0h0m4.1 0h0m4.1 0h0m4.1 0h0m4.1 0h0m12.3 0h0m8.2 0h0m4.1 0h0m4.2 0h0m-219.6 3.6h0m20.5 0h0m41 0h0m45.2 0h0m8.2 0h0m8.2 0h0m4.1 0h0m4.1 0h0m16.4 0h0m16.4 0h0m16.5 0h0m4.1 0h0m4.1 0h0m4.1 0h0m4.1 0h0m8.2 0h0m4.1 0h0m4.1 0h0m4.1 0h0m4.1 0h0m-108.8 3.5h0m4.2 0h0m8.2 0h0m8.2 0h0m4.1 0h0m4.1 0h0m8.2 0h0m20.5 0h0m4.1 0h0m20.5 0h0m4.1 0h0m4.1 0h0m4.1 0h0m4.1 0h0m-129.2 3.6h0m45.1 0h0m4.1 0h0m4.1 0h0m4.1 0h0m24.6 0h0m4.2 0h0m24.6 0h0m4.1 0h0m4.1 0h0m4.1 0h0m4.1 0h0m4.1 0h0m8.2 0h0m-96.4 3.6h0m4.1 0h0m4.1 0h0m12.3 0h0m20.5 0h0m4.1 0h0m8.2 0h0m12.3 0h0m8.2 0h0m8.2 0h0m4.1 0h0m-186.7 3.6h0m106.7 0h0m8.2 0h0m4.1 0h0m4.1 0h0m4.1 0h0m16.5 0h0m4.1 0h0m4.1 0h0m4.1 0h0m12.3 0h0m8.2 0h0m4.1 0h0m4.1 0h0m-75.9 3.5h0m4.1 0h0m4.1 0h0m8.2 0h0m4.1 0h0m8.2 0h0m16.4 0h0m4.1 0h0m4.1 0h0m4.1 0h0m8.2 0h0m8.2 0h0m-59.5 3.6h0m4.1 0h0m4.1 0h0m4.1 0h0m4.1 0h0m4.2 0h0m12.3 0h0m4.1 0h0m4.1 0h0m8.2 0h0m4.1 0h0m4.1 0h0m4.1 0h0m-170.3 3.6h0m45.1 0h0m16.4 0h0m41.1 0h0m4.1 0h0m4.1 0h0m4.1 0h0m4.1 0h0m4.1 0h0m4.1 0h0m4.1 0h0m4.1 0h0m8.2 0h0m4.1 0h0m4.1 0h0m4.1 0h0m4.1 0h0m4.1 0h0m4.1 0h0m-174.4 3.5h0m41.1 0h0m61.5 0h0m8.2 0h0m8.2 0h0m4.1 0h0m4.1 0h0m4.1 0h0m8.3 0h0m4.1 0h0m4.1 0h0m4.1 0h0m4.1 0h0m4.1 0h0m4.1 0h0m8.2 0h0m4.1 0h0m-219.6 3.6h0m106.7 0h0m49.3 0h0m12.3 0h0m12.3 0h0m4.1 0h0m4.1 0h0m16.4 0h0m4.1 0h0m8.2 0h0m-215.4 3.6h0m20.5 0h0m57.5 0h0m86.1 0h0m12.4 0h0m4.1 0h0m4.1 0h0m4.1 0h0m4.1 0h0m4.1 0h0m4.1 0h0m4.1 0h0m4.1 0h0m4.1 0h0m4.1 0h0m-30.8 3.6h0m4.1 0h0m4.1 0h0m4.1 0h0m4.1 0h0m4.1 0h0m8.2 0h0m-231.8 3.5h0m205.2 0h0m8.2 0h0m4.1 0h0m4.1 0h0m4.1 0h0m4.1 0h0m4.1 0h0m-55.4 3.6h0m41 0h0m12.3 0h0m4.1 0h0m-145.6 3.6h0m28.7 0h0m110.8 0h0m-47.2 3.5h0m49.2 0h0m-207.2 3.6h0m153.9 3.6h0m-75.9 3.6h0m-34.9 3.5h0m57.4 0h0m20.6 0h0m-156 7.2h0m4.1 0h0m90.3 0h0m8.2 0h0m78 0h0m36.9 0h0m-119 7.1h0m45.1 0h0m92.4 3.6h0m-108.8 3.6h0m34.9 3.5h0m-158 3.6h0m34.9 3.6h0m16.4 0h0m-43.1 3.6h0m119 0h0m41.1 0h0m-63.6 3.5h0m123.1 0h0m-190.9 3.6h0m14.4 3.6h0m20.5 0h0m-12.3 7.1h0m0 7.2h0m45.2 0h0m-2.1 3.5h0m104.7 3.6h0m-162.1 3.6h0m8.2 0h0m51.3 3.5h0m-71.9 3.6h0m110.8 0h0m-112.8 3.6h0m6.1 3.6h0m24.7 0h0m6.1 3.5h0m8.2 0h0m4.1 0h0m156 0h0m-195 3.6h0m12.4 0h0m-10.3 3.6h0m8.2 0h0m4.1 0h0m4.1 0h0m4.1 0h0m20.5 0h0m32.9 0h0m-67.7 3.6h0m12.3 0h0m8.2 0h0m20.5 0h0m12.3 0h0m135.4 0h0m-186.7 3.5h0m41 0h0m-26.6 3.6h0m36.9 0h0m-43.1 3.6h0m12.3 0h0m24.7 0h0m-43.1 3.5h0m24.6 0h0m106.7 0h0m-125.2 3.6h0m4.1 0h0m20.5 0h0m4.1 0h0m8.3 0h0m12.3 0h0m4.1 0h0m-47.2 3.6h0m8.2 0h0m8.2 0h0m16.4 0h0m114.9 0h0m-137.5 3.6h0m32.9 0h0m4.1 0h0m8.2 0h0m4.1 0h0m-14.4 3.5h0m14.4 3.6h0m8.2 0h0m4.1 0h0m-10.3 3.6h0m28.8 0h0" stroke="#C99AF6" stroke-width="4.1"/><path d="M197.1 67.3h0m4.1 0h0m4.1 0h0m12.3 0h0m8.2 0h0m16.4 0h0m8.2 0h0m-162.1 3.6h0m106.7 0h0m4.1 0h0m12.3 0h0m4.2 0h0m8.2 0h0m24.6 0h0m-153.9 3.5h0m78 0h0m77.9 0h0m8.2 0h0m8.3 0h0m-231.9 3.6h0m16.4 0h0m180.6 0h0m-199.1 3.6h0m4.1 0h0m4.1 0h0m4.1 0h0m168.3 0h0m4.1 0h0m8.2 0h0m12.3 0h0m16.4 0h0m8.2 0h0m-235.9 3.6h0m12.3 0h0m8.2 0h0m4.1 0h0m8.2 0h0m8.2 0h0m197 0h0m4.1 0h0m-244.2 3.5h0m8.2 0h0m8.2 0h0m4.1 0h0m4.1 0h0m4.1 0h0m4.1 0h0m4.2 0h0m4.1 0h0m4.1 0h0m4.1 0h0m160 0h0m8.2 0h0m12.3 0h0m-227.7 3.6h0m8.2 0h0m8.2 0h0m4.1 0h0m12.3 0h0m4.1 0h0m4.1 0h0m192.9 0h0m8.2 0h0m-248.3 3.6h0m12.3 0h0m4.1 0h0m8.2 0h0m4.1 0h0m4.1 0h0m8.3 0h0m4.1 0h0m4.1 0h0m12.3 0h0m4.1 0h0m176.4 0h0m4.2 0h0m-240.1 3.5h0m12.3 0h0m12.3 0h0m4.1 0h0m4.1 0h0m4.1 0h0m12.3 0h0m16.4 0h0m8.2 0h0m168.3 0h0m-244.2 3.6h0m8.2 0h0m4.1 0h0m12.3 0h0m4.1 0h0m16.5 0h0m8.2 0h0m4.1 0h0m16.4 0h0m4.1 0h0m-84.1 3.6h0m4.1 0h0m12.3 0h0m4.1 0h0m16.4 0h0m4.1 0h0m57.5 0h0m12.3 0h0m-108.8 3.6h0m4.1 0h0m4.1 0h0m12.3 0h0m12.3 0h0m12.4 0h0m8.2 0h0m12.3 0h0m4.1 0h0m4.1 0h0m4.1 0h0m-63.6 3.5h0m4.1 0h0m4.1 0h0m8.2 0h0m4.1 0h0m4.1 0h0m4.1 0h0m12.3 0h0m12.3 0h0m12.3 0h0m8.2 0h0m-71.8 3.6h0m12.3 0h0m4.1 0h0m4.1 0h0m4.2 0h0m4.1 0h0m16.4 0h0m8.2 0h0m24.6 0h0m8.2 0h0m-88.2 3.6h0m20.5 0h0m12.3 0h0m4.1 0h0m8.2 0h0m4.1 0h0m8.2 0h0m4.1 0h0m4.1 0h0m8.2 0h0m12.4 0h0m4.1 0h0m-80.1 3.6h0m4.1 0h0m4.1 0h0m4.1 0h0m4.2 0h0m4.1 0h0m12.3 0h0m8.2 0h0m4.1 0h0m4.1 0h0m4.1 0h0m24.6 0h0m4.1 0h0m8.2 0h0m4.1 0h0m-88.2 3.5h0m4.1 0h0m4.1 0h0m4.1 0h0m12.3 0h0m4.1 0h0m4.1 0h0m12.3 0h0m8.2 0h0m4.1 0h0m4.2 0h0m4.1 0h0m4.1 0h0m8.2 0h0m4.1 0h0m-76 3.6h0m8.3 0h0m24.6 0h0m8.2 0h0m8.2 0h0m4.1 0h0m4.1 0h0m4.1 0h0m16.4 0h0m8.2 0h0m8.2 0h0m-80 3.6h0m12.3 0h0m4.1 0h0m28.8 0h0m12.3 0h0m4.1 0h0m16.4 0h0m-108.8 3.5h0m4.1 0h0m8.2 0h0m4.1 0h0m20.6 0h0m4.1 0h0m8.2 0h0m4.1 0h0m4.1 0h0m8.2 0h0m8.2 0h0m4.1 0h0m12.3 0h0m4.1 0h0m4.1 0h0m4.1 0h0m-108.7 3.6h0m8.2 0h0m4.1 0h0m4.1 0h0m8.2 0h0m24.6 0h0m12.3 0h0m4.1 0h0m4.1 0h0m12.4 0h0m4.1 0h0m12.3 0h0m4.1 0h0m4.1 0h0m8.2 0h0m4.1 0h0m16.4 0h0m-117 3.6h0m8.3 0h0m4.1 0h0m4.1 0h0m4.1 0h0m4.1 0h0m4.1 0h0m28.7 0h0m4.1 0h0m8.2 0h0m4.1 0h0m8.2 0h0m4.1 0h0m4.1 0h0m4.1 0h0m8.2 0h0m12.4 0h0m16.4 0h0m4.1 0h0m78 0h0m-240.1 3.6h0m4.1 0h0m16.4 0h0m4.1 0h0m4.1 0h0m12.3 0h0m12.3 0h0m4.1 0h0m4.1 0h0m12.3 0h0m12.4 0h0m12.3 0h0m12.3 0h0m4.1 0h0m8.2 0h0m4.1 0h0m4.1 0h0m8.2 0h0m-133.4 3.5h0m4.1 0h0m12.3 0h0m8.2 0h0m4.2 0h0m24.6 0h0m4.1 0h0m8.2 0h0m4.1 0h0m8.2 0h0m8.2 0h0m8.2 0h0m12.3 0h0m8.2 0h0m4.1 0h0m4.1 0h0m4.1 0h0m4.2 0h0m4.1 0h0m4.1 0h0m4.1 0h0m-149.8 3.6h0m12.3 0h0m16.4 0h0m20.5 0h0m8.2 0h0m4.1 0h0m4.1 0h0m4.1 0h0m8.2 0h0m8.3 0h0m8.2 0h0m8.2 0h0m4.1 0h0m32.8 0h0m4.1 0h0m-162.1 3.6h0m4.1 0h0m12.3 0h0m20.5 0h0m4.1 0h0m4.1 0h0m20.6 0h0m20.5 0h0m12.3 0h0m4.1 0h0m16.4 0h0m12.3 0h0m4.1 0h0m16.4 0h0m12.4 0h0m4.1 0h0m4.1 0h0m4.1 0h0m41 0h0m-203.1 3.5h0m4.1 0h0m4.1 0h0m28.7 0h0m32.8 0h0m8.2 0h0m8.2 0h0m20.6 0h0m12.3 0h0m8.2 0h0m8.2 0h0m16.4 0h0m4.1 0h0m8.2 0h0m28.8 0h0m-186.8 3.6h0m4.1 0h0m8.2 0h0m20.6 0h0m16.4 0h0m24.6 0h0m12.3 0h0m8.2 0h0m4.1 0h0m20.5 0h0m8.2 0h0m4.1 0h0m16.5 0h0m8.2 0h0m12.3 0h0m41 0h0m20.5 0h0m-248.2 3.6h0m4.1 0h0m16.4 0h0m12.3 0h0m20.5 0h0m8.2 0h0m12.3 0h0m8.2 0h0m8.2 0h0m12.4 0h0m12.3 0h0m16.4 0h0m4.1 0h0m8.2 0h0m12.3 0h0m4.1 0h0m4.1 0h0m4.1 0h0m8.2 0h0m12.3 0h0m8.2 0h0m-162.1 3.6h0m24.7 0h0m12.3 0h0m8.2 0h0m4.1 0h0m8.2 0h0m4.1 0h0m4.1 0h0m12.3 0h0m4.1 0h0m8.2 0h0m4.1 0h0m8.2 0h0m4.1 0h0m4.1 0h0m4.1 0h0m4.2 0h0m4.1 0h0m4.1 0h0m4.1 0h0m4.1 0h0m4.1 0h0m8.2 0h0m4.1 0h0m4.1 0h0m57.4 0h0m-215.4 3.5h0m12.3 0h0m12.3 0h0m4.1 0h0m8.2 0h0m12.3 0h0m4.1 0h0m4.1 0h0m12.4 0h0m12.3 0h0m12.3 0h0m12.3 0h0m8.2 0h0m8.2 0h0m8.2 0h0m4.1 0h0m8.2 0h0m8.2 0h0m4.1 0h0m8.2 0h0m4.1 0h0m12.4 0h0m8.2 0h0m-223.7 3.6h0m12.3 0h0m20.5 0h0m8.2 0h0m8.2 0h0m12.4 0h0m8.2 0h0m16.4 0h0m8.2 0h0m4.1 0h0m8.2 0h0m4.1 0h0m12.3 0h0m4.1 0h0m4.1 0h0m4.1 0h0m8.2 0h0m4.1 0h0m8.3 0h0m8.2 0h0m4.1 0h0m4.1 0h0m4.1 0h0m4.1 0h0m4.1 0h0m16.4 0h0m12.3 0h0m4.1 0h0m4.1 0h0m4.1 0h0m-207.2 3.6h0m36.9 0h0m28.7 0h0m8.2 0h0m53.4 0h0m12.3 0h0m12.3 0h0m12.3 0h0m8.2 0h0m8.2 0h0m16.5 0h0m-190.9 3.5h0m8.2 0h0m4.1 0h0m4.1 0h0m41.1 0h0m8.2 0h0m16.4 0h0m8.2 0h0m4.1 0h0m12.3 0h0m16.4 0h0m4.1 0h0m12.4 0h0m8.2 0h0m4.1 0h0m4.1 0h0m4.1 0h0m4.1 0h0m4.1 0h0m12.3 0h0m12.3 0h0m16.4 0h0m-215.4 3.6h0m4.1 0h0m4.1 0h0m16.4 0h0m8.2 0h0m8.2 0h0m49.3 0h0m4.1 0h0m24.6 0h0m8.2 0h0m4.1 0h0m4.1 0h0m4.1 0h0m4.1 0h0m36.9 0h0m8.3 0h0m12.3 0h0m4.1 0h0m-141.6 3.6h0m4.1 0h0m4.1 0h0m4.1 0h0m8.2 0h0m8.2 0h0m12.3 0h0m8.2 0h0m20.5 0h0m4.2 0h0m4.1 0h0m12.3 0h0m4.1 0h0m4.1 0h0m4.1 0h0m-158 3.6h0m8.2 0h0m24.6 0h0m20.5 0h0m16.4 0h0m4.1 0h0m12.4 0h0m20.5 0h0m4.1 0h0m4.1 0h0m12.3 0h0m8.2 0h0m12.3 0h0m12.3 0h0m24.7 0h0m-203.2 3.5h0m4.1 0h0m8.2 0h0m12.3 0h0m4.1 0h0m4.1 0h0m4.1 0h0m65.7 0h0m24.6 0h0m8.2 0h0m4.1 0h0m16.5 0h0m4.1 0h0m28.7 0h0m24.6 0h0m-174.4 3.6h0m16.4 0h0m16.4 0h0m16.4 0h0m28.8 0h0m12.3 0h0m4.1 0h0m16.4 0h0m8.2 0h0m4.1 0h0m16.4 0h0m12.3 0h0m-162.1 3.6h0m4.1 0h0m16.5 0h0m28.7 0h0m8.2 0h0m32.8 0h0m8.2 0h0m4.1 0h0m4.1 0h0m4.1 0h0m4.1 0h0m4.2 0h0m16.4 0h0m4.1 0h0m-174.4 3.6h0m16.4 0h0m4.1 0h0m4.1 0h0m4.1 0h0m4.1 0h0m20.5 0h0m16.4 0h0m16.4 0h0m12.3 0h0m20.6 0h0m4.1 0h0m8.2 0h0m20.5 0h0m4.1 0h0m4.1 0h0m8.2 0h0m8.2 0h0m8.2 0h0m-174.4 3.5h0m12.3 0h0m8.2 0h0m24.7 0h0m32.8 0h0m16.4 0h0m8.2 0h0m28.7 0h0m8.2 0h0m12.4 0h0m8.2 0h0m53.3 0h0m-203.1 3.6h0m4.1 0h0m16.4 0h0m4.1 0h0m4.1 0h0m4.1 0h0m69.8 0h0m8.2 0h0m28.7 0h0m4.1 0h0m16.4 0h0m20.5 0h0m-186.7 3.6h0m8.2 0h0m8.2 0h0m4.1 0h0m4.1 0h0m37 0h0m8.2 0h0m4.1 0h0m12.3 0h0m16.4 0h0m28.7 0h0m8.3 0h0m45.1 0h0m-170.3 3.5h0m4.1 0h0m8.2 0h0m4.1 0h0m45.1 0h0m4.1 0h0m8.3 0h0m24.6 0h0m12.3 0h0m73.9 0h0m-162.1 3.6h0m8.2 0h0m24.6 0h0m16.4 0h0m16.4 0h0m8.2 0h0m12.3 0h0m-88.2 3.6h0m20.5 0h0m28.7 0h0m16.5 0h0m8.2 0h0m8.2 0h0m24.6 0h0m8.2 0h0m12.3 0h0m41.1 0h0m-182.7 3.6h0m41.1 0h0m4.1 0h0m12.3 0h0m4.1 0h0m12.3 0h0m28.7 0h0m4.1 0h0m4.1 0h0m32.9 0h0m8.2 0h0m8.2 0h0m49.2 0h0m-219.5 3.5h0m28.7 0h0m28.7 0h0m20.6 0h0m4.1 0h0m12.3 0h0m16.4 0h0m32.8 0h0m-112.8 3.6h0m16.4 0h0m20.5 0h0m12.3 0h0m4.1 0h0m16.4 0h0m24.6 0h0m12.4 0h0m49.2 0h0m24.6 0h0m-174.4 3.6h0m8.2 0h0m4.1 0h0m37 0h0m8.2 0h0m12.3 0h0m20.5 0h0m90.3 0h0m-190.8 3.5h0m4.1 0h0m41 0h0m-22.6 3.6h0m28.8 0h0m28.7 0h0m2 3.6h0m24.7 0h0m-104.7 3.6h0m16.4 0h0m4.1 0h0m12.3 0h0m8.2 0h0m20.6 0h0m53.3 0h0m-108.7 3.5h0m4.1 0h0m28.7 0h0m8.2 0h0m12.3 0h0m8.2 0h0m45.2 0h0m73.8 0h0m-182.6 3.6h0m36.9 0h0m4.1 0h0m8.3 0h0m16.4 0h0m8.2 0h0m-67.7 3.6h0m16.4 0h0m4.1 0h0m4.1 0h0m102.6 0h0m-112.9 3.5h0m4.1 0h0m12.3 0h0m37 0h0m69.7 0h0m-84.1 3.6h0m4.1 0h0m24.6 0h0m-47.2 3.6h0m16.5 0h0m4.1 0h0m20.5 0h0m-84.1 3.6h0m41 0h0m8.2 0h0m4.1 0h0m8.2 0h0m4.1 0h0m8.2 0h0m41.1 0h0m45.1 0h0m4.1 0h0m-108.7 3.5h0m4.1 0h0m6.1 3.6h0m69.8 0h0m16.4 0h0m-51.3 3.6h0m82.1 0h0m-125.2 3.6h0m84.1 3.5h0m-127.2 7.2h0m102.6 0h0m-84.1 3.5h0m69.8 0h0m28.7 0h0m-108.8 3.6h0m94.4 0h0m20.5 0h0m32.9 0h0m-73.9 7.2h0m32.8 0h0m4.1 0h0m8.2 0h0m16.5 0h0m-92.4 3.5h0m61.6 0h0m-6.2 3.6h0m-10.2 3.6h0m6.1 3.5h0" stroke="#58BD86" stroke-width="4.1"/><path d="M37 67.3h0m24.7 0h0m12.3 0h0m28.7 0h0m119 0h0m-186.7 3.6h0m24.6 0h0m18.5 3.5h0m184.6 0h0m-223.6 3.6h0m16.4 0h0m8.2 0h0m172.4 0h0m-186.8 3.6h0m94.4 0h0m114.9 0h0m8.3 0h0m-236 3.6h0m4.1 0h0m8.2 0h0m12.3 0h0m8.2 0h0m110.8 0h0m-137.5 3.5h0m41.1 0h0m36.9 0h0m49.3 0h0m-141.6 3.6h0m28.7 0h0m4.1 0h0m16.4 0h0m4.1 0h0m4.1 0h0m4.1 0h0m102.6 0h0m-162.1 3.6h0m4.1 0h0m12.3 0h0m32.9 0h0m4.1 0h0m49.2 0h0m-108.7 3.5h0m4.1 0h0m8.2 0h0m12.3 0h0m4.1 0h0m20.5 0h0m4.1 0h0m8.2 0h0m8.2 0h0m8.2 0h0m8.2 0h0m-88.2 3.6h0m4.1 0h0m24.6 0h0m16.5 0h0m12.3 0h0m12.3 0h0m8.2 0h0m12.3 0h0m12.3 0h0m12.3 0h0m-104.6 3.6h0m16.4 0h0m8.2 0h0m12.3 0h0m12.3 0h0m4.1 0h0m4.1 0h0m4.1 0h0m8.2 0h0m4.1 0h0m8.2 0h0m-71.8 3.6h0m8.2 0h0m12.3 0h0m4.2 0h0m16.4 0h0m4.1 0h0m28.7 0h0m4.1 0h0m41 0h0m-125.1 3.5h0m16.4 0h0m20.5 0h0m4.1 0h0m8.2 0h0m4.1 0h0m20.5 0h0m20.6 0h0m-84.2 3.6h0m28.8 0h0m4.1 0h0m12.3 0h0m12.3 0h0m4.1 0h0m4.1 0h0m4.1 0h0m16.4 0h0m82.1 0h0m-178.5 3.6h0m8.2 0h0m4.1 0h0m4.1 0h0m12.3 0h0m4.1 0h0m12.3 0h0m28.7 0h0m8.3 0h0m4.1 0h0m16.4 0h0m131.3 0h0m-223.7 3.6h0m28.8 0h0m4.1 0h0m8.2 0h0m24.6 0h0m4.1 0h0m4.1 0h0m4.1 0h0m12.3 0h0m32.9 0h0m28.7 0h0m-145.7 3.5h0m20.5 0h0m4.1 0h0m16.4 0h0m4.1 0h0m8.2 0h0m24.7 0h0m-76 3.6h0m20.6 0h0m8.2 0h0m4.1 0h0m4.1 0h0m8.2 0h0m8.2 0h0m20.5 0h0m4.1 0h0m20.5 0h0m-92.3 3.6h0m20.5 0h0m4.1 0h0m12.3 0h0m4.1 0h0m4.1 0h0m12.4 0h0m12.3 0h0m12.3 0h0m8.2 0h0m20.5 0h0m53.4 0h0m-170.4 3.5h0m12.4 0h0m4.1 0h0m8.2 0h0m12.3 0h0m16.4 0h0m20.5 0h0m4.1 0h0m20.5 0h0m4.1 0h0m4.1 0h0m78 0h0m32.9 0h0m-227.8 3.6h0m16.4 0h0m8.2 0h0m4.1 0h0m4.1 0h0m4.1 0h0m4.1 0h0m8.2 0h0m4.1 0h0m16.4 0h0m16.5 0h0m20.5 0h0m12.3 0h0m4.1 0h0m-137.5 3.6h0m4.1 0h0m4.1 0h0m4.1 0h0m8.2 0h0m41.1 0h0m4.1 0h0m12.3 0h0m4.1 0h0m12.3 0h0m32.8 0h0m12.4 0h0m-141.6 3.6h0m16.4 0h0m4.1 0h0m16.4 0h0m16.4 0h0m28.7 0h0m4.1 0h0m8.3 0h0m4.1 0h0m8.2 0h0m32.8 0h0m12.3 0h0m8.2 0h0m-141.6 3.5h0m4.1 0h0m24.7 0h0m4.1 0h0m4.1 0h0m4.1 0h0m24.6 0h0m8.2 0h0m16.4 0h0m12.3 0h0m78 0h0m28.7 0h0m-227.7 3.6h0m12.3 0h0m8.2 0h0m16.4 0h0m12.3 0h0m8.2 0h0m57.5 0h0m4.1 0h0m4.1 0h0m8.2 0h0m4.1 0h0m4.1 0h0m12.3 0h0m4.1 0h0m4.1 0h0m41.1 0h0m-207.3 3.6h0m4.1 0h0m8.2 0h0m8.2 0h0m24.7 0h0m4.1 0h0m4.1 0h0m12.3 0h0m8.2 0h0m8.2 0h0m4.1 0h0m12.3 0h0m4.1 0h0m4.1 0h0m12.3 0h0m16.4 0h0m12.4 0h0m4.1 0h0m-158 3.5h0m4.1 0h0m28.7 0h0m4.1 0h0m16.4 0h0m32.8 0h0m16.5 0h0m20.5 0h0m4.1 0h0m8.2 0h0m16.4 0h0m4.1 0h0m4.1 0h0m24.6 0h0m-186.7 3.6h0m4.1 0h0m4.1 0h0m28.7 0h0m8.2 0h0m20.6 0h0m8.2 0h0m12.3 0h0m4.1 0h0m12.3 0h0m8.2 0h0m16.4 0h0m4.1 0h0m12.3 0h0m12.4 0h0m8.2 0h0m8.2 0h0m8.2 0h0m41 0h0m4.1 0h0m-207.2 3.6h0m49.2 0h0m4.1 0h0m8.2 0h0m8.2 0h0m8.2 0h0m4.1 0h0m12.4 0h0m8.2 0h0m8.2 0h0m12.3 0h0m8.2 0h0m32.8 0h0m4.1 0h0m-186.7 3.6h0m20.5 0h0m4.1 0h0m8.2 0h0m12.3 0h0m8.3 0h0m24.6 0h0m28.7 0h0m16.4 0h0m12.3 0h0m45.2 0h0m28.7 0h0m4.1 0h0m-211.3 3.5h0m24.6 0h0m16.4 0h0m32.8 0h0m24.6 0h0m8.3 0h0m4.1 0h0m8.2 0h0m4.1 0h0m8.2 0h0m12.3 0h0m8.2 0h0m8.2 0h0m20.5 0h0m12.3 0h0m16.5 0h0m-207.3 3.6h0m16.4 0h0m4.1 0h0m12.3 0h0m8.2 0h0m8.3 0h0m4.1 0h0m16.4 0h0m8.2 0h0m32.8 0h0m4.1 0h0m20.5 0h0m12.3 0h0m8.3 0h0m36.9 0h0m12.3 0h0m20.5 0h0m8.2 0h0m4.1 0h0m-231.8 3.6h0m12.3 0h0m8.2 0h0m8.2 0h0m4.1 0h0m4.1 0h0m4.1 0h0m12.3 0h0m4.1 0h0m4.1 0h0m24.6 0h0m16.5 0h0m8.2 0h0m4.1 0h0m12.3 0h0m12.3 0h0m12.3 0h0m4.1 0h0m8.2 0h0m28.7 0h0m8.3 0h0m20.5 0h0m-211.4 3.5h0m8.2 0h0m32.9 0h0m4.1 0h0m8.2 0h0m4.1 0h0m8.2 0h0m8.2 0h0m4.1 0h0m4.1 0h0m24.6 0h0m12.3 0h0m4.1 0h0m12.4 0h0m4.1 0h0m8.2 0h0m32.8 0h0m8.2 0h0m4.1 0h0m16.4 0h0m-227.7 3.6h0m4.1 0h0m4.1 0h0m24.6 0h0m28.7 0h0m8.2 0h0m12.3 0h0m12.3 0h0m4.1 0h0m4.2 0h0m16.4 0h0m4.1 0h0m4.1 0h0m12.3 0h0m24.6 0h0m4.1 0h0m4.1 0h0m4.1 0h0m12.3 0h0m41.1 0h0m-231.9 3.6h0m12.3 0h0m4.1 0h0m8.2 0h0m4.1 0h0m4.1 0h0m8.2 0h0m12.4 0h0m8.2 0h0m65.6 0h0m8.2 0h0m8.2 0h0m4.1 0h0m20.6 0h0m28.7 0h0m4.1 0h0m49.2 0h0m-248.2 3.6h0m4.1 0h0m8.2 0h0m4.1 0h0m57.4 0h0m28.8 0h0m4.1 0h0m12.3 0h0m4.1 0h0m4.1 0h0m36.9 0h0m4.1 0h0m8.2 0h0m4.1 0h0m12.3 0h0m4.1 0h0m4.1 0h0m-153.9 3.5h0m4.2 0h0m4.1 0h0m4.1 0h0m24.6 0h0m4.1 0h0m4.1 0h0m20.5 0h0m8.2 0h0m4.1 0h0m45.2 0h0m8.2 0h0m45.1 0h0m-223.6 3.6h0m4.1 0h0m28.7 0h0m4.1 0h0m20.5 0h0m28.7 0h0m12.3 0h0m12.4 0h0m4.1 0h0m4.1 0h0m12.3 0h0m12.3 0h0m4.1 0h0m12.3 0h0m16.4 0h0m-178.5 3.6h0m20.5 0h0m8.2 0h0m24.7 0h0m12.3 0h0m4.1 0h0m12.3 0h0m20.5 0h0m12.3 0h0m4.1 0h0m41.1 0h0m4.1 0h0m4.1 0h0m-162.1 3.6h0m4.1 0h0m28.7 0h0m8.2 0h0m12.3 0h0m8.2 0h0m12.3 0h0m4.1 0h0m8.2 0h0m16.5 0h0m36.9 0h0m4.1 0h0m-121.1 3.5h0m12.3 0h0m4.1 0h0m8.3 0h0m12.3 0h0m8.2 0h0m12.3 0h0m32.8 0h0m8.2 0h0m8.2 0h0m4.1 0h0m16.5 0h0m4.1 0h0m36.9 0h0m24.6 0h0m-186.7 3.6h0m24.6 0h0m4.1 0h0m4.1 0h0m20.5 0h0m12.3 0h0m8.3 0h0m28.7 0h0m4.1 0h0m4.1 0h0m4.1 0h0m20.5 0h0m-149.8 3.6h0m37 0h0m41 0h0m8.2 0h0m8.2 0h0m8.2 0h0m4.1 0h0m8.2 0h0m4.1 0h0m12.3 0h0m8.3 0h0m-141.6 3.5h0m20.5 0h0m16.4 0h0m4.1 0h0m4.1 0h0m49.3 0h0m12.3 0h0m12.3 0h0m8.2 0h0m12.3 0h0m-137.5 3.6h0m4.1 0h0m4.1 0h0m4.1 0h0m8.2 0h0m8.2 0h0m32.9 0h0m8.2 0h0m20.5 0h0m4.1 0h0m8.2 0h0m8.2 0h0m20.5 0h0m86.2 0h0m8.2 0h0m-219.5 3.6h0m12.3 0h0m28.7 0h0m28.7 0h0m45.2 0h0m4.1 0h0m-121.1 3.6h0m20.5 0h0m8.3 0h0m8.2 0h0m12.3 0h0m12.3 0h0m16.4 0h0m12.3 0h0m16.4 0h0m82.1 0h0m8.2 0h0m-178.5 3.5h0m4.1 0h0m12.3 0h0m20.5 0h0m16.4 0h0m4.1 0h0m16.5 0h0m16.4 0h0m8.2 0h0m-100.6 3.6h0m8.2 0h0m16.5 0h0m4.1 0h0m8.2 0h0m8.2 0h0m4.1 0h0m8.2 0h0m4.1 0h0m16.4 0h0m4.1 0h0m12.3 0h0m106.7 0h0m-203.1 3.6h0m4.1 0h0m8.2 0h0m16.4 0h0m16.4 0h0m8.2 0h0m12.4 0h0m4.1 0h0m8.2 0h0m20.5 0h0m8.2 0h0m16.4 0h0m20.5 0h0m-137.5 3.5h0m4.1 0h0m24.7 0h0m4.1 0h0m8.2 0h0m20.5 0h0m12.3 0h0m4.1 0h0m8.2 0h0m106.7 0h0m-186.7 3.6h0m12.3 0h0m8.2 0h0m12.3 0h0m4.1 0h0m8.2 0h0m16.5 0h0m8.2 0h0m4.1 0h0m4.1 0h0m32.8 0h0m-104.6 3.6h0m4.1 0h0m12.3 0h0m16.4 0h0m8.2 0h0m12.3 0h0m8.2 0h0m4.1 0h0m4.1 0h0m24.6 0h0m16.5 0h0m36.9 0h0m36.9 0h0m-178.5 3.6h0m16.4 0h0m24.7 0h0m102.6 0h0m4.1 0h0m-133.4 3.5h0m4.1 0h0m4.1 0h0m32.8 0h0m8.2 0h0m45.2 0h0m24.6 0h0m8.2 0h0m-141.6 3.6h0m4.1 0h0m12.3 0h0m4.1 0h0m28.8 0h0m4.1 0h0m4.1 0h0m-51.3 3.6h0m4.1 0h0m20.5 0h0m4.1 0h0m4.1 0h0m4.1 0h0m4.1 0h0m94.4 0h0m-129.3 3.5h0m12.3 0h0m4.1 0h0m16.5 0h0m8.2 0h0m-71.9 3.6h0m41.1 0h0m4.1 0h0m4.1 0h0m41 0h0m110.8 0h0m-153.9 3.6h0m12.4 0h0m41 0h0m-92.3 3.6h0m49.2 0h0m45.1 0h0m-51.3 3.5h0m4.1 0h0m8.3 0h0m16.4 0h0m102.6 0h0m-129.3 3.6h0m4.1 0h0m4.1 0h0m2.1 3.6h0m8.2 0h0m61.5 0h0m57.5 0h0m-170.3 3.6h0m53.3 0h0m-55.4 3.5h0m16.4 0h0m8.2 0h0m37 0h0m-43.1 3.6h0m8.2 0h0m36.9 0h0m-63.6 3.6h0m20.5 0h0m4.1 0h0m12.3 0h0m32.9 0h0m53.3 0h0m8.2 0h0m41.1 0h0m-170.3 3.5h0m16.4 0h0m98.5 0h0m41 0h0m-112.8 3.6h0m4.1 0h0m73.8 0h0m-84.1 3.6h0m69.8 0h0m-37 7.1h0m24.7 0h0m-30.8 3.6h0m28.7 0h0m32.8 0h0m-51.3 3.6h0m4.1 0h0m32.9 0h0" stroke="#7497D6" stroke-width="4.1"/><path d="M193 67.3h0m20.5 0h0m16.4 0h0m4.1 0h0m-26.7 3.6h0m20.6 0h0m8.2 0h0m28.7 0h0m4.1 0h0m-80 3.5h0m8.2 0h0m12.3 0h0m20.5 0h0m8.2 0h0m-39 3.6h0m16.5 0h0m4.1 0h0m24.6 0h0m4.1 0h0m-26.7 3.6h0m-18.5 3.6h0m24.7 0h0m24.6 0h0m8.2 0h0m-34.9 3.5h0m4.1 0h0m28.7 0h0m4.1 0h0m4.2 0h0m-34.9 3.6h0m20.5 0h0m2 3.6h0m-47.2 3.5h0m16.5 0h0m-166.3 3.6h0m156 0h0m-145.7 3.6h0m4.1 0h0m151.9 0h0m24.6 0h0m-199.1 3.6h0m20.6 0h0m32.8 0h0m131.3 0h0m16.4 0h0m-227.7 3.5h0m55.4 3.6h0m168.2 0h0m16.4 0h0m-133.3 3.6h0m114.9 0h0m-141.6 3.6h0m135.4 0h0m12.3 0h0m8.2 0h0m-219.5 3.5h0m-22.6 3.6h0m20.5 0h0m2.1 3.6h0m4.1 0h0m8.2 0h0m12.3 0h0m78 0h0m-30.8 3.5h0m-94.4 7.2h0m24.6 0h0m51.3 3.6h0m4.1 0h0m49.3 0h0m-22.6 3.5h0m-92.3 3.6h0m16.4 0h0m78 0h0m-90.3 7.1h0m4.1 0h0m-14.4 3.6h0m41.1 0h0m4.1 0h0m36.9 0h0m94.4 0h0m-182.6 3.6h0m4.1 0h0m12.3 0h0m12.3 0h0m4.1 0h0m16.4 0h0m94.4 0h0m20.5 0h0m-166.2 3.6h0m20.5 0h0m20.5 0h0m16.5 0h0m24.6 0h0m106.7 0h0m-190.8 3.5h0m4.1 0h0m8.2 0h0m4.1 0h0m45.1 0h0m12.3 0h0m127.3 0h0m-178.6 3.6h0m49.3 0h0m12.3 0h0m98.5 0h0m-186.7 3.6h0m12.3 0h0m12.3 0h0m32.8 0h0m16.4 0h0m4.1 0h0m8.2 0h0m65.7 0h0m53.4 0h0m12.3 0h0m16.4 0h0m4.1 0h0m8.2 0h0m-203.2 3.5h0m12.4 0h0m65.6 0h0m98.5 0h0m20.5 0h0m-211.3 3.6h0m36.9 0h0m8.2 0h0m12.3 0h0m4.1 0h0m90.3 0h0m4.1 0h0m8.2 0h0m16.5 0h0m24.6 0h0m8.2 0h0m-199.1 3.6h0m28.8 0h0m32.8 0h0m32.8 0h0m65.7 0h0m4.1 0h0m24.6 0h0m12.3 0h0m-235.9 3.6h0m45.1 0h0m16.4 0h0m20.5 0h0m53.4 0h0m12.3 0h0m49.3 0h0m8.2 0h0m4.1 0h0m4.1 0h0m4.1 0h0m4.1 0h0m8.2 0h0m8.2 0h0m-248.3 3.5h0m16.4 0h0m12.3 0h0m41.1 0h0m8.2 0h0m20.5 0h0m4.1 0h0m4.1 0h0m24.6 0h0m20.5 0h0m24.7 0h0m16.4 0h0m8.2 0h0m8.2 0h0m4.1 0h0m4.1 0h0m16.4 0h0m4.1 0h0m-215.4 3.6h0m20.5 0h0m12.3 0h0m20.5 0h0m16.4 0h0m82.1 0h0m8.2 0h0m24.7 0h0m8.2 0h0m4.1 0h0m20.5 0h0m4.1 0h0m-195 3.6h0m24.7 0h0m114.9 0h0m12.3 0h0m4.1 0h0m8.2 0h0m12.3 0h0m20.5 0h0m-231.8 3.6h0m36.9 0h0m24.6 0h0m20.5 0h0m8.3 0h0m12.3 0h0m49.2 0h0m8.2 0h0m8.2 0h0m8.2 0h0m8.2 0h0m4.1 0h0m4.2 0h0m12.3 0h0m4.1 0h0m4.1 0h0m4.1 0h0m8.2 0h0m4.1 0h0m4.1 0h0m-186.7 3.5h0m69.7 0h0m49.3 0h0m8.2 0h0m4.1 0h0m20.5 0h0m28.7 0h0m-231.8 3.6h0m8.2 0h0m20.5 0h0m41 0h0m94.4 0h0m4.1 0h0m8.2 0h0m12.3 0h0m20.6 0h0m4.1 0h0m8.2 0h0m12.3 0h0m4.1 0h0m-236 3.6h0m16.4 0h0m16.4 0h0m4.1 0h0m4.2 0h0m90.2 0h0m28.8 0h0m8.2 0h0m8.2 0h0m16.4 0h0m12.3 0h0m20.5 0h0m4.1 0h0m4.1 0h0m-231.8 3.5h0m12.3 0h0m24.6 0h0m28.7 0h0m4.1 0h0m16.4 0h0m16.5 0h0m32.8 0h0m4.1 0h0m8.2 0h0m8.2 0h0m8.2 0h0m16.4 0h0m8.2 0h0m4.2 0h0m12.3 0h0m16.4 0h0m4.1 0h0m4.1 0h0m-199.1 3.6h0m28.8 0h0m20.5 0h0m12.3 0h0m28.7 0h0m20.6 0h0m4.1 0h0m4.1 0h0m12.3 0h0m4.1 0h0m4.1 0h0m4.1 0h0m4.1 0h0m8.2 0h0m4.1 0h0m4.1 0h0m-178.5 3.6h0m4.1 0h0m12.3 0h0m8.2 0h0m8.2 0h0m16.4 0h0m8.2 0h0m4.1 0h0m12.4 0h0m8.2 0h0m16.4 0h0m24.6 0h0m8.2 0h0m12.3 0h0m8.2 0h0m45.2 0h0m8.2 0h0m4.1 0h0m4.1 0h0m-223.7 3.6h0m8.2 0h0m4.1 0h0m24.7 0h0m12.3 0h0m36.9 0h0m20.5 0h0m28.8 0h0m28.7 0h0m16.4 0h0m8.2 0h0m20.5 0h0m4.1 0h0m4.1 0h0m-170.3 3.5h0m8.2 0h0m12.3 0h0m41.1 0h0m16.4 0h0m4.1 0h0m4.1 0h0m4.1 0h0m8.2 0h0m8.2 0h0m4.1 0h0m4.1 0h0m8.2 0h0m4.1 0h0m4.1 0h0m4.1 0h0m4.2 0h0m8.2 0h0m4.1 0h0m12.3 0h0m-178.5 3.6h0m94.3 0h0m8.3 0h0m4.1 0h0m8.2 0h0m12.3 0h0m20.5 0h0m20.5 0h0m4.1 0h0m8.2 0h0m-199 3.6h0m106.7 0h0m16.4 0h0m8.2 0h0m4.1 0h0m20.5 0h0m8.2 0h0m12.4 0h0m4.1 0h0m4.1 0h0m12.3 0h0m4.1 0h0m4.1 0h0m-199.1 3.5h0m24.7 0h0m24.6 0h0m4.1 0h0m41 0h0m4.1 0h0m8.2 0h0m12.4 0h0m4.1 0h0m8.2 0h0m4.1 0h0m8.2 0h0m12.3 0h0m4.1 0h0m12.3 0h0m12.3 0h0m8.2 0h0m-178.5 3.6h0m45.1 0h0m8.3 0h0m28.7 0h0m4.1 0h0m4.1 0h0m4.1 0h0m32.8 0h0m4.1 0h0m4.1 0h0m4.1 0h0m4.1 0h0m4.1 0h0m8.3 0h0m28.7 0h0m4.1 0h0m-178.5 3.6h0m41 0h0m32.8 0h0m16.5 0h0m8.2 0h0m8.2 0h0m8.2 0h0m12.3 0h0m4.1 0h0m4.1 0h0m8.2 0h0m4.1 0h0m8.2 0h0m4.1 0h0m4.1 0h0m4.1 0h0m4.1 0h0m8.2 0h0m-153.9 3.6h0m28.8 0h0m8.2 0h0m4.1 0h0m4.1 0h0m4.1 0h0m16.4 0h0m16.4 0h0m16.4 0h0m8.2 0h0m20.6 0h0m4.1 0h0m12.3 0h0m4.1 0h0m-170.3 3.5h0m36.9 0h0m24.6 0h0m8.2 0h0m4.1 0h0m4.1 0h0m4.1 0h0m4.2 0h0m20.5 0h0m8.2 0h0m16.4 0h0m8.2 0h0m4.1 0h0m4.1 0h0m4.1 0h0m4.1 0h0m4.1 0h0m4.1 0h0m4.1 0h0m8.2 0h0m-174.4 3.6h0m16.4 0h0m16.5 0h0m24.6 0h0m8.2 0h0m4.1 0h0m8.2 0h0m12.3 0h0m4.1 0h0m4.1 0h0m8.2 0h0m8.2 0h0m4.1 0h0m4.1 0h0m4.1 0h0m8.3 0h0m12.3 0h0m4.1 0h0m8.2 0h0m8.2 0h0m4.1 0h0m-129.3 3.6h0m4.1 0h0m28.7 0h0m28.8 0h0m4.1 0h0m8.2 0h0m24.6 0h0m4.1 0h0m20.5 0h0m4.1 0h0m4.1 0h0m-125.1 3.5h0m4.1 0h0m4.1 0h0m20.5 0h0m4.1 0h0m4.1 0h0m12.3 0h0m4.1 0h0m8.2 0h0m4.1 0h0m20.6 0h0m4.1 0h0m20.5 0h0m12.3 0h0m-133.4 3.6h0m4.1 0h0m16.4 0h0m24.7 0h0m8.2 0h0m8.2 0h0m8.2 0h0m4.1 0h0m12.3 0h0m4.1 0h0m8.2 0h0m12.3 0h0m4.1 0h0m8.2 0h0m4.1 0h0m-186.7 3.6h0m36.9 0h0m20.6 0h0m4.1 0h0m12.3 0h0m4.1 0h0m8.2 0h0m20.5 0h0m4.1 0h0m8.2 0h0m4.1 0h0m12.3 0h0m12.3 0h0m4.1 0h0m16.5 0h0m12.3 0h0m-104.7 3.6h0m8.2 0h0m4.1 0h0m16.5 0h0m4.1 0h0m4.1 0h0m4.1 0h0m8.2 0h0m4.1 0h0m8.2 0h0m8.2 0h0m4.1 0h0m4.1 0h0m8.2 0h0m12.3 0h0m4.1 0h0m4.1 0h0m12.3 0h0m-104.6 3.5h0m4.1 0h0m16.4 0h0m8.2 0h0m8.2 0h0m4.1 0h0m12.3 0h0m20.6 0h0m4.1 0h0m4.1 0h0m8.2 0h0m-121.1 3.6h0m8.2 0h0m37 0h0m4.1 0h0m16.4 0h0m8.2 0h0m16.4 0h0m20.5 0h0m12.3 0h0m4.1 0h0m8.2 0h0m-125.1 3.6h0m12.3 0h0m4.1 0h0m4.1 0h0m24.6 0h0m4.1 0h0m4.1 0h0m12.3 0h0m4.1 0h0m4.1 0h0m8.2 0h0m8.3 0h0m4.1 0h0m8.2 0h0m8.2 0h0m-104.7 3.6h0m24.6 0h0m4.2 0h0m20.5 0h0m8.2 0h0m16.4 0h0m8.2 0h0m12.3 0h0m8.2 0h0m-112.8 3.5h0m12.3 0h0m4.1 0h0m4.1 0h0m4.1 0h0m4.1 0h0m16.4 0h0m16.4 0h0m4.1 0h0m24.7 0h0m4.1 0h0m8.2 0h0m4.1 0h0m4.1 0h0m8.2 0h0m-104.7 3.6h0m4.1 0h0m8.2 0h0m12.4 0h0m4.1 0h0m8.2 0h0m8.2 0h0m8.2 0h0m4.1 0h0m4.1 0h0m4.1 0h0m4.1 0h0m4.1 0h0m12.3 0h0m16.4 0h0m4.1 0h0m8.2 0h0m-100.5 3.6h0m4.1 0h0m4.1 0h0m4.1 0h0m4.1 0h0m8.2 0h0m8.2 0h0m12.3 0h0m24.7 0h0m4.1 0h0m12.3 0h0m8.2 0h0m-96.5 3.5h0m12.4 0h0m8.2 0h0m8.2 0h0m12.3 0h0m28.7 0h0m4.1 0h0m8.2 0h0m-75.9 3.6h0m4.1 0h0m8.2 0h0m4.1 0h0m16.4 0h0m28.8 0h0m8.2 0h0m-71.9 3.6h0m12.4 0h0m4.1 0h0m16.4 0h0m4.1 0h0m4.1 0h0m4.1 0h0m8.2 0h0m4.1 0h0m4.1 0h0m4.1 0h0m4.1 0h0m-71.8 3.6h0m12.3 0h0m8.2 0h0m4.1 0h0m8.2 0h0m4.1 0h0m24.7 0h0m12.3 0h0m-63.6 3.5h0m8.2 0h0m4.1 0h0m4.1 0h0m4.1 0h0m24.6 0h0m8.2 0h0m-43.1 3.6h0m4.1 0h0m12.3 0h0m12.3 0h0m4.1 0h0m-51.3 3.6h0m4.1 0h0m8.3 0h0m28.7 0h0m4.1 0h0m-30.8 3.5h0m4.1 0h0m12.3 0h0m4.1 0h0" stroke="#DCD6DD" stroke-width="4.1"/><path d="M78.1 67.3h0m28.7 0h0m4.1 0h0m8.2 0h0m8.2 0h0m8.2 0h0m4.1 0h0m4.1 0h0m4.1 0h0m4.1 0h0m8.2 0h0m8.3 0h0m-100.6 3.6h0m24.6 0h0m16.4 0h0m4.2 0h0m4.1 0h0m4.1 0h0m4.1 0h0m4.1 0h0m4.1 0h0m8.2 0h0m12.3 0h0m8.2 0h0m-88.2 3.5h0m28.7 0h0m4.1 0h0m4.1 0h0m4.1 0h0m4.1 0h0m4.1 0h0m4.1 0h0m12.3 0h0m4.1 0h0m8.2 0h0m4.1 0h0m-59.5 3.6h0m16.5 0h0m4.1 0h0m4.1 0h0m4.1 0h0m12.3 0h0m4.1 0h0m65.6 0h0m-96.4 3.6h0m4.1 0h0m4.1 0h0m4.1 0h0m4.1 0h0m12.3 0h0m8.2 0h0m12.3 0h0m4.2 0h0m16.4 0h0m28.7 0h0m-129.3 3.6h0m37 0h0m12.3 0h0m4.1 0h0m4.1 0h0m4.1 0h0m4.1 0h0m4.1 0h0m16.4 0h0m41 0h0m-116.9 3.5h0m20.5 0h0m8.2 0h0m4.1 0h0m8.2 0h0m4.1 0h0m4.1 0h0m4.1 0h0m4.1 0h0m4.1 0h0m4.1 0h0m4.1 0h0m8.3 0h0m8.2 0h0m12.3 0h0m28.7 0h0m20.5 0h0m-137.5 3.6h0m24.7 0h0m8.2 0h0m4.1 0h0m4.1 0h0m4.1 0h0m8.2 0h0m4.1 0h0m4.1 0h0m4.1 0h0m4.1 0h0m4.1 0h0m4.1 0h0m32.8 0h0m-96.4 3.6h0m8.2 0h0m8.2 0h0m4.1 0h0m4.1 0h0m4.1 0h0m8.2 0h0m4.1 0h0m8.3 0h0m4.1 0h0m4.1 0h0m4.1 0h0m4.1 0h0m4.1 0h0m24.6 0h0m8.2 0h0m28.7 0h0m-133.3 3.5h0m12.3 0h0m4.1 0h0m4.1 0h0m8.2 0h0m4.1 0h0m4.1 0h0m4.1 0h0m12.3 0h0m8.2 0h0m4.1 0h0m4.1 0h0m32.9 0h0m4.1 0h0m16.4 0h0m-223.7 3.6h0m110.8 0h0m16.4 0h0m4.1 0h0m4.1 0h0m4.1 0h0m4.1 0h0m4.1 0h0m4.2 0h0m8.2 0h0m8.2 0h0m8.2 0h0m20.5 0h0m12.3 0h0m24.6 0h0m4.1 0h0m-240 3.6h0m4.1 0h0m98.5 0h0m28.7 0h0m4.1 0h0m4.1 0h0m8.2 0h0m4.1 0h0m16.4 0h0m4.1 0h0m4.1 0h0m78 0h0m-256.5 3.6h0m8.2 0h0m106.7 0h0m16.4 0h0m12.3 0h0m8.2 0h0m4.2 0h0m4.1 0h0m4.1 0h0m4.1 0h0m4.1 0h0m8.2 0h0m4.1 0h0m4.1 0h0m4.1 0h0m20.5 0h0m4.1 0h0m32.8 0h0m-248.2 3.5h0m4.1 0h0m4.1 0h0m102.6 0h0m36.9 0h0m8.2 0h0m8.2 0h0m4.1 0h0m8.2 0h0m4.1 0h0m4.1 0h0m20.6 0h0m12.3 0h0m12.3 0h0m8.2 0h0m-240.1 3.6h0m4.1 0h0m4.1 0h0m4.1 0h0m4.1 0h0m4.1 0h0m127.2 0h0m4.1 0h0m4.2 0h0m12.3 0h0m4.1 0h0m4.1 0h0m16.4 0h0m20.5 0h0m20.5 0h0m-231.8 3.6h0m4.1 0h0m4.1 0h0m4.1 0h0m4.1 0h0m131.3 0h0m8.2 0h0m8.2 0h0m8.2 0h0m4.1 0h0m8.2 0h0m4.1 0h0m12.3 0h0m4.2 0h0m16.4 0h0m16.4 0h0m-240.1 3.6h0m4.1 0h0m4.1 0h0m4.1 0h0m4.1 0h0m4.1 0h0m8.2 0h0m131.4 0h0m12.3 0h0m4.1 0h0m4.1 0h0m8.2 0h0m8.2 0h0m-194.9 3.5h0m4.1 0h0m8.2 0h0m4.1 0h0m4.1 0h0m4.1 0h0m8.2 0h0m110.8 0h0m24.6 0h0m8.2 0h0m4.1 0h0m4.1 0h0m8.2 0h0m-194.9 3.6h0m4.1 0h0m8.2 0h0m4.1 0h0m4.1 0h0m4.1 0h0m8.2 0h0m4.1 0h0m127.3 0h0m8.2 0h0m8.2 0h0m4.1 0h0m4.1 0h0m4.1 0h0m4.1 0h0m4.1 0h0m4.1 0h0m28.7 0h0m4.1 0h0m8.2 0h0m-240 3.6h0m4.1 0h0m4.1 0h0m4.1 0h0m4.1 0h0m4.1 0h0m123.1 0h0m28.7 0h0m4.1 0h0m8.2 0h0m4.1 0h0m4.1 0h0m8.3 0h0m8.2 0h0m-215.5 3.5h0m4.1 0h0m4.1 0h0m4.1 0h0m4.1 0h0m4.1 0h0m4.1 0h0m4.1 0h0m131.4 0h0m8.2 0h0m16.4 0h0m8.2 0h0m4.1 0h0m4.1 0h0m4.1 0h0m12.3 0h0m4.1 0h0m8.2 0h0m-227.7 3.6h0m4.1 0h0m8.2 0h0m168.2 0h0m4.1 0h0m4.1 0h0m4.1 0h0m4.1 0h0m12.4 0h0m4.1 0h0m4.1 0h0m4.1 0h0m4.1 0h0m-227.8 3.6h0m4.1 0h0m8.2 0h0m176.5 0h0m4.1 0h0m4.1 0h0m4.1 0h0m12.3 0h0m8.2 0h0m4.1 0h0m8.2 0h0m8.2 0h0m-240 3.6h0m4.1 0h0m4.1 0h0m184.6 0h0m4.1 0h0m4.1 0h0m20.6 0h0m4.1 0h0m8.2 0h0m-236 3.5h0m8.2 0h0m4.1 0h0m172.4 0h0m12.3 0h0m8.2 0h0m4.1 0h0m24.6 0h0m-231.8 3.6h0m4.1 0h0m4.1 0h0m168.2 0h0m4.1 0h0m28.8 0h0m-178.6 3.6h0m14.4 3.5h0m192.9 0h0m-39 3.6h0m4.1 0h0m36.9 0h0m-207.2 17.9h0m20.5 7.1h0m-24.6 7.2h0m57.4 0h0m-73.8 7.1h0m57.4 0h0m59.5 3.6h0m-18.4 3.6h0m-112.9 3.5h0m4.1 0h0m-2 3.6h0m4.1 0h0m-2.1 3.6h0m4.1 0h0m73.9 0h0m147.7 0h0m-223.6 3.5h0m4.1 0h0m2 3.6h0m4.1 0h0m-6.1 3.6h0m4.1 0h0m180.5 0h0m37 0h0m-6.2 3.6h0m-207.2 3.5h0m4.1 0h0m221.6 0h0m-223.7 3.6h0m4.1 0h0m4.1 0h0m4.1 0h0m49.3 0h0m61.5 0h0m65.7 0h0m-186.7 3.6h0m4.1 0h0m4.1 0h0m16.4 0h0m102.6 0h0m-125.2 3.5h0m4.1 0h0m4.1 0h0m4.1 0h0m143.7 0h0m-153.9 3.6h0m4.1 0h0m4.1 0h0m4.1 0h0m4.1 0h0m4.1 0h0m-18.5 3.6h0m4.1 0h0m4.1 0h0m4.1 0h0m4.1 0h0m4.1 0h0m20.6 0h0m8.2 0h0m36.9 0h0m-84.1 3.6h0m4.1 0h0m8.2 0h0m4.1 0h0m4.1 0h0m-18.5 3.5h0m4.1 0h0m4.1 0h0m4.1 0h0m4.1 0h0m4.2 0h0m4.1 0h0m-22.6 3.6h0m4.1 0h0m4.1 0h0m4.1 0h0m-14.4 3.6h0m8.2 0h0m4.1 0h0m4.1 0h0m8.3 0h0m65.6 0h0m110.8 0h0m-190.8 3.5h0m4.1 0h0m4.1 0h0m4.1 0h0m4.1 0h0m4.1 0h0m8.2 0h0m168.3 0h0m-182.6 3.6h0m4.1 0h0m4.1 0h0m4.1 0h0m4.1 0h0m4.1 0h0m-30.8 3.6h0m8.2 0h0m4.1 0h0m4.1 0h0m4.1 0h0m4.1 0h0m4.1 0h0m4.1 0h0m4.1 0h0m12.3 0h0m-34.8 3.6h0m4.1 0h0m8.2 0h0m4.1 0h0m4.1 0h0m4.1 0h0m8.2 0h0m-43.1 3.5h0m12.3 0h0m4.1 0h0m4.1 0h0m8.2 0h0m12.3 0h0m-38.9 3.6h0m16.4 0h0m4.1 0h0m4.1 0h0m4.1 0h0m4.1 0h0m4.1 0h0m4.1 0h0m-39 3.6h0m20.5 0h0m4.1 0h0m4.1 0h0m4.1 0h0m8.2 0h0m4.1 0h0m4.2 0h0m-22.6 3.6h0m8.2 0h0m4.1 0h0m8.2 0h0m4.1 0h0m73.9 0h0m-112.9 3.5h0m24.6 0h0m12.4 0h0m4.1 0h0m4.1 0h0m-6.2 3.6h0m8.2 0h0m4.1 0h0m4.1 0h0m106.7 0h0m-116.9 3.6h0m4.1 0h0m4.1 0h0m4.1 0h0m4.1 0h0m98.5 0h0m-133.4 3.5h0m4.1 0h0m24.6 0h0m8.2 0h0m8.2 0h0m-51.3 3.6h0m41.1 0h0m4.1 0h0m4.1 0h0m4.1 0h0m16.4 0h0m41 0h0m4.1 0h0m-116.9 3.6h0m28.7 0h0m16.4 0h0m4.1 0h0m4.1 0h0m4.1 0h0m-30.7 3.6h0m28.7 0h0m-26.7 3.5h0m16.4 0h0m-10.2 3.6h0" stroke="#65149C" stroke-width="4.1"/></g></g><text x="844" y="56" font-size="30" text-anchor="start" fill="#000" font-weight="bold" >f</text><text x="987.35" y="107.6" font-size="27.5" text-anchor="middle" fill="#000" font-weight="normal" >Manual annotation</text><text x="987.35" y="145.3" font-size="27.5" text-anchor="middle" fill="#000" font-weight="normal" >(slice 151507)</text><text x="1398.85" y="107.6" font-size="27.5" text-anchor="middle" fill="#000" font-weight="normal" >SpaGCN</text><text x="1398.85" y="145.3" font-size="27.5" text-anchor="middle" fill="#000" font-weight="normal" >(67 genes)</text><text x="1695.85" y="107.6" font-size="27.5" text-anchor="middle" fill="#000" font-weight="normal" >SpatialDE</text><text x="1695.85" y="145.3" font-size="27.5" text-anchor="middle" fill="#000" font-weight="normal" >(67 genes)</text><text x="1992.85" y="107.6" font-size="27.5" text-anchor="middle" fill="#000" font-weight="normal" >SPARK</text><text x="1992.85" y="145.3" font-size="27.5" text-anchor="middle" fill="#000" font-weight="normal" >(67 genes)</text><text x="1145.5" y="212.7" font-size="21" text-anchor="start" fill="#000" font-weight="normal" >Domains</text><circle cx="1152" cy="233.2" r="3.4" fill="#F46E70"/><text x="1169.3" y="239.4" font-size="20" text-anchor="start" fill="#000" font-weight="normal" >WM</text><circle cx="1152" cy="266.5" r="3.4" fill="#F9B71A"/><text x="1169.3" y="272.7" font-size="20" text-anchor="start" fill="#000" font-weight="normal" >Layer 1</text><circle cx="1152" cy="299.8" r="3.4" fill="#C99AF6"/><text x="1169.3" y="306" font-size="20" text-anchor="start" fill="#000" font-weight="normal" >Layer 2</text><circle cx="1152" cy="333.1" r="3.4" fill="#58BD86"/><text x="1169.3" y="339.3" font-size="20" text-anchor="start" fill="#000" font-weight="normal" >Layer 3</text><circle cx="1152" cy="366.4" r="3.4" fill="#7497D6"/><text x="1169.3" y="372.6" font-size="20" text-anchor="start" fill="#000" font-weight="normal" >Layer 4</text><circle cx="1152" cy="399.7" r="3.4" fill="#DCD6DD"/><text x="1169.3" y="405.9" font-size="20" text-anchor="start" fill="#000" font-weight="normal" >Layer 5</text><circle cx="1152" cy="433" r="3.4" fill="#65149C"/><text x="1169.3" y="439.2" font-size="20" text-anchor="start" fill="#000" font-weight="normal" >Layer 6</text><circle cx="1152" cy="466.3" r="3.4" fill="#1E8A22"/><text x="1169.3" y="472.5" font-size="20" text-anchor="start" fill="#000" font-weight="normal" >na</text><text x="2147.3" y="235.7" font-size="21" text-anchor="start" fill="#000" font-weight="normal" >Domains</text><circle cx="2170.8" cy="267.2" r="3.4" fill="#F46E70"/><text x="2189.5" y="273.6" font-size="20" text-anchor="start" fill="#000" font-weight="normal" >0</text><circle cx="2170.8" cy="302.45" r="3.4" fill="#F9B71A"/><text x="2189.5" y="308.85" font-size="20" text-anchor="start" fill="#000" font-weight="normal" >1</text><circle cx="2170.8" cy="337.7" r="3.4" fill="#C99AF6"/><text x="2189.5" y="344.1" font-size="20" text-anchor="start" fill="#000" font-weight="normal" >2</text><circle cx="2170.8" cy="372.95" r="3.4" fill="#58BD86"/><text x="2189.5" y="379.35" font-size="20" text-anchor="start" fill="#000" font-weight="normal" >3</text><circle cx="2170.8" cy="408.2" r="3.4" fill="#7497D6"/><text x="2189.5" y="414.6" font-size="20" text-anchor="start" fill="#000" font-weight="normal" >4</text><circle cx="2170.8" cy="443.45" r="3.4" fill="#DCD6DD"/><text x="2189.5" y="449.85" font-size="20" text-anchor="start" fill="#000" font-weight="normal" >5</text><circle cx="2170.8" cy="478.7" r="3.4" fill="#65149C"/><text x="2189.5" y="485.1" font-size="20" text-anchor="start" fill="#000" font-weight="normal" >6</text></svg></body></html>
